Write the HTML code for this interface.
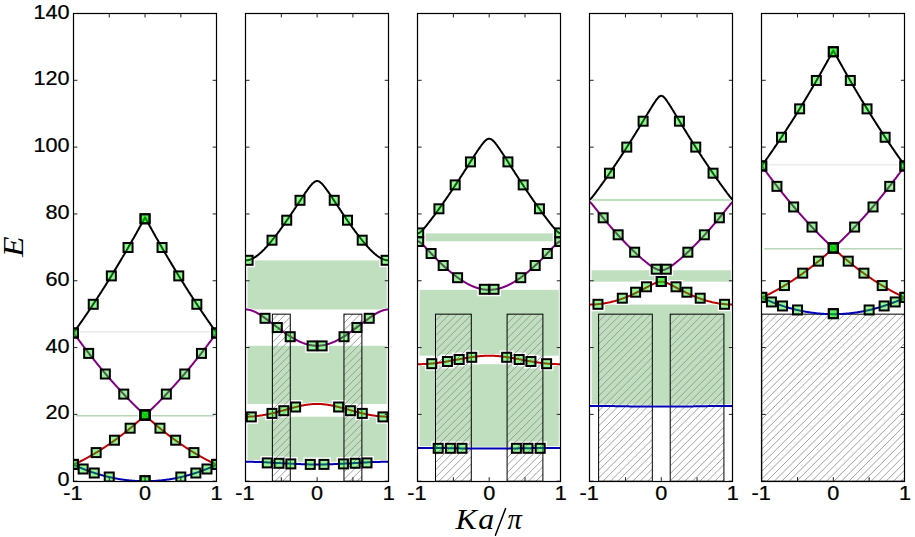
<!DOCTYPE html><html><head><meta charset="utf-8"><style>html,body{margin:0;padding:0;background:#fff;}svg{display:block;}</style></head><body>
<svg width="915" height="537" viewBox="0 0 915 537">
<rect x="0" y="0" width="915" height="537" fill="#fff"/>
<defs>
<clipPath id="c0"><rect x="73.45" y="13.50" width="143.20" height="467.70"/></clipPath>
<clipPath id="c1"><rect x="245.52" y="13.50" width="143.20" height="467.70"/></clipPath>
<clipPath id="c2"><rect x="417.59" y="13.50" width="143.20" height="467.70"/></clipPath>
<clipPath id="c3"><rect x="589.66" y="13.50" width="143.20" height="467.70"/></clipPath>
<clipPath id="c4"><rect x="761.73" y="13.50" width="143.20" height="467.70"/></clipPath>
</defs>
<g clip-path="url(#c0)">
<line x1="75.95" x2="214.15" y1="415.86" y2="415.86" stroke="rgb(186,214,186)" stroke-width="1.5"/>
<line x1="74.45" x2="215.65" y1="331.83" y2="331.83" stroke="rgb(236,236,236)" stroke-width="1.6"/>
<path d="M73.5,464.7L73.9,464.9L74.4,465.1L74.8,465.3L75.3,465.5L75.7,465.7L76.2,465.9L76.6,466.1L77.1,466.3L77.5,466.5L78.0,466.7L78.4,466.9L78.9,467.1L79.3,467.3L79.8,467.5L80.2,467.7L80.7,467.9L81.1,468.1L81.6,468.2L82.0,468.4L82.5,468.6L82.9,468.8L83.4,469.0L83.8,469.1L84.3,469.3L84.7,469.5L85.2,469.7L85.6,469.8L86.1,470.0L86.5,470.2L87.0,470.3L87.4,470.5L87.9,470.7L88.3,470.8L88.8,471.0L89.2,471.2L89.7,471.3L90.1,471.5L90.6,471.7L91.0,471.8L91.5,472.0L91.9,472.1L92.4,472.3L92.8,472.4L93.3,472.6L93.7,472.7L94.2,472.9L94.6,473.0L95.1,473.2L95.5,473.3L96.0,473.5L96.4,473.6L96.9,473.7L97.3,473.9L97.8,474.0L98.2,474.1L98.7,474.3L99.1,474.4L99.6,474.5L100.0,474.7L100.5,474.8L100.9,474.9L101.4,475.1L101.8,475.2L102.3,475.3L102.7,475.4L103.2,475.6L103.6,475.7L104.1,475.8L104.5,475.9L105.0,476.0L105.4,476.2L105.9,476.3L106.3,476.4L106.8,476.5L107.2,476.6L107.7,476.7L108.1,476.8L108.6,476.9L109.0,477.0L109.5,477.1L109.9,477.2L110.4,477.3L110.8,477.4L111.3,477.5L111.7,477.6L112.2,477.7L112.6,477.8L113.1,477.9L113.5,478.0L114.0,478.1L114.4,478.2L114.9,478.3L115.3,478.4L115.8,478.4L116.2,478.5L116.7,478.6L117.1,478.7L117.6,478.8L118.0,478.9L118.5,478.9L118.9,479.0L119.4,479.1L119.8,479.2L120.3,479.2L120.7,479.3L121.2,479.4L121.6,479.4L122.1,479.5L122.5,479.6L123.0,479.6L123.4,479.7L123.9,479.8L124.3,479.8L124.8,479.9L125.2,479.9L125.7,480.0L126.1,480.0L126.6,480.1L127.0,480.2L127.5,480.2L127.9,480.3L128.4,480.3L128.8,480.4L129.3,480.4L129.7,480.4L130.2,480.5L130.6,480.5L131.1,480.6L131.5,480.6L132.0,480.7L132.4,480.7L132.9,480.7L133.3,480.8L133.8,480.8L134.2,480.8L134.7,480.9L135.1,480.9L135.6,480.9L136.0,480.9L136.5,481.0L136.9,481.0L137.4,481.0L137.8,481.0L138.3,481.1L138.7,481.1L139.2,481.1L139.6,481.1L140.1,481.1L140.5,481.1L141.0,481.1L141.4,481.2L141.9,481.2L142.3,481.2L142.8,481.2L143.2,481.2L143.7,481.2L144.1,481.2L144.6,481.2L145.1,481.2L145.5,481.2L146.0,481.2L146.4,481.2L146.9,481.2L147.3,481.2L147.8,481.2L148.2,481.2L148.7,481.2L149.1,481.1L149.6,481.1L150.0,481.1L150.5,481.1L150.9,481.1L151.4,481.1L151.8,481.1L152.3,481.0L152.7,481.0L153.2,481.0L153.6,481.0L154.1,480.9L154.5,480.9L155.0,480.9L155.4,480.9L155.9,480.8L156.3,480.8L156.8,480.8L157.2,480.7L157.7,480.7L158.1,480.7L158.6,480.6L159.0,480.6L159.5,480.5L159.9,480.5L160.4,480.4L160.8,480.4L161.3,480.4L161.7,480.3L162.2,480.3L162.6,480.2L163.1,480.2L163.5,480.1L164.0,480.0L164.4,480.0L164.9,479.9L165.3,479.9L165.8,479.8L166.2,479.8L166.7,479.7L167.1,479.6L167.6,479.6L168.0,479.5L168.5,479.4L168.9,479.4L169.4,479.3L169.8,479.2L170.3,479.2L170.7,479.1L171.2,479.0L171.6,478.9L172.1,478.9L172.5,478.8L173.0,478.7L173.4,478.6L173.9,478.5L174.3,478.4L174.8,478.4L175.2,478.3L175.7,478.2L176.1,478.1L176.6,478.0L177.0,477.9L177.5,477.8L177.9,477.7L178.4,477.6L178.8,477.5L179.3,477.4L179.7,477.3L180.2,477.2L180.6,477.1L181.1,477.0L181.5,476.9L182.0,476.8L182.4,476.7L182.9,476.6L183.3,476.5L183.8,476.4L184.2,476.3L184.7,476.2L185.1,476.0L185.6,475.9L186.0,475.8L186.5,475.7L186.9,475.6L187.4,475.4L187.8,475.3L188.3,475.2L188.7,475.1L189.2,474.9L189.6,474.8L190.1,474.7L190.5,474.5L191.0,474.4L191.4,474.3L191.9,474.1L192.3,474.0L192.8,473.9L193.2,473.7L193.7,473.6L194.1,473.5L194.6,473.3L195.0,473.2L195.5,473.0L195.9,472.9L196.4,472.7L196.8,472.6L197.3,472.4L197.7,472.3L198.2,472.1L198.6,472.0L199.1,471.8L199.5,471.7L200.0,471.5L200.4,471.3L200.9,471.2L201.3,471.0L201.8,470.8L202.2,470.7L202.7,470.5L203.1,470.3L203.6,470.2L204.0,470.0L204.5,469.8L204.9,469.7L205.4,469.5L205.8,469.3L206.3,469.1L206.7,469.0L207.2,468.8L207.6,468.6L208.1,468.4L208.5,468.2L209.0,468.1L209.4,467.9L209.9,467.7L210.3,467.5L210.8,467.3L211.2,467.1L211.7,466.9L212.1,466.7L212.6,466.5L213.0,466.3L213.5,466.1L213.9,465.9L214.4,465.7L214.8,465.5L215.3,465.3L215.7,465.1L216.2,464.9L216.7,464.7" fill="none" stroke="#fff" stroke-width="3.60" stroke-linejoin="round"/>
<path d="M73.5,464.7L73.9,464.5L74.4,464.3L74.8,464.1L75.3,463.9L75.7,463.7L76.2,463.4L76.6,463.2L77.1,463.0L77.5,462.8L78.0,462.6L78.4,462.4L78.9,462.1L79.3,461.9L79.8,461.7L80.2,461.5L80.7,461.2L81.1,461.0L81.6,460.8L82.0,460.5L82.5,460.3L82.9,460.1L83.4,459.8L83.8,459.6L84.3,459.4L84.7,459.1L85.2,458.9L85.6,458.6L86.1,458.4L86.5,458.2L87.0,457.9L87.4,457.7L87.9,457.4L88.3,457.2L88.8,456.9L89.2,456.7L89.7,456.4L90.1,456.1L90.6,455.9L91.0,455.6L91.5,455.4L91.9,455.1L92.4,454.9L92.8,454.6L93.3,454.3L93.7,454.1L94.2,453.8L94.6,453.5L95.1,453.3L95.5,453.0L96.0,452.7L96.4,452.4L96.9,452.2L97.3,451.9L97.8,451.6L98.2,451.3L98.7,451.1L99.1,450.8L99.6,450.5L100.0,450.2L100.5,449.9L100.9,449.6L101.4,449.4L101.8,449.1L102.3,448.8L102.7,448.5L103.2,448.2L103.6,447.9L104.1,447.6L104.5,447.3L105.0,447.0L105.4,446.7L105.9,446.4L106.3,446.1L106.8,445.8L107.2,445.5L107.7,445.2L108.1,444.9L108.6,444.6L109.0,444.3L109.5,444.0L109.9,443.6L110.4,443.3L110.8,443.0L111.3,442.7L111.7,442.4L112.2,442.1L112.6,441.7L113.1,441.4L113.5,441.1L114.0,440.8L114.4,440.4L114.9,440.1L115.3,439.8L115.8,439.5L116.2,439.1L116.7,438.8L117.1,438.5L117.6,438.1L118.0,437.8L118.5,437.5L118.9,437.1L119.4,436.8L119.8,436.4L120.3,436.1L120.7,435.8L121.2,435.4L121.6,435.1L122.1,434.7L122.5,434.4L123.0,434.0L123.4,433.7L123.9,433.3L124.3,433.0L124.8,432.6L125.2,432.2L125.7,431.9L126.1,431.5L126.6,431.2L127.0,430.8L127.5,430.4L127.9,430.1L128.4,429.7L128.8,429.3L129.3,429.0L129.7,428.6L130.2,428.2L130.6,427.9L131.1,427.5L131.5,427.1L132.0,426.7L132.4,426.4L132.9,426.0L133.3,425.6L133.8,425.2L134.2,424.8L134.7,424.5L135.1,424.1L135.6,423.7L136.0,423.3L136.5,422.9L136.9,422.5L137.4,422.1L137.8,421.7L138.3,421.3L138.7,420.9L139.2,420.5L139.6,420.1L140.1,419.7L140.5,419.3L141.0,418.9L141.4,418.5L141.9,418.1L142.3,417.7L142.8,417.3L143.2,416.9L143.7,416.5L144.1,416.1L144.6,415.7L145.1,415.3L145.5,415.7L146.0,416.1L146.4,416.5L146.9,416.9L147.3,417.3L147.8,417.7L148.2,418.1L148.7,418.5L149.1,418.9L149.6,419.3L150.0,419.7L150.5,420.1L150.9,420.5L151.4,420.9L151.8,421.3L152.3,421.7L152.7,422.1L153.2,422.5L153.6,422.9L154.1,423.3L154.5,423.7L155.0,424.1L155.4,424.5L155.9,424.8L156.3,425.2L156.8,425.6L157.2,426.0L157.7,426.4L158.1,426.7L158.6,427.1L159.0,427.5L159.5,427.9L159.9,428.2L160.4,428.6L160.8,429.0L161.3,429.3L161.7,429.7L162.2,430.1L162.6,430.4L163.1,430.8L163.5,431.2L164.0,431.5L164.4,431.9L164.9,432.2L165.3,432.6L165.8,433.0L166.2,433.3L166.7,433.7L167.1,434.0L167.6,434.4L168.0,434.7L168.5,435.1L168.9,435.4L169.4,435.8L169.8,436.1L170.3,436.4L170.7,436.8L171.2,437.1L171.6,437.5L172.1,437.8L172.5,438.1L173.0,438.5L173.4,438.8L173.9,439.1L174.3,439.5L174.8,439.8L175.2,440.1L175.7,440.4L176.1,440.8L176.6,441.1L177.0,441.4L177.5,441.7L177.9,442.1L178.4,442.4L178.8,442.7L179.3,443.0L179.7,443.3L180.2,443.6L180.6,444.0L181.1,444.3L181.5,444.6L182.0,444.9L182.4,445.2L182.9,445.5L183.3,445.8L183.8,446.1L184.2,446.4L184.7,446.7L185.1,447.0L185.6,447.3L186.0,447.6L186.5,447.9L186.9,448.2L187.4,448.5L187.8,448.8L188.3,449.1L188.7,449.4L189.2,449.6L189.6,449.9L190.1,450.2L190.5,450.5L191.0,450.8L191.4,451.1L191.9,451.3L192.3,451.6L192.8,451.9L193.2,452.2L193.7,452.4L194.1,452.7L194.6,453.0L195.0,453.3L195.5,453.5L195.9,453.8L196.4,454.1L196.8,454.3L197.3,454.6L197.7,454.9L198.2,455.1L198.6,455.4L199.1,455.6L199.5,455.9L200.0,456.1L200.4,456.4L200.9,456.7L201.3,456.9L201.8,457.2L202.2,457.4L202.7,457.7L203.1,457.9L203.6,458.2L204.0,458.4L204.5,458.6L204.9,458.9L205.4,459.1L205.8,459.4L206.3,459.6L206.7,459.8L207.2,460.1L207.6,460.3L208.1,460.5L208.5,460.8L209.0,461.0L209.4,461.2L209.9,461.5L210.3,461.7L210.8,461.9L211.2,462.1L211.7,462.4L212.1,462.6L212.6,462.8L213.0,463.0L213.5,463.2L213.9,463.4L214.4,463.7L214.8,463.9L215.3,464.1L215.7,464.3L216.2,464.5L216.7,464.7" fill="none" stroke="#fff" stroke-width="3.60" stroke-linejoin="round"/>
<path d="M73.5,332.8L73.9,333.4L74.4,334.1L74.8,334.7L75.3,335.3L75.7,335.9L76.2,336.5L76.6,337.2L77.1,337.8L77.5,338.4L78.0,339.0L78.4,339.6L78.9,340.2L79.3,340.8L79.8,341.4L80.2,342.0L80.7,342.6L81.1,343.2L81.6,343.8L82.0,344.4L82.5,345.0L82.9,345.6L83.4,346.2L83.8,346.8L84.3,347.4L84.7,348.0L85.2,348.6L85.6,349.1L86.1,349.7L86.5,350.3L87.0,350.9L87.4,351.5L87.9,352.1L88.3,352.6L88.8,353.2L89.2,353.8L89.7,354.4L90.1,355.0L90.6,355.5L91.0,356.1L91.5,356.7L91.9,357.2L92.4,357.8L92.8,358.4L93.3,358.9L93.7,359.5L94.2,360.1L94.6,360.6L95.1,361.2L95.5,361.7L96.0,362.3L96.4,362.9L96.9,363.4L97.3,364.0L97.8,364.5L98.2,365.1L98.7,365.6L99.1,366.2L99.6,366.7L100.0,367.3L100.5,367.8L100.9,368.4L101.4,368.9L101.8,369.4L102.3,370.0L102.7,370.5L103.2,371.0L103.6,371.6L104.1,372.1L104.5,372.6L105.0,373.2L105.4,373.7L105.9,374.2L106.3,374.8L106.8,375.3L107.2,375.8L107.7,376.3L108.1,376.9L108.6,377.4L109.0,377.9L109.5,378.4L109.9,378.9L110.4,379.5L110.8,380.0L111.3,380.5L111.7,381.0L112.2,381.5L112.6,382.0L113.1,382.5L113.5,383.0L114.0,383.5L114.4,384.0L114.9,384.5L115.3,385.0L115.8,385.5L116.2,386.0L116.7,386.5L117.1,387.0L117.6,387.5L118.0,388.0L118.5,388.5L118.9,389.0L119.4,389.5L119.8,390.0L120.3,390.5L120.7,391.0L121.2,391.4L121.6,391.9L122.1,392.4L122.5,392.9L123.0,393.4L123.4,393.8L123.9,394.3L124.3,394.8L124.8,395.3L125.2,395.7L125.7,396.2L126.1,396.7L126.6,397.2L127.0,397.6L127.5,398.1L127.9,398.6L128.4,399.0L128.8,399.5L129.3,399.9L129.7,400.4L130.2,400.9L130.6,401.3L131.1,401.8L131.5,402.2L132.0,402.7L132.4,403.1L132.9,403.6L133.3,404.0L133.8,404.5L134.2,404.9L134.7,405.4L135.1,405.8L135.6,406.3L136.0,406.7L136.5,407.1L136.9,407.6L137.4,408.0L137.8,408.5L138.3,408.9L138.7,409.3L139.2,409.8L139.6,410.2L140.1,410.6L140.5,411.0L141.0,411.5L141.4,411.9L141.9,412.3L142.3,412.7L142.8,413.2L143.2,413.6L143.7,414.0L144.1,414.4L144.6,414.8L145.1,415.3L145.5,414.8L146.0,414.4L146.4,414.0L146.9,413.6L147.3,413.2L147.8,412.7L148.2,412.3L148.7,411.9L149.1,411.5L149.6,411.0L150.0,410.6L150.5,410.2L150.9,409.8L151.4,409.3L151.8,408.9L152.3,408.5L152.7,408.0L153.2,407.6L153.6,407.1L154.1,406.7L154.5,406.3L155.0,405.8L155.4,405.4L155.9,404.9L156.3,404.5L156.8,404.0L157.2,403.6L157.7,403.1L158.1,402.7L158.6,402.2L159.0,401.8L159.5,401.3L159.9,400.9L160.4,400.4L160.8,399.9L161.3,399.5L161.7,399.0L162.2,398.6L162.6,398.1L163.1,397.6L163.5,397.2L164.0,396.7L164.4,396.2L164.9,395.7L165.3,395.3L165.8,394.8L166.2,394.3L166.7,393.8L167.1,393.4L167.6,392.9L168.0,392.4L168.5,391.9L168.9,391.4L169.4,391.0L169.8,390.5L170.3,390.0L170.7,389.5L171.2,389.0L171.6,388.5L172.1,388.0L172.5,387.5L173.0,387.0L173.4,386.5L173.9,386.0L174.3,385.5L174.8,385.0L175.2,384.5L175.7,384.0L176.1,383.5L176.6,383.0L177.0,382.5L177.5,382.0L177.9,381.5L178.4,381.0L178.8,380.5L179.3,380.0L179.7,379.5L180.2,378.9L180.6,378.4L181.1,377.9L181.5,377.4L182.0,376.9L182.4,376.3L182.9,375.8L183.3,375.3L183.8,374.8L184.2,374.2L184.7,373.7L185.1,373.2L185.6,372.6L186.0,372.1L186.5,371.6L186.9,371.0L187.4,370.5L187.8,370.0L188.3,369.4L188.7,368.9L189.2,368.4L189.6,367.8L190.1,367.3L190.5,366.7L191.0,366.2L191.4,365.6L191.9,365.1L192.3,364.5L192.8,364.0L193.2,363.4L193.7,362.9L194.1,362.3L194.6,361.7L195.0,361.2L195.5,360.6L195.9,360.1L196.4,359.5L196.8,358.9L197.3,358.4L197.7,357.8L198.2,357.2L198.6,356.7L199.1,356.1L199.5,355.5L200.0,355.0L200.4,354.4L200.9,353.8L201.3,353.2L201.8,352.6L202.2,352.1L202.7,351.5L203.1,350.9L203.6,350.3L204.0,349.7L204.5,349.1L204.9,348.6L205.4,348.0L205.8,347.4L206.3,346.8L206.7,346.2L207.2,345.6L207.6,345.0L208.1,344.4L208.5,343.8L209.0,343.2L209.4,342.6L209.9,342.0L210.3,341.4L210.8,340.8L211.2,340.2L211.7,339.6L212.1,339.0L212.6,338.4L213.0,337.8L213.5,337.2L213.9,336.5L214.4,335.9L214.8,335.3L215.3,334.7L215.7,334.1L216.2,333.4L216.7,332.8" fill="none" stroke="#fff" stroke-width="3.60" stroke-linejoin="round"/>
<path d="M73.5,332.8L73.9,332.2L74.4,331.6L74.8,331.0L75.3,330.3L75.7,329.7L76.2,329.1L76.6,328.4L77.1,327.8L77.5,327.2L78.0,326.5L78.4,325.9L78.9,325.3L79.3,324.6L79.8,324.0L80.2,323.3L80.7,322.7L81.1,322.1L81.6,321.4L82.0,320.8L82.5,320.1L82.9,319.5L83.4,318.8L83.8,318.2L84.3,317.5L84.7,316.9L85.2,316.2L85.6,315.6L86.1,314.9L86.5,314.2L87.0,313.6L87.4,312.9L87.9,312.3L88.3,311.6L88.8,310.9L89.2,310.3L89.7,309.6L90.1,308.9L90.6,308.2L91.0,307.6L91.5,306.9L91.9,306.2L92.4,305.5L92.8,304.9L93.3,304.2L93.7,303.5L94.2,302.8L94.6,302.1L95.1,301.5L95.5,300.8L96.0,300.1L96.4,299.4L96.9,298.7L97.3,298.0L97.8,297.3L98.2,296.6L98.7,295.9L99.1,295.2L99.6,294.6L100.0,293.9L100.5,293.2L100.9,292.5L101.4,291.8L101.8,291.0L102.3,290.3L102.7,289.6L103.2,288.9L103.6,288.2L104.1,287.5L104.5,286.8L105.0,286.1L105.4,285.4L105.9,284.7L106.3,283.9L106.8,283.2L107.2,282.5L107.7,281.8L108.1,281.1L108.6,280.3L109.0,279.6L109.5,278.9L109.9,278.2L110.4,277.4L110.8,276.7L111.3,276.0L111.7,275.2L112.2,274.5L112.6,273.8L113.1,273.0L113.5,272.3L114.0,271.6L114.4,270.8L114.9,270.1L115.3,269.3L115.8,268.6L116.2,267.8L116.7,267.1L117.1,266.3L117.6,265.6L118.0,264.8L118.5,264.1L118.9,263.3L119.4,262.6L119.8,261.8L120.3,261.1L120.7,260.3L121.2,259.6L121.6,258.8L122.1,258.0L122.5,257.3L123.0,256.5L123.4,255.7L123.9,255.0L124.3,254.2L124.8,253.4L125.2,252.7L125.7,251.9L126.1,251.1L126.6,250.3L127.0,249.6L127.5,248.8L127.9,248.0L128.4,247.2L128.8,246.4L129.3,245.7L129.7,244.9L130.2,244.1L130.6,243.3L131.1,242.5L131.5,241.7L132.0,240.9L132.4,240.1L132.9,239.3L133.3,238.6L133.8,237.8L134.2,237.0L134.7,236.2L135.1,235.4L135.6,234.6L136.0,233.8L136.5,233.0L136.9,232.1L137.4,231.3L137.8,230.5L138.3,229.7L138.7,228.9L139.2,228.1L139.6,227.3L140.1,226.5L140.5,225.7L141.0,224.8L141.4,224.0L141.9,223.2L142.3,222.4L142.8,221.6L143.2,220.7L143.7,219.9L144.1,219.1L144.6,218.3L145.1,217.4L145.5,218.3L146.0,219.1L146.4,219.9L146.9,220.7L147.3,221.6L147.8,222.4L148.2,223.2L148.7,224.0L149.1,224.8L149.6,225.7L150.0,226.5L150.5,227.3L150.9,228.1L151.4,228.9L151.8,229.7L152.3,230.5L152.7,231.3L153.2,232.1L153.6,233.0L154.1,233.8L154.5,234.6L155.0,235.4L155.4,236.2L155.9,237.0L156.3,237.8L156.8,238.6L157.2,239.3L157.7,240.1L158.1,240.9L158.6,241.7L159.0,242.5L159.5,243.3L159.9,244.1L160.4,244.9L160.8,245.7L161.3,246.4L161.7,247.2L162.2,248.0L162.6,248.8L163.1,249.6L163.5,250.3L164.0,251.1L164.4,251.9L164.9,252.7L165.3,253.4L165.8,254.2L166.2,255.0L166.7,255.7L167.1,256.5L167.6,257.3L168.0,258.0L168.5,258.8L168.9,259.6L169.4,260.3L169.8,261.1L170.3,261.8L170.7,262.6L171.2,263.3L171.6,264.1L172.1,264.8L172.5,265.6L173.0,266.3L173.4,267.1L173.9,267.8L174.3,268.6L174.8,269.3L175.2,270.1L175.7,270.8L176.1,271.6L176.6,272.3L177.0,273.0L177.5,273.8L177.9,274.5L178.4,275.2L178.8,276.0L179.3,276.7L179.7,277.4L180.2,278.2L180.6,278.9L181.1,279.6L181.5,280.3L182.0,281.1L182.4,281.8L182.9,282.5L183.3,283.2L183.8,283.9L184.2,284.7L184.7,285.4L185.1,286.1L185.6,286.8L186.0,287.5L186.5,288.2L186.9,288.9L187.4,289.6L187.8,290.3L188.3,291.0L188.7,291.8L189.2,292.5L189.6,293.2L190.1,293.9L190.5,294.6L191.0,295.2L191.4,295.9L191.9,296.6L192.3,297.3L192.8,298.0L193.2,298.7L193.7,299.4L194.1,300.1L194.6,300.8L195.0,301.5L195.5,302.1L195.9,302.8L196.4,303.5L196.8,304.2L197.3,304.9L197.7,305.5L198.2,306.2L198.6,306.9L199.1,307.6L199.5,308.2L200.0,308.9L200.4,309.6L200.9,310.3L201.3,310.9L201.8,311.6L202.2,312.3L202.7,312.9L203.1,313.6L203.6,314.2L204.0,314.9L204.5,315.6L204.9,316.2L205.4,316.9L205.8,317.5L206.3,318.2L206.7,318.8L207.2,319.5L207.6,320.1L208.1,320.8L208.5,321.4L209.0,322.1L209.4,322.7L209.9,323.3L210.3,324.0L210.8,324.6L211.2,325.3L211.7,325.9L212.1,326.5L212.6,327.2L213.0,327.8L213.5,328.4L213.9,329.1L214.4,329.7L214.8,330.3L215.3,331.0L215.7,331.6L216.2,332.2L216.7,332.8" fill="none" stroke="#fff" stroke-width="3.60" stroke-linejoin="round"/>
<path d="M138.15,473.80h13.80v13.80h-13.80zM138.15,473.80h13.80v13.80h-13.80zM102.35,470.10h13.80v13.80h-13.80zM173.95,470.10h13.80v13.80h-13.80zM87.35,466.10h13.80v13.80h-13.80zM188.95,466.10h13.80v13.80h-13.80zM76.25,462.10h13.80v13.80h-13.80zM200.05,462.10h13.80v13.80h-13.80zM66.55,457.50h13.80v13.80h-13.80zM209.75,457.50h13.80v13.80h-13.80zM138.15,408.10h13.80v13.80h-13.80zM138.15,408.10h13.80v13.80h-13.80zM123.25,421.30h13.80v13.80h-13.80zM153.05,421.30h13.80v13.80h-13.80zM107.55,433.30h13.80v13.80h-13.80zM168.75,433.30h13.80v13.80h-13.80zM89.25,445.70h13.80v13.80h-13.80zM187.05,445.70h13.80v13.80h-13.80zM66.55,457.50h13.80v13.80h-13.80zM209.75,457.50h13.80v13.80h-13.80zM138.15,408.10h13.80v13.80h-13.80zM138.15,408.10h13.80v13.80h-13.80zM116.85,387.20h13.80v13.80h-13.80zM159.45,387.20h13.80v13.80h-13.80zM98.45,367.10h13.80v13.80h-13.80zM177.85,367.10h13.80v13.80h-13.80zM81.75,346.50h13.80v13.80h-13.80zM194.55,346.50h13.80v13.80h-13.80zM66.55,326.10h13.80v13.80h-13.80zM209.75,326.10h13.80v13.80h-13.80zM138.15,211.90h13.80v13.80h-13.80zM138.15,211.90h13.80v13.80h-13.80zM121.15,240.60h13.80v13.80h-13.80zM155.15,240.60h13.80v13.80h-13.80zM104.45,269.00h13.80v13.80h-13.80zM171.85,269.00h13.80v13.80h-13.80zM86.35,297.40h13.80v13.80h-13.80zM189.95,297.40h13.80v13.80h-13.80zM66.55,326.10h13.80v13.80h-13.80zM209.75,326.10h13.80v13.80h-13.80z" fill="#fff"/>
<path d="M73.5,464.7L73.9,464.9L74.4,465.1L74.8,465.3L75.3,465.5L75.7,465.7L76.2,465.9L76.6,466.1L77.1,466.3L77.5,466.5L78.0,466.7L78.4,466.9L78.9,467.1L79.3,467.3L79.8,467.5L80.2,467.7L80.7,467.9L81.1,468.1L81.6,468.2L82.0,468.4L82.5,468.6L82.9,468.8L83.4,469.0L83.8,469.1L84.3,469.3L84.7,469.5L85.2,469.7L85.6,469.8L86.1,470.0L86.5,470.2L87.0,470.3L87.4,470.5L87.9,470.7L88.3,470.8L88.8,471.0L89.2,471.2L89.7,471.3L90.1,471.5L90.6,471.7L91.0,471.8L91.5,472.0L91.9,472.1L92.4,472.3L92.8,472.4L93.3,472.6L93.7,472.7L94.2,472.9L94.6,473.0L95.1,473.2L95.5,473.3L96.0,473.5L96.4,473.6L96.9,473.7L97.3,473.9L97.8,474.0L98.2,474.1L98.7,474.3L99.1,474.4L99.6,474.5L100.0,474.7L100.5,474.8L100.9,474.9L101.4,475.1L101.8,475.2L102.3,475.3L102.7,475.4L103.2,475.6L103.6,475.7L104.1,475.8L104.5,475.9L105.0,476.0L105.4,476.2L105.9,476.3L106.3,476.4L106.8,476.5L107.2,476.6L107.7,476.7L108.1,476.8L108.6,476.9L109.0,477.0L109.5,477.1L109.9,477.2L110.4,477.3L110.8,477.4L111.3,477.5L111.7,477.6L112.2,477.7L112.6,477.8L113.1,477.9L113.5,478.0L114.0,478.1L114.4,478.2L114.9,478.3L115.3,478.4L115.8,478.4L116.2,478.5L116.7,478.6L117.1,478.7L117.6,478.8L118.0,478.9L118.5,478.9L118.9,479.0L119.4,479.1L119.8,479.2L120.3,479.2L120.7,479.3L121.2,479.4L121.6,479.4L122.1,479.5L122.5,479.6L123.0,479.6L123.4,479.7L123.9,479.8L124.3,479.8L124.8,479.9L125.2,479.9L125.7,480.0L126.1,480.0L126.6,480.1L127.0,480.2L127.5,480.2L127.9,480.3L128.4,480.3L128.8,480.4L129.3,480.4L129.7,480.4L130.2,480.5L130.6,480.5L131.1,480.6L131.5,480.6L132.0,480.7L132.4,480.7L132.9,480.7L133.3,480.8L133.8,480.8L134.2,480.8L134.7,480.9L135.1,480.9L135.6,480.9L136.0,480.9L136.5,481.0L136.9,481.0L137.4,481.0L137.8,481.0L138.3,481.1L138.7,481.1L139.2,481.1L139.6,481.1L140.1,481.1L140.5,481.1L141.0,481.1L141.4,481.2L141.9,481.2L142.3,481.2L142.8,481.2L143.2,481.2L143.7,481.2L144.1,481.2L144.6,481.2L145.1,481.2L145.5,481.2L146.0,481.2L146.4,481.2L146.9,481.2L147.3,481.2L147.8,481.2L148.2,481.2L148.7,481.2L149.1,481.1L149.6,481.1L150.0,481.1L150.5,481.1L150.9,481.1L151.4,481.1L151.8,481.1L152.3,481.0L152.7,481.0L153.2,481.0L153.6,481.0L154.1,480.9L154.5,480.9L155.0,480.9L155.4,480.9L155.9,480.8L156.3,480.8L156.8,480.8L157.2,480.7L157.7,480.7L158.1,480.7L158.6,480.6L159.0,480.6L159.5,480.5L159.9,480.5L160.4,480.4L160.8,480.4L161.3,480.4L161.7,480.3L162.2,480.3L162.6,480.2L163.1,480.2L163.5,480.1L164.0,480.0L164.4,480.0L164.9,479.9L165.3,479.9L165.8,479.8L166.2,479.8L166.7,479.7L167.1,479.6L167.6,479.6L168.0,479.5L168.5,479.4L168.9,479.4L169.4,479.3L169.8,479.2L170.3,479.2L170.7,479.1L171.2,479.0L171.6,478.9L172.1,478.9L172.5,478.8L173.0,478.7L173.4,478.6L173.9,478.5L174.3,478.4L174.8,478.4L175.2,478.3L175.7,478.2L176.1,478.1L176.6,478.0L177.0,477.9L177.5,477.8L177.9,477.7L178.4,477.6L178.8,477.5L179.3,477.4L179.7,477.3L180.2,477.2L180.6,477.1L181.1,477.0L181.5,476.9L182.0,476.8L182.4,476.7L182.9,476.6L183.3,476.5L183.8,476.4L184.2,476.3L184.7,476.2L185.1,476.0L185.6,475.9L186.0,475.8L186.5,475.7L186.9,475.6L187.4,475.4L187.8,475.3L188.3,475.2L188.7,475.1L189.2,474.9L189.6,474.8L190.1,474.7L190.5,474.5L191.0,474.4L191.4,474.3L191.9,474.1L192.3,474.0L192.8,473.9L193.2,473.7L193.7,473.6L194.1,473.5L194.6,473.3L195.0,473.2L195.5,473.0L195.9,472.9L196.4,472.7L196.8,472.6L197.3,472.4L197.7,472.3L198.2,472.1L198.6,472.0L199.1,471.8L199.5,471.7L200.0,471.5L200.4,471.3L200.9,471.2L201.3,471.0L201.8,470.8L202.2,470.7L202.7,470.5L203.1,470.3L203.6,470.2L204.0,470.0L204.5,469.8L204.9,469.7L205.4,469.5L205.8,469.3L206.3,469.1L206.7,469.0L207.2,468.8L207.6,468.6L208.1,468.4L208.5,468.2L209.0,468.1L209.4,467.9L209.9,467.7L210.3,467.5L210.8,467.3L211.2,467.1L211.7,466.9L212.1,466.7L212.6,466.5L213.0,466.3L213.5,466.1L213.9,465.9L214.4,465.7L214.8,465.5L215.3,465.3L215.7,465.1L216.2,464.9L216.7,464.7" fill="none" stroke="#0000b4" stroke-width="2" stroke-linejoin="round"/>
<path d="M73.5,464.7L73.9,464.5L74.4,464.3L74.8,464.1L75.3,463.9L75.7,463.7L76.2,463.4L76.6,463.2L77.1,463.0L77.5,462.8L78.0,462.6L78.4,462.4L78.9,462.1L79.3,461.9L79.8,461.7L80.2,461.5L80.7,461.2L81.1,461.0L81.6,460.8L82.0,460.5L82.5,460.3L82.9,460.1L83.4,459.8L83.8,459.6L84.3,459.4L84.7,459.1L85.2,458.9L85.6,458.6L86.1,458.4L86.5,458.2L87.0,457.9L87.4,457.7L87.9,457.4L88.3,457.2L88.8,456.9L89.2,456.7L89.7,456.4L90.1,456.1L90.6,455.9L91.0,455.6L91.5,455.4L91.9,455.1L92.4,454.9L92.8,454.6L93.3,454.3L93.7,454.1L94.2,453.8L94.6,453.5L95.1,453.3L95.5,453.0L96.0,452.7L96.4,452.4L96.9,452.2L97.3,451.9L97.8,451.6L98.2,451.3L98.7,451.1L99.1,450.8L99.6,450.5L100.0,450.2L100.5,449.9L100.9,449.6L101.4,449.4L101.8,449.1L102.3,448.8L102.7,448.5L103.2,448.2L103.6,447.9L104.1,447.6L104.5,447.3L105.0,447.0L105.4,446.7L105.9,446.4L106.3,446.1L106.8,445.8L107.2,445.5L107.7,445.2L108.1,444.9L108.6,444.6L109.0,444.3L109.5,444.0L109.9,443.6L110.4,443.3L110.8,443.0L111.3,442.7L111.7,442.4L112.2,442.1L112.6,441.7L113.1,441.4L113.5,441.1L114.0,440.8L114.4,440.4L114.9,440.1L115.3,439.8L115.8,439.5L116.2,439.1L116.7,438.8L117.1,438.5L117.6,438.1L118.0,437.8L118.5,437.5L118.9,437.1L119.4,436.8L119.8,436.4L120.3,436.1L120.7,435.8L121.2,435.4L121.6,435.1L122.1,434.7L122.5,434.4L123.0,434.0L123.4,433.7L123.9,433.3L124.3,433.0L124.8,432.6L125.2,432.2L125.7,431.9L126.1,431.5L126.6,431.2L127.0,430.8L127.5,430.4L127.9,430.1L128.4,429.7L128.8,429.3L129.3,429.0L129.7,428.6L130.2,428.2L130.6,427.9L131.1,427.5L131.5,427.1L132.0,426.7L132.4,426.4L132.9,426.0L133.3,425.6L133.8,425.2L134.2,424.8L134.7,424.5L135.1,424.1L135.6,423.7L136.0,423.3L136.5,422.9L136.9,422.5L137.4,422.1L137.8,421.7L138.3,421.3L138.7,420.9L139.2,420.5L139.6,420.1L140.1,419.7L140.5,419.3L141.0,418.9L141.4,418.5L141.9,418.1L142.3,417.7L142.8,417.3L143.2,416.9L143.7,416.5L144.1,416.1L144.6,415.7L145.1,415.3L145.5,415.7L146.0,416.1L146.4,416.5L146.9,416.9L147.3,417.3L147.8,417.7L148.2,418.1L148.7,418.5L149.1,418.9L149.6,419.3L150.0,419.7L150.5,420.1L150.9,420.5L151.4,420.9L151.8,421.3L152.3,421.7L152.7,422.1L153.2,422.5L153.6,422.9L154.1,423.3L154.5,423.7L155.0,424.1L155.4,424.5L155.9,424.8L156.3,425.2L156.8,425.6L157.2,426.0L157.7,426.4L158.1,426.7L158.6,427.1L159.0,427.5L159.5,427.9L159.9,428.2L160.4,428.6L160.8,429.0L161.3,429.3L161.7,429.7L162.2,430.1L162.6,430.4L163.1,430.8L163.5,431.2L164.0,431.5L164.4,431.9L164.9,432.2L165.3,432.6L165.8,433.0L166.2,433.3L166.7,433.7L167.1,434.0L167.6,434.4L168.0,434.7L168.5,435.1L168.9,435.4L169.4,435.8L169.8,436.1L170.3,436.4L170.7,436.8L171.2,437.1L171.6,437.5L172.1,437.8L172.5,438.1L173.0,438.5L173.4,438.8L173.9,439.1L174.3,439.5L174.8,439.8L175.2,440.1L175.7,440.4L176.1,440.8L176.6,441.1L177.0,441.4L177.5,441.7L177.9,442.1L178.4,442.4L178.8,442.7L179.3,443.0L179.7,443.3L180.2,443.6L180.6,444.0L181.1,444.3L181.5,444.6L182.0,444.9L182.4,445.2L182.9,445.5L183.3,445.8L183.8,446.1L184.2,446.4L184.7,446.7L185.1,447.0L185.6,447.3L186.0,447.6L186.5,447.9L186.9,448.2L187.4,448.5L187.8,448.8L188.3,449.1L188.7,449.4L189.2,449.6L189.6,449.9L190.1,450.2L190.5,450.5L191.0,450.8L191.4,451.1L191.9,451.3L192.3,451.6L192.8,451.9L193.2,452.2L193.7,452.4L194.1,452.7L194.6,453.0L195.0,453.3L195.5,453.5L195.9,453.8L196.4,454.1L196.8,454.3L197.3,454.6L197.7,454.9L198.2,455.1L198.6,455.4L199.1,455.6L199.5,455.9L200.0,456.1L200.4,456.4L200.9,456.7L201.3,456.9L201.8,457.2L202.2,457.4L202.7,457.7L203.1,457.9L203.6,458.2L204.0,458.4L204.5,458.6L204.9,458.9L205.4,459.1L205.8,459.4L206.3,459.6L206.7,459.8L207.2,460.1L207.6,460.3L208.1,460.5L208.5,460.8L209.0,461.0L209.4,461.2L209.9,461.5L210.3,461.7L210.8,461.9L211.2,462.1L211.7,462.4L212.1,462.6L212.6,462.8L213.0,463.0L213.5,463.2L213.9,463.4L214.4,463.7L214.8,463.9L215.3,464.1L215.7,464.3L216.2,464.5L216.7,464.7" fill="none" stroke="#c00000" stroke-width="2" stroke-linejoin="round"/>
<path d="M73.5,332.8L73.9,333.4L74.4,334.1L74.8,334.7L75.3,335.3L75.7,335.9L76.2,336.5L76.6,337.2L77.1,337.8L77.5,338.4L78.0,339.0L78.4,339.6L78.9,340.2L79.3,340.8L79.8,341.4L80.2,342.0L80.7,342.6L81.1,343.2L81.6,343.8L82.0,344.4L82.5,345.0L82.9,345.6L83.4,346.2L83.8,346.8L84.3,347.4L84.7,348.0L85.2,348.6L85.6,349.1L86.1,349.7L86.5,350.3L87.0,350.9L87.4,351.5L87.9,352.1L88.3,352.6L88.8,353.2L89.2,353.8L89.7,354.4L90.1,355.0L90.6,355.5L91.0,356.1L91.5,356.7L91.9,357.2L92.4,357.8L92.8,358.4L93.3,358.9L93.7,359.5L94.2,360.1L94.6,360.6L95.1,361.2L95.5,361.7L96.0,362.3L96.4,362.9L96.9,363.4L97.3,364.0L97.8,364.5L98.2,365.1L98.7,365.6L99.1,366.2L99.6,366.7L100.0,367.3L100.5,367.8L100.9,368.4L101.4,368.9L101.8,369.4L102.3,370.0L102.7,370.5L103.2,371.0L103.6,371.6L104.1,372.1L104.5,372.6L105.0,373.2L105.4,373.7L105.9,374.2L106.3,374.8L106.8,375.3L107.2,375.8L107.7,376.3L108.1,376.9L108.6,377.4L109.0,377.9L109.5,378.4L109.9,378.9L110.4,379.5L110.8,380.0L111.3,380.5L111.7,381.0L112.2,381.5L112.6,382.0L113.1,382.5L113.5,383.0L114.0,383.5L114.4,384.0L114.9,384.5L115.3,385.0L115.8,385.5L116.2,386.0L116.7,386.5L117.1,387.0L117.6,387.5L118.0,388.0L118.5,388.5L118.9,389.0L119.4,389.5L119.8,390.0L120.3,390.5L120.7,391.0L121.2,391.4L121.6,391.9L122.1,392.4L122.5,392.9L123.0,393.4L123.4,393.8L123.9,394.3L124.3,394.8L124.8,395.3L125.2,395.7L125.7,396.2L126.1,396.7L126.6,397.2L127.0,397.6L127.5,398.1L127.9,398.6L128.4,399.0L128.8,399.5L129.3,399.9L129.7,400.4L130.2,400.9L130.6,401.3L131.1,401.8L131.5,402.2L132.0,402.7L132.4,403.1L132.9,403.6L133.3,404.0L133.8,404.5L134.2,404.9L134.7,405.4L135.1,405.8L135.6,406.3L136.0,406.7L136.5,407.1L136.9,407.6L137.4,408.0L137.8,408.5L138.3,408.9L138.7,409.3L139.2,409.8L139.6,410.2L140.1,410.6L140.5,411.0L141.0,411.5L141.4,411.9L141.9,412.3L142.3,412.7L142.8,413.2L143.2,413.6L143.7,414.0L144.1,414.4L144.6,414.8L145.1,415.3L145.5,414.8L146.0,414.4L146.4,414.0L146.9,413.6L147.3,413.2L147.8,412.7L148.2,412.3L148.7,411.9L149.1,411.5L149.6,411.0L150.0,410.6L150.5,410.2L150.9,409.8L151.4,409.3L151.8,408.9L152.3,408.5L152.7,408.0L153.2,407.6L153.6,407.1L154.1,406.7L154.5,406.3L155.0,405.8L155.4,405.4L155.9,404.9L156.3,404.5L156.8,404.0L157.2,403.6L157.7,403.1L158.1,402.7L158.6,402.2L159.0,401.8L159.5,401.3L159.9,400.9L160.4,400.4L160.8,399.9L161.3,399.5L161.7,399.0L162.2,398.6L162.6,398.1L163.1,397.6L163.5,397.2L164.0,396.7L164.4,396.2L164.9,395.7L165.3,395.3L165.8,394.8L166.2,394.3L166.7,393.8L167.1,393.4L167.6,392.9L168.0,392.4L168.5,391.9L168.9,391.4L169.4,391.0L169.8,390.5L170.3,390.0L170.7,389.5L171.2,389.0L171.6,388.5L172.1,388.0L172.5,387.5L173.0,387.0L173.4,386.5L173.9,386.0L174.3,385.5L174.8,385.0L175.2,384.5L175.7,384.0L176.1,383.5L176.6,383.0L177.0,382.5L177.5,382.0L177.9,381.5L178.4,381.0L178.8,380.5L179.3,380.0L179.7,379.5L180.2,378.9L180.6,378.4L181.1,377.9L181.5,377.4L182.0,376.9L182.4,376.3L182.9,375.8L183.3,375.3L183.8,374.8L184.2,374.2L184.7,373.7L185.1,373.2L185.6,372.6L186.0,372.1L186.5,371.6L186.9,371.0L187.4,370.5L187.8,370.0L188.3,369.4L188.7,368.9L189.2,368.4L189.6,367.8L190.1,367.3L190.5,366.7L191.0,366.2L191.4,365.6L191.9,365.1L192.3,364.5L192.8,364.0L193.2,363.4L193.7,362.9L194.1,362.3L194.6,361.7L195.0,361.2L195.5,360.6L195.9,360.1L196.4,359.5L196.8,358.9L197.3,358.4L197.7,357.8L198.2,357.2L198.6,356.7L199.1,356.1L199.5,355.5L200.0,355.0L200.4,354.4L200.9,353.8L201.3,353.2L201.8,352.6L202.2,352.1L202.7,351.5L203.1,350.9L203.6,350.3L204.0,349.7L204.5,349.1L204.9,348.6L205.4,348.0L205.8,347.4L206.3,346.8L206.7,346.2L207.2,345.6L207.6,345.0L208.1,344.4L208.5,343.8L209.0,343.2L209.4,342.6L209.9,342.0L210.3,341.4L210.8,340.8L211.2,340.2L211.7,339.6L212.1,339.0L212.6,338.4L213.0,337.8L213.5,337.2L213.9,336.5L214.4,335.9L214.8,335.3L215.3,334.7L215.7,334.1L216.2,333.4L216.7,332.8" fill="none" stroke="#800080" stroke-width="2" stroke-linejoin="round"/>
<path d="M73.5,332.8L73.9,332.2L74.4,331.6L74.8,331.0L75.3,330.3L75.7,329.7L76.2,329.1L76.6,328.4L77.1,327.8L77.5,327.2L78.0,326.5L78.4,325.9L78.9,325.3L79.3,324.6L79.8,324.0L80.2,323.3L80.7,322.7L81.1,322.1L81.6,321.4L82.0,320.8L82.5,320.1L82.9,319.5L83.4,318.8L83.8,318.2L84.3,317.5L84.7,316.9L85.2,316.2L85.6,315.6L86.1,314.9L86.5,314.2L87.0,313.6L87.4,312.9L87.9,312.3L88.3,311.6L88.8,310.9L89.2,310.3L89.7,309.6L90.1,308.9L90.6,308.2L91.0,307.6L91.5,306.9L91.9,306.2L92.4,305.5L92.8,304.9L93.3,304.2L93.7,303.5L94.2,302.8L94.6,302.1L95.1,301.5L95.5,300.8L96.0,300.1L96.4,299.4L96.9,298.7L97.3,298.0L97.8,297.3L98.2,296.6L98.7,295.9L99.1,295.2L99.6,294.6L100.0,293.9L100.5,293.2L100.9,292.5L101.4,291.8L101.8,291.0L102.3,290.3L102.7,289.6L103.2,288.9L103.6,288.2L104.1,287.5L104.5,286.8L105.0,286.1L105.4,285.4L105.9,284.7L106.3,283.9L106.8,283.2L107.2,282.5L107.7,281.8L108.1,281.1L108.6,280.3L109.0,279.6L109.5,278.9L109.9,278.2L110.4,277.4L110.8,276.7L111.3,276.0L111.7,275.2L112.2,274.5L112.6,273.8L113.1,273.0L113.5,272.3L114.0,271.6L114.4,270.8L114.9,270.1L115.3,269.3L115.8,268.6L116.2,267.8L116.7,267.1L117.1,266.3L117.6,265.6L118.0,264.8L118.5,264.1L118.9,263.3L119.4,262.6L119.8,261.8L120.3,261.1L120.7,260.3L121.2,259.6L121.6,258.8L122.1,258.0L122.5,257.3L123.0,256.5L123.4,255.7L123.9,255.0L124.3,254.2L124.8,253.4L125.2,252.7L125.7,251.9L126.1,251.1L126.6,250.3L127.0,249.6L127.5,248.8L127.9,248.0L128.4,247.2L128.8,246.4L129.3,245.7L129.7,244.9L130.2,244.1L130.6,243.3L131.1,242.5L131.5,241.7L132.0,240.9L132.4,240.1L132.9,239.3L133.3,238.6L133.8,237.8L134.2,237.0L134.7,236.2L135.1,235.4L135.6,234.6L136.0,233.8L136.5,233.0L136.9,232.1L137.4,231.3L137.8,230.5L138.3,229.7L138.7,228.9L139.2,228.1L139.6,227.3L140.1,226.5L140.5,225.7L141.0,224.8L141.4,224.0L141.9,223.2L142.3,222.4L142.8,221.6L143.2,220.7L143.7,219.9L144.1,219.1L144.6,218.3L145.1,217.4L145.5,218.3L146.0,219.1L146.4,219.9L146.9,220.7L147.3,221.6L147.8,222.4L148.2,223.2L148.7,224.0L149.1,224.8L149.6,225.7L150.0,226.5L150.5,227.3L150.9,228.1L151.4,228.9L151.8,229.7L152.3,230.5L152.7,231.3L153.2,232.1L153.6,233.0L154.1,233.8L154.5,234.6L155.0,235.4L155.4,236.2L155.9,237.0L156.3,237.8L156.8,238.6L157.2,239.3L157.7,240.1L158.1,240.9L158.6,241.7L159.0,242.5L159.5,243.3L159.9,244.1L160.4,244.9L160.8,245.7L161.3,246.4L161.7,247.2L162.2,248.0L162.6,248.8L163.1,249.6L163.5,250.3L164.0,251.1L164.4,251.9L164.9,252.7L165.3,253.4L165.8,254.2L166.2,255.0L166.7,255.7L167.1,256.5L167.6,257.3L168.0,258.0L168.5,258.8L168.9,259.6L169.4,260.3L169.8,261.1L170.3,261.8L170.7,262.6L171.2,263.3L171.6,264.1L172.1,264.8L172.5,265.6L173.0,266.3L173.4,267.1L173.9,267.8L174.3,268.6L174.8,269.3L175.2,270.1L175.7,270.8L176.1,271.6L176.6,272.3L177.0,273.0L177.5,273.8L177.9,274.5L178.4,275.2L178.8,276.0L179.3,276.7L179.7,277.4L180.2,278.2L180.6,278.9L181.1,279.6L181.5,280.3L182.0,281.1L182.4,281.8L182.9,282.5L183.3,283.2L183.8,283.9L184.2,284.7L184.7,285.4L185.1,286.1L185.6,286.8L186.0,287.5L186.5,288.2L186.9,288.9L187.4,289.6L187.8,290.3L188.3,291.0L188.7,291.8L189.2,292.5L189.6,293.2L190.1,293.9L190.5,294.6L191.0,295.2L191.4,295.9L191.9,296.6L192.3,297.3L192.8,298.0L193.2,298.7L193.7,299.4L194.1,300.1L194.6,300.8L195.0,301.5L195.5,302.1L195.9,302.8L196.4,303.5L196.8,304.2L197.3,304.9L197.7,305.5L198.2,306.2L198.6,306.9L199.1,307.6L199.5,308.2L200.0,308.9L200.4,309.6L200.9,310.3L201.3,310.9L201.8,311.6L202.2,312.3L202.7,312.9L203.1,313.6L203.6,314.2L204.0,314.9L204.5,315.6L204.9,316.2L205.4,316.9L205.8,317.5L206.3,318.2L206.7,318.8L207.2,319.5L207.6,320.1L208.1,320.8L208.5,321.4L209.0,322.1L209.4,322.7L209.9,323.3L210.3,324.0L210.8,324.6L211.2,325.3L211.7,325.9L212.1,326.5L212.6,327.2L213.0,327.8L213.5,328.4L213.9,329.1L214.4,329.7L214.8,330.3L215.3,331.0L215.7,331.6L216.2,332.2L216.7,332.8" fill="none" stroke="#000000" stroke-width="2" stroke-linejoin="round"/>
<rect x="140.55" y="476.20" width="9" height="9" fill="rgb(0,230,0)" fill-opacity="0.4" stroke="#000" stroke-width="2"/>
<rect x="140.55" y="476.20" width="9" height="9" fill="rgb(0,230,0)" fill-opacity="0.4" stroke="#000" stroke-width="2"/>
<rect x="104.75" y="472.50" width="9" height="9" fill="rgb(0,230,0)" fill-opacity="0.4" stroke="#000" stroke-width="2"/>
<rect x="176.35" y="472.50" width="9" height="9" fill="rgb(0,230,0)" fill-opacity="0.4" stroke="#000" stroke-width="2"/>
<rect x="89.75" y="468.50" width="9" height="9" fill="rgb(0,230,0)" fill-opacity="0.4" stroke="#000" stroke-width="2"/>
<rect x="191.35" y="468.50" width="9" height="9" fill="rgb(0,230,0)" fill-opacity="0.4" stroke="#000" stroke-width="2"/>
<rect x="78.65" y="464.50" width="9" height="9" fill="rgb(0,230,0)" fill-opacity="0.4" stroke="#000" stroke-width="2"/>
<rect x="202.45" y="464.50" width="9" height="9" fill="rgb(0,230,0)" fill-opacity="0.4" stroke="#000" stroke-width="2"/>
<rect x="68.95" y="459.90" width="9" height="9" fill="rgb(0,230,0)" fill-opacity="0.4" stroke="#000" stroke-width="2"/>
<rect x="212.15" y="459.90" width="9" height="9" fill="rgb(0,230,0)" fill-opacity="0.4" stroke="#000" stroke-width="2"/>
<rect x="140.55" y="410.50" width="9" height="9" fill="rgb(0,230,0)" fill-opacity="0.4" stroke="#000" stroke-width="2"/>
<rect x="140.55" y="410.50" width="9" height="9" fill="rgb(0,230,0)" fill-opacity="0.4" stroke="#000" stroke-width="2"/>
<rect x="125.65" y="423.70" width="9" height="9" fill="rgb(0,230,0)" fill-opacity="0.4" stroke="#000" stroke-width="2"/>
<rect x="155.45" y="423.70" width="9" height="9" fill="rgb(0,230,0)" fill-opacity="0.4" stroke="#000" stroke-width="2"/>
<rect x="109.95" y="435.70" width="9" height="9" fill="rgb(0,230,0)" fill-opacity="0.4" stroke="#000" stroke-width="2"/>
<rect x="171.15" y="435.70" width="9" height="9" fill="rgb(0,230,0)" fill-opacity="0.4" stroke="#000" stroke-width="2"/>
<rect x="91.65" y="448.10" width="9" height="9" fill="rgb(0,230,0)" fill-opacity="0.4" stroke="#000" stroke-width="2"/>
<rect x="189.45" y="448.10" width="9" height="9" fill="rgb(0,230,0)" fill-opacity="0.4" stroke="#000" stroke-width="2"/>
<rect x="68.95" y="459.90" width="9" height="9" fill="rgb(0,230,0)" fill-opacity="0.4" stroke="#000" stroke-width="2"/>
<rect x="212.15" y="459.90" width="9" height="9" fill="rgb(0,230,0)" fill-opacity="0.4" stroke="#000" stroke-width="2"/>
<rect x="140.55" y="410.50" width="9" height="9" fill="rgb(0,230,0)" fill-opacity="0.4" stroke="#000" stroke-width="2"/>
<rect x="140.55" y="410.50" width="9" height="9" fill="rgb(0,230,0)" fill-opacity="0.4" stroke="#000" stroke-width="2"/>
<rect x="119.25" y="389.60" width="9" height="9" fill="rgb(0,230,0)" fill-opacity="0.4" stroke="#000" stroke-width="2"/>
<rect x="161.85" y="389.60" width="9" height="9" fill="rgb(0,230,0)" fill-opacity="0.4" stroke="#000" stroke-width="2"/>
<rect x="100.85" y="369.50" width="9" height="9" fill="rgb(0,230,0)" fill-opacity="0.4" stroke="#000" stroke-width="2"/>
<rect x="180.25" y="369.50" width="9" height="9" fill="rgb(0,230,0)" fill-opacity="0.4" stroke="#000" stroke-width="2"/>
<rect x="84.15" y="348.90" width="9" height="9" fill="rgb(0,230,0)" fill-opacity="0.4" stroke="#000" stroke-width="2"/>
<rect x="196.95" y="348.90" width="9" height="9" fill="rgb(0,230,0)" fill-opacity="0.4" stroke="#000" stroke-width="2"/>
<rect x="68.95" y="328.50" width="9" height="9" fill="rgb(0,230,0)" fill-opacity="0.4" stroke="#000" stroke-width="2"/>
<rect x="212.15" y="328.50" width="9" height="9" fill="rgb(0,230,0)" fill-opacity="0.4" stroke="#000" stroke-width="2"/>
<rect x="140.55" y="214.30" width="9" height="9" fill="rgb(0,230,0)" fill-opacity="0.4" stroke="#000" stroke-width="2"/>
<rect x="140.55" y="214.30" width="9" height="9" fill="rgb(0,230,0)" fill-opacity="0.4" stroke="#000" stroke-width="2"/>
<rect x="123.55" y="243.00" width="9" height="9" fill="rgb(0,230,0)" fill-opacity="0.4" stroke="#000" stroke-width="2"/>
<rect x="157.55" y="243.00" width="9" height="9" fill="rgb(0,230,0)" fill-opacity="0.4" stroke="#000" stroke-width="2"/>
<rect x="106.85" y="271.40" width="9" height="9" fill="rgb(0,230,0)" fill-opacity="0.4" stroke="#000" stroke-width="2"/>
<rect x="174.25" y="271.40" width="9" height="9" fill="rgb(0,230,0)" fill-opacity="0.4" stroke="#000" stroke-width="2"/>
<rect x="88.75" y="299.80" width="9" height="9" fill="rgb(0,230,0)" fill-opacity="0.4" stroke="#000" stroke-width="2"/>
<rect x="192.35" y="299.80" width="9" height="9" fill="rgb(0,230,0)" fill-opacity="0.4" stroke="#000" stroke-width="2"/>
<rect x="68.95" y="328.50" width="9" height="9" fill="rgb(0,230,0)" fill-opacity="0.4" stroke="#000" stroke-width="2"/>
<rect x="212.15" y="328.50" width="9" height="9" fill="rgb(0,230,0)" fill-opacity="0.4" stroke="#000" stroke-width="2"/>
</g>
<path d="M73.45,481.20h4M216.65,481.20h-4M73.45,414.39h4M216.65,414.39h-4M73.45,347.57h4M216.65,347.57h-4M73.45,280.76h4M216.65,280.76h-4M73.45,213.94h4M216.65,213.94h-4M73.45,147.13h4M216.65,147.13h-4M73.45,80.31h4M216.65,80.31h-4M73.45,13.50h4M216.65,13.50h-4M109.25,13.50v4M109.25,481.20v-4M145.05,13.50v4M145.05,481.20v-4M180.85,13.50v4M180.85,481.20v-4" stroke="#222" stroke-width="1" fill="none"/>
<rect x="73.50" y="13.50" width="143.00" height="468.00" fill="none" stroke="#000" stroke-width="1.2"/>
<g clip-path="url(#c1)">
<rect x="247.52" y="416.71" width="139.20" height="45.05" fill="rgb(191,223,191)"/>
<rect x="247.52" y="345.77" width="139.20" height="58.19" fill="rgb(191,223,191)"/>
<rect x="247.52" y="260.38" width="139.20" height="49.09" fill="rgb(191,223,191)"/>
<path d="M245.5,461.8L245.8,461.8L246.1,461.8L246.4,461.8L246.7,461.8L247.1,461.8L247.4,461.8L247.7,461.8L248.0,461.8L248.3,461.8L248.6,461.8L248.9,461.8L249.2,461.8L249.5,461.8L249.8,461.8L250.1,461.8L250.4,461.8L250.7,461.8L251.0,461.8L251.4,461.8L251.7,461.8L252.0,461.8L252.3,461.8L252.6,461.8L252.9,461.8L253.2,461.8L253.5,461.8L253.8,461.9L254.1,461.9L254.4,461.9L254.7,461.9L255.1,461.9L255.4,461.9L255.7,461.9L256.0,461.9L256.3,461.9L256.6,461.9L256.9,461.9L257.2,461.9L257.5,462.0L257.8,462.0L258.1,462.0L258.5,462.0L258.8,462.0L259.1,462.0L259.4,462.0L259.7,462.0L260.0,462.0L260.3,462.1L260.6,462.1L260.9,462.1L261.3,462.1L261.6,462.1L261.9,462.1L262.2,462.1L262.5,462.1L262.8,462.2L263.1,462.2L263.4,462.2L263.8,462.2L264.1,462.2L264.4,462.2L264.7,462.2L265.0,462.3L265.3,462.3L265.6,462.3L266.0,462.3L266.3,462.3L266.6,462.3L266.9,462.4L267.2,462.4L267.5,462.4L267.9,462.4L268.2,462.4L268.5,462.4L268.8,462.5L269.1,462.5L269.4,462.5L269.8,462.5L270.1,462.5L270.4,462.5L270.7,462.6L271.0,462.6L271.4,462.6L271.7,462.6L272.0,462.6L272.3,462.7L272.6,462.7L273.0,462.7L273.3,462.7L273.6,462.7L273.9,462.7L274.2,462.8L274.6,462.8L274.9,462.8L275.2,462.8L275.5,462.8L275.9,462.9L276.2,462.9L276.5,462.9L276.8,462.9L277.2,462.9L277.5,463.0L277.8,463.0L278.1,463.0L278.5,463.0L278.8,463.0L279.1,463.0L279.4,463.1L279.8,463.1L280.1,463.1L280.4,463.1L280.7,463.1L281.1,463.2L281.4,463.2L281.7,463.2L282.1,463.2L282.4,463.2L282.7,463.3L283.0,463.3L283.4,463.3L283.7,463.3L284.0,463.3L284.4,463.4L284.7,463.4L285.0,463.4L285.4,463.4L285.7,463.4L286.0,463.4L286.4,463.5L286.7,463.5L287.0,463.5L287.4,463.5L287.7,463.5L288.0,463.6L288.4,463.6L288.7,463.6L289.0,463.6L289.4,463.6L289.7,463.6L290.0,463.7L290.4,463.7L290.7,463.7L291.0,463.7L291.4,463.7L291.7,463.8L292.0,463.8L292.4,463.8L292.7,463.8L293.1,463.8L293.4,463.8L293.7,463.8L294.1,463.9L294.4,463.9L294.8,463.9L295.1,463.9L295.4,463.9L295.8,463.9L296.1,464.0L296.4,464.0L296.8,464.0L297.1,464.0L297.5,464.0L297.8,464.0L298.2,464.0L298.5,464.1L298.8,464.1L299.2,464.1L299.5,464.1L299.9,464.1L300.2,464.1L300.5,464.1L300.9,464.1L301.2,464.2L301.6,464.2L301.9,464.2L302.3,464.2L302.6,464.2L302.9,464.2L303.3,464.2L303.6,464.2L304.0,464.2L304.3,464.3L304.7,464.3L305.0,464.3L305.4,464.3L305.7,464.3L306.0,464.3L306.4,464.3L306.7,464.3L307.1,464.3L307.4,464.3L307.8,464.3L308.1,464.3L308.5,464.4L308.8,464.4L309.2,464.4L309.5,464.4L309.8,464.4L310.2,464.4L310.5,464.4L310.9,464.4L311.2,464.4L311.6,464.4L311.9,464.4L312.3,464.4L312.6,464.4L313.0,464.4L313.3,464.4L313.7,464.4L314.0,464.4L314.3,464.4L314.7,464.4L315.0,464.4L315.4,464.4L315.7,464.4L316.1,464.4L316.4,464.4L316.8,464.4L317.1,464.4L317.5,464.4L317.8,464.4L318.2,464.4L318.5,464.4L318.9,464.4L319.2,464.4L319.5,464.4L319.9,464.4L320.2,464.4L320.6,464.4L320.9,464.4L321.3,464.4L321.6,464.4L322.0,464.4L322.3,464.4L322.7,464.4L323.0,464.4L323.4,464.4L323.7,464.4L324.1,464.4L324.4,464.4L324.7,464.4L325.1,464.4L325.4,464.4L325.8,464.4L326.1,464.3L326.5,464.3L326.8,464.3L327.2,464.3L327.5,464.3L327.9,464.3L328.2,464.3L328.5,464.3L328.9,464.3L329.2,464.3L329.6,464.3L329.9,464.3L330.3,464.2L330.6,464.2L331.0,464.2L331.3,464.2L331.6,464.2L332.0,464.2L332.3,464.2L332.7,464.2L333.0,464.2L333.4,464.1L333.7,464.1L334.0,464.1L334.4,464.1L334.7,464.1L335.1,464.1L335.4,464.1L335.7,464.1L336.1,464.0L336.4,464.0L336.8,464.0L337.1,464.0L337.5,464.0L337.8,464.0L338.1,464.0L338.5,463.9L338.8,463.9L339.1,463.9L339.5,463.9L339.8,463.9L340.2,463.9L340.5,463.8L340.8,463.8L341.2,463.8L341.5,463.8L341.9,463.8L342.2,463.8L342.5,463.8L342.9,463.7L343.2,463.7L343.5,463.7L343.9,463.7L344.2,463.7L344.5,463.6L344.9,463.6L345.2,463.6L345.6,463.6L345.9,463.6L346.2,463.6L346.6,463.5L346.9,463.5L347.2,463.5L347.6,463.5L347.9,463.5L348.2,463.4L348.5,463.4L348.9,463.4L349.2,463.4L349.5,463.4L349.9,463.4L350.2,463.3L350.5,463.3L350.9,463.3L351.2,463.3L351.5,463.3L351.9,463.2L352.2,463.2L352.5,463.2L352.8,463.2L353.2,463.2L353.5,463.1L353.8,463.1L354.2,463.1L354.5,463.1L354.8,463.1L355.1,463.0L355.5,463.0L355.8,463.0L356.1,463.0L356.4,463.0L356.8,463.0L357.1,462.9L357.4,462.9L357.7,462.9L358.1,462.9L358.4,462.9L358.7,462.8L359.0,462.8L359.4,462.8L359.7,462.8L360.0,462.8L360.3,462.7L360.6,462.7L361.0,462.7L361.3,462.7L361.6,462.7L361.9,462.7L362.2,462.6L362.6,462.6L362.9,462.6L363.2,462.6L363.5,462.6L363.8,462.5L364.2,462.5L364.5,462.5L364.8,462.5L365.1,462.5L365.4,462.5L365.8,462.4L366.1,462.4L366.4,462.4L366.7,462.4L367.0,462.4L367.3,462.4L367.6,462.3L368.0,462.3L368.3,462.3L368.6,462.3L368.9,462.3L369.2,462.3L369.5,462.2L369.9,462.2L370.2,462.2L370.5,462.2L370.8,462.2L371.1,462.2L371.4,462.2L371.7,462.1L372.0,462.1L372.4,462.1L372.7,462.1L373.0,462.1L373.3,462.1L373.6,462.1L373.9,462.1L374.2,462.0L374.5,462.0L374.9,462.0L375.2,462.0L375.5,462.0L375.8,462.0L376.1,462.0L376.4,462.0L376.7,462.0L377.0,461.9L377.3,461.9L377.6,461.9L378.0,461.9L378.3,461.9L378.6,461.9L378.9,461.9L379.2,461.9L379.5,461.9L379.8,461.9L380.1,461.9L380.4,461.9L380.7,461.8L381.0,461.8L381.3,461.8L381.7,461.8L382.0,461.8L382.3,461.8L382.6,461.8L382.9,461.8L383.2,461.8L383.5,461.8L383.8,461.8L384.1,461.8L384.4,461.8L384.7,461.8L385.0,461.8L385.3,461.8L385.7,461.8L386.0,461.8L386.3,461.8L386.6,461.8L386.9,461.8L387.2,461.8L387.5,461.8L387.8,461.8L388.1,461.8L388.4,461.8L388.7,461.8" fill="none" stroke="#fff" stroke-width="3.60" stroke-linejoin="round"/>
<path d="M245.5,416.7L245.9,416.7L246.2,416.7L246.6,416.7L246.9,416.7L247.3,416.7L247.6,416.7L248.0,416.7L248.4,416.7L248.7,416.7L249.1,416.6L249.4,416.6L249.8,416.6L250.1,416.6L250.5,416.6L250.8,416.6L251.2,416.5L251.5,416.5L251.9,416.5L252.2,416.5L252.6,416.4L252.9,416.4L253.3,416.4L253.7,416.4L254.0,416.3L254.4,416.3L254.7,416.3L255.1,416.2L255.4,416.2L255.8,416.2L256.1,416.1L256.5,416.1L256.8,416.0L257.2,416.0L257.5,416.0L257.9,415.9L258.2,415.9L258.6,415.8L258.9,415.8L259.3,415.7L259.6,415.7L260.0,415.6L260.3,415.6L260.7,415.5L261.0,415.5L261.4,415.4L261.7,415.4L262.1,415.3L262.4,415.3L262.8,415.2L263.1,415.1L263.5,415.1L263.8,415.0L264.2,415.0L264.5,414.9L264.9,414.8L265.2,414.8L265.6,414.7L265.9,414.6L266.3,414.6L266.6,414.5L267.0,414.4L267.3,414.3L267.7,414.3L268.0,414.2L268.4,414.1L268.7,414.1L269.1,414.0L269.4,413.9L269.8,413.8L270.1,413.8L270.4,413.7L270.8,413.6L271.1,413.5L271.5,413.4L271.8,413.4L272.2,413.3L272.5,413.2L272.9,413.1L273.2,413.0L273.5,412.9L273.9,412.9L274.2,412.8L274.6,412.7L274.9,412.6L275.2,412.5L275.6,412.4L275.9,412.4L276.3,412.3L276.6,412.2L276.9,412.1L277.3,412.0L277.6,411.9L278.0,411.8L278.3,411.7L278.6,411.6L279.0,411.6L279.3,411.5L279.6,411.4L280.0,411.3L280.3,411.2L280.6,411.1L281.0,411.0L281.3,410.9L281.6,410.8L282.0,410.7L282.3,410.7L282.6,410.6L283.0,410.5L283.3,410.4L283.6,410.3L284.0,410.2L284.3,410.1L284.6,410.0L285.0,409.9L285.3,409.8L285.6,409.7L285.9,409.6L286.3,409.6L286.6,409.5L286.9,409.4L287.2,409.3L287.6,409.2L287.9,409.1L288.2,409.0L288.5,408.9L288.9,408.8L289.2,408.7L289.5,408.7L289.8,408.6L290.2,408.5L290.5,408.4L290.8,408.3L291.1,408.2L291.4,408.1L291.8,408.1L292.1,408.0L292.4,407.9L292.7,407.8L293.0,407.7L293.3,407.6L293.7,407.5L294.0,407.5L294.3,407.4L294.6,407.3L294.9,407.2L295.2,407.1L295.5,407.1L295.9,407.0L296.2,406.9L296.5,406.8L296.8,406.8L297.1,406.7L297.4,406.6L297.7,406.5L298.0,406.5L298.3,406.4L298.6,406.3L299.0,406.2L299.3,406.2L299.6,406.1L299.9,406.0L300.2,406.0L300.5,405.9L300.8,405.8L301.1,405.8L301.4,405.7L301.7,405.6L302.0,405.6L302.3,405.5L302.6,405.5L302.9,405.4L303.2,405.4L303.5,405.3L303.8,405.2L304.1,405.2L304.4,405.1L304.7,405.1L305.0,405.0L305.3,405.0L305.6,404.9L305.9,404.9L306.2,404.8L306.5,404.8L306.8,404.7L307.1,404.7L307.4,404.7L307.7,404.6L308.0,404.6L308.3,404.5L308.6,404.5L308.9,404.5L309.2,404.4L309.5,404.4L309.8,404.4L310.1,404.3L310.4,404.3L310.7,404.3L311.0,404.2L311.3,404.2L311.6,404.2L311.8,404.2L312.1,404.1L312.4,404.1L312.7,404.1L313.0,404.1L313.3,404.1L313.6,404.1L313.9,404.0L314.2,404.0L314.5,404.0L314.8,404.0L315.1,404.0L315.4,404.0L315.7,404.0L316.0,404.0L316.2,404.0L316.5,404.0L316.8,404.0L317.1,404.0L317.4,404.0L317.7,404.0L318.0,404.0L318.3,404.0L318.6,404.0L318.9,404.0L319.2,404.0L319.5,404.0L319.8,404.0L320.0,404.0L320.3,404.0L320.6,404.1L320.9,404.1L321.2,404.1L321.5,404.1L321.8,404.1L322.1,404.1L322.4,404.2L322.7,404.2L323.0,404.2L323.3,404.2L323.6,404.3L323.9,404.3L324.2,404.3L324.5,404.4L324.7,404.4L325.0,404.4L325.3,404.5L325.6,404.5L325.9,404.5L326.2,404.6L326.5,404.6L326.8,404.7L327.1,404.7L327.4,404.7L327.7,404.8L328.0,404.8L328.3,404.9L328.6,404.9L328.9,405.0L329.2,405.0L329.5,405.1L329.8,405.1L330.1,405.2L330.4,405.2L330.7,405.3L331.0,405.4L331.3,405.4L331.6,405.5L331.9,405.5L332.2,405.6L332.5,405.6L332.8,405.7L333.1,405.8L333.4,405.8L333.7,405.9L334.1,406.0L334.4,406.0L334.7,406.1L335.0,406.2L335.3,406.2L335.6,406.3L335.9,406.4L336.2,406.5L336.5,406.5L336.8,406.6L337.1,406.7L337.4,406.8L337.8,406.8L338.1,406.9L338.4,407.0L338.7,407.1L339.0,407.1L339.3,407.2L339.6,407.3L340.0,407.4L340.3,407.5L340.6,407.5L340.9,407.6L341.2,407.7L341.5,407.8L341.8,407.9L342.2,408.0L342.5,408.1L342.8,408.1L343.1,408.2L343.4,408.3L343.8,408.4L344.1,408.5L344.4,408.6L344.7,408.7L345.1,408.7L345.4,408.8L345.7,408.9L346.0,409.0L346.3,409.1L346.7,409.2L347.0,409.3L347.3,409.4L347.6,409.5L348.0,409.6L348.3,409.6L348.6,409.7L349.0,409.8L349.3,409.9L349.6,410.0L349.9,410.1L350.3,410.2L350.6,410.3L350.9,410.4L351.3,410.5L351.6,410.6L351.9,410.7L352.3,410.7L352.6,410.8L352.9,410.9L353.3,411.0L353.6,411.1L353.9,411.2L354.3,411.3L354.6,411.4L354.9,411.5L355.3,411.6L355.6,411.6L355.9,411.7L356.3,411.8L356.6,411.9L357.0,412.0L357.3,412.1L357.6,412.2L358.0,412.3L358.3,412.4L358.7,412.4L359.0,412.5L359.3,412.6L359.7,412.7L360.0,412.8L360.4,412.9L360.7,412.9L361.0,413.0L361.4,413.1L361.7,413.2L362.1,413.3L362.4,413.4L362.8,413.4L363.1,413.5L363.5,413.6L363.8,413.7L364.1,413.8L364.5,413.8L364.8,413.9L365.2,414.0L365.5,414.1L365.9,414.1L366.2,414.2L366.6,414.3L366.9,414.3L367.3,414.4L367.6,414.5L368.0,414.6L368.3,414.6L368.7,414.7L369.0,414.8L369.3,414.8L369.7,414.9L370.0,415.0L370.4,415.0L370.7,415.1L371.1,415.1L371.4,415.2L371.8,415.3L372.1,415.3L372.5,415.4L372.8,415.4L373.2,415.5L373.5,415.5L373.9,415.6L374.2,415.6L374.6,415.7L375.0,415.7L375.3,415.8L375.7,415.8L376.0,415.9L376.4,415.9L376.7,416.0L377.1,416.0L377.4,416.0L377.8,416.1L378.1,416.1L378.5,416.2L378.8,416.2L379.2,416.2L379.5,416.3L379.9,416.3L380.2,416.3L380.6,416.4L380.9,416.4L381.3,416.4L381.6,416.4L382.0,416.5L382.4,416.5L382.7,416.5L383.1,416.5L383.4,416.6L383.8,416.6L384.1,416.6L384.5,416.6L384.8,416.6L385.2,416.6L385.5,416.7L385.9,416.7L386.2,416.7L386.6,416.7L387.0,416.7L387.3,416.7L387.7,416.7L388.0,416.7L388.4,416.7L388.7,416.7" fill="none" stroke="#fff" stroke-width="3.60" stroke-linejoin="round"/>
<path d="M245.5,309.5L245.8,309.5L246.0,309.5L246.3,309.5L246.5,309.5L246.8,309.5L247.1,309.5L247.3,309.6L247.6,309.6L247.8,309.6L248.1,309.7L248.3,309.7L248.6,309.7L248.8,309.8L249.1,309.8L249.4,309.9L249.6,309.9L249.9,310.0L250.1,310.1L250.4,310.1L250.7,310.2L250.9,310.3L251.2,310.4L251.4,310.4L251.7,310.5L252.0,310.6L252.2,310.7L252.5,310.8L252.8,310.9L253.0,311.0L253.3,311.1L253.6,311.2L253.8,311.3L254.1,311.5L254.4,311.6L254.6,311.7L254.9,311.8L255.2,312.0L255.5,312.1L255.7,312.2L256.0,312.4L256.3,312.5L256.6,312.7L256.8,312.8L257.1,313.0L257.4,313.1L257.7,313.3L257.9,313.4L258.2,313.6L258.5,313.8L258.8,313.9L259.1,314.1L259.4,314.3L259.7,314.5L259.9,314.6L260.2,314.8L260.5,315.0L260.8,315.2L261.1,315.4L261.4,315.6L261.7,315.8L262.0,316.0L262.3,316.2L262.6,316.4L262.9,316.6L263.2,316.8L263.5,317.0L263.8,317.2L264.1,317.4L264.4,317.7L264.7,317.9L265.0,318.1L265.3,318.3L265.6,318.5L265.9,318.8L266.3,319.0L266.6,319.2L266.9,319.5L267.2,319.7L267.5,319.9L267.8,320.2L268.2,320.4L268.5,320.6L268.8,320.9L269.1,321.1L269.4,321.4L269.8,321.6L270.1,321.9L270.4,322.1L270.7,322.4L271.1,322.6L271.4,322.9L271.7,323.1L272.1,323.4L272.4,323.6L272.7,323.9L273.1,324.1L273.4,324.4L273.7,324.6L274.1,324.9L274.4,325.2L274.7,325.4L275.1,325.7L275.4,325.9L275.8,326.2L276.1,326.4L276.4,326.7L276.8,327.0L277.1,327.2L277.5,327.5L277.8,327.7L278.2,328.0L278.5,328.3L278.9,328.5L279.2,328.8L279.6,329.0L279.9,329.3L280.3,329.6L280.6,329.8L281.0,330.1L281.3,330.3L281.7,330.6L282.0,330.9L282.4,331.1L282.7,331.4L283.1,331.6L283.5,331.9L283.8,332.1L284.2,332.4L284.5,332.6L284.9,332.9L285.2,333.1L285.6,333.4L286.0,333.6L286.3,333.9L286.7,334.1L287.0,334.4L287.4,334.6L287.8,334.8L288.1,335.1L288.5,335.3L288.8,335.5L289.2,335.8L289.6,336.0L289.9,336.2L290.3,336.5L290.7,336.7L291.0,336.9L291.4,337.1L291.8,337.4L292.1,337.6L292.5,337.8L292.8,338.0L293.2,338.2L293.6,338.4L293.9,338.6L294.3,338.8L294.7,339.0L295.0,339.3L295.4,339.4L295.8,339.6L296.1,339.8L296.5,340.0L296.9,340.2L297.2,340.4L297.6,340.6L297.9,340.8L298.3,340.9L298.7,341.1L299.0,341.3L299.4,341.5L299.8,341.6L300.1,341.8L300.5,342.0L300.9,342.1L301.2,342.3L301.6,342.4L302.0,342.6L302.3,342.7L302.7,342.9L303.0,343.0L303.4,343.1L303.8,343.3L304.1,343.4L304.5,343.5L304.9,343.7L305.2,343.8L305.6,343.9L305.9,344.0L306.3,344.1L306.7,344.2L307.0,344.3L307.4,344.4L307.8,344.5L308.1,344.6L308.5,344.7L308.8,344.8L309.2,344.9L309.6,345.0L309.9,345.0L310.3,345.1L310.6,345.2L311.0,345.2L311.4,345.3L311.7,345.3L312.1,345.4L312.4,345.5L312.8,345.5L313.2,345.5L313.5,345.6L313.9,345.6L314.2,345.6L314.6,345.7L315.0,345.7L315.3,345.7L315.7,345.7L316.0,345.8L316.4,345.8L316.8,345.8L317.1,345.8L317.5,345.8L317.8,345.8L318.2,345.8L318.6,345.7L318.9,345.7L319.3,345.7L319.6,345.7L320.0,345.6L320.4,345.6L320.7,345.6L321.1,345.5L321.4,345.5L321.8,345.5L322.2,345.4L322.5,345.3L322.9,345.3L323.2,345.2L323.6,345.2L324.0,345.1L324.3,345.0L324.7,345.0L325.0,344.9L325.4,344.8L325.8,344.7L326.1,344.6L326.5,344.5L326.8,344.4L327.2,344.3L327.6,344.2L327.9,344.1L328.3,344.0L328.7,343.9L329.0,343.8L329.4,343.7L329.7,343.5L330.1,343.4L330.5,343.3L330.8,343.1L331.2,343.0L331.6,342.9L331.9,342.7L332.3,342.6L332.6,342.4L333.0,342.3L333.4,342.1L333.7,342.0L334.1,341.8L334.5,341.6L334.8,341.5L335.2,341.3L335.6,341.1L335.9,340.9L336.3,340.8L336.7,340.6L337.0,340.4L337.4,340.2L337.7,340.0L338.1,339.8L338.5,339.6L338.8,339.4L339.2,339.3L339.6,339.0L339.9,338.8L340.3,338.6L340.7,338.4L341.0,338.2L341.4,338.0L341.8,337.8L342.1,337.6L342.5,337.4L342.8,337.1L343.2,336.9L343.6,336.7L343.9,336.5L344.3,336.2L344.7,336.0L345.0,335.8L345.4,335.5L345.8,335.3L346.1,335.1L346.5,334.8L346.8,334.6L347.2,334.4L347.6,334.1L347.9,333.9L348.3,333.6L348.6,333.4L349.0,333.1L349.4,332.9L349.7,332.6L350.1,332.4L350.4,332.1L350.8,331.9L351.1,331.6L351.5,331.4L351.9,331.1L352.2,330.9L352.6,330.6L352.9,330.3L353.3,330.1L353.6,329.8L354.0,329.6L354.3,329.3L354.7,329.0L355.0,328.8L355.4,328.5L355.7,328.3L356.1,328.0L356.4,327.7L356.8,327.5L357.1,327.2L357.5,327.0L357.8,326.7L358.1,326.4L358.5,326.2L358.8,325.9L359.2,325.7L359.5,325.4L359.8,325.2L360.2,324.9L360.5,324.6L360.9,324.4L361.2,324.1L361.5,323.9L361.9,323.6L362.2,323.4L362.5,323.1L362.8,322.9L363.2,322.6L363.5,322.4L363.8,322.1L364.2,321.9L364.5,321.6L364.8,321.4L365.1,321.1L365.4,320.9L365.8,320.6L366.1,320.4L366.4,320.2L366.7,319.9L367.0,319.7L367.4,319.5L367.7,319.2L368.0,319.0L368.3,318.8L368.6,318.5L368.9,318.3L369.2,318.1L369.5,317.9L369.8,317.7L370.1,317.4L370.4,317.2L370.7,317.0L371.0,316.8L371.4,316.6L371.6,316.4L371.9,316.2L372.2,316.0L372.5,315.8L372.8,315.6L373.1,315.4L373.4,315.2L373.7,315.0L374.0,314.8L374.3,314.6L374.6,314.5L374.9,314.3L375.2,314.1L375.4,313.9L375.7,313.8L376.0,313.6L376.3,313.4L376.6,313.3L376.9,313.1L377.1,313.0L377.4,312.8L377.7,312.7L378.0,312.5L378.2,312.4L378.5,312.2L378.8,312.1L379.1,312.0L379.3,311.8L379.6,311.7L379.9,311.6L380.1,311.5L380.4,311.3L380.7,311.2L380.9,311.1L381.2,311.0L381.5,310.9L381.7,310.8L382.0,310.7L382.3,310.6L382.5,310.5L382.8,310.4L383.1,310.4L383.3,310.3L383.6,310.2L383.8,310.1L384.1,310.1L384.4,310.0L384.6,309.9L384.9,309.9L385.1,309.8L385.4,309.8L385.6,309.7L385.9,309.7L386.2,309.7L386.4,309.6L386.7,309.6L386.9,309.6L387.2,309.5L387.4,309.5L387.7,309.5L388.0,309.5L388.2,309.5L388.5,309.5L388.7,309.5" fill="none" stroke="#fff" stroke-width="3.60" stroke-linejoin="round"/>
<path d="M245.5,260.4L245.9,260.4L246.2,260.4L246.5,260.3L246.8,260.3L247.2,260.3L247.5,260.2L247.8,260.2L248.2,260.1L248.5,260.0L248.8,260.0L249.2,259.9L249.5,259.8L249.8,259.7L250.2,259.6L250.5,259.5L250.9,259.3L251.2,259.2L251.5,259.1L251.9,258.9L252.2,258.8L252.6,258.6L252.9,258.4L253.2,258.2L253.6,258.0L253.9,257.9L254.3,257.6L254.6,257.4L255.0,257.2L255.3,257.0L255.7,256.8L256.0,256.5L256.4,256.3L256.7,256.0L257.1,255.8L257.4,255.5L257.8,255.2L258.2,254.9L258.5,254.6L258.9,254.3L259.2,254.0L259.6,253.7L260.0,253.4L260.3,253.1L260.7,252.7L261.1,252.4L261.5,252.0L261.8,251.7L262.2,251.3L262.6,251.0L262.9,250.6L263.3,250.2L263.7,249.8L264.1,249.5L264.5,249.1L264.8,248.7L265.2,248.2L265.6,247.8L266.0,247.4L266.4,247.0L266.8,246.6L267.2,246.1L267.6,245.7L268.0,245.2L268.3,244.8L268.7,244.3L269.1,243.9L269.5,243.4L269.9,242.9L270.3,242.5L270.7,242.0L271.1,241.5L271.5,241.0L271.9,240.5L272.3,240.0L272.7,239.5L273.1,239.0L273.5,238.5L273.9,238.0L274.3,237.5L274.7,237.0L275.1,236.5L275.5,235.9L276.0,235.4L276.4,234.9L276.8,234.4L277.2,233.8L277.6,233.3L278.0,232.7L278.4,232.2L278.8,231.7L279.2,231.1L279.6,230.6L280.0,230.0L280.4,229.4L280.8,228.9L281.2,228.3L281.6,227.8L282.0,227.2L282.4,226.6L282.8,226.1L283.2,225.5L283.6,225.0L284.0,224.4L284.4,223.8L284.8,223.3L285.2,222.7L285.6,222.1L286.0,221.5L286.4,221.0L286.8,220.4L287.2,219.8L287.6,219.3L288.0,218.7L288.4,218.1L288.8,217.6L289.2,217.0L289.6,216.4L289.9,215.9L290.3,215.3L290.7,214.7L291.1,214.2L291.5,213.6L291.8,213.1L292.2,212.5L292.6,211.9L293.0,211.4L293.3,210.8L293.7,210.3L294.1,209.7L294.4,209.2L294.8,208.6L295.2,208.1L295.5,207.6L295.9,207.0L296.2,206.5L296.6,206.0L296.9,205.4L297.3,204.9L297.6,204.4L298.0,203.9L298.3,203.4L298.6,202.9L299.0,202.3L299.3,201.8L299.6,201.3L300.0,200.9L300.3,200.4L300.6,199.9L300.9,199.4L301.2,198.9L301.6,198.4L301.9,198.0L302.2,197.5L302.5,197.0L302.8,196.6L303.1,196.1L303.4,195.7L303.7,195.3L304.0,194.8L304.3,194.4L304.6,194.0L304.8,193.6L305.1,193.1L305.4,192.7L305.7,192.3L306.0,191.9L306.2,191.5L306.5,191.2L306.8,190.8L307.0,190.4L307.3,190.1L307.5,189.7L307.8,189.3L308.0,189.0L308.3,188.7L308.5,188.3L308.8,188.0L309.0,187.7L309.3,187.4L309.5,187.1L309.7,186.8L310.0,186.5L310.2,186.2L310.4,185.9L310.6,185.6L310.9,185.4L311.1,185.1L311.3,184.9L311.5,184.6L311.7,184.4L311.9,184.2L312.1,183.9L312.3,183.7L312.5,183.5L312.7,183.3L312.9,183.1L313.1,183.0L313.3,182.8L313.5,182.6L313.7,182.5L313.9,182.3L314.1,182.2L314.3,182.1L314.5,181.9L314.6,181.8L314.8,181.7L315.0,181.6L315.2,181.5L315.4,181.4L315.5,181.3L315.7,181.3L315.9,181.2L316.1,181.2L316.2,181.1L316.4,181.1L316.6,181.0L316.8,181.0L316.9,181.0L317.1,181.0L317.3,181.0L317.5,181.0L317.6,181.0L317.8,181.1L318.0,181.1L318.2,181.2L318.3,181.2L318.5,181.3L318.7,181.3L318.9,181.4L319.1,181.5L319.2,181.6L319.4,181.7L319.6,181.8L319.8,181.9L320.0,182.1L320.2,182.2L320.3,182.3L320.5,182.5L320.7,182.6L320.9,182.8L321.1,183.0L321.3,183.1L321.5,183.3L321.7,183.5L321.9,183.7L322.1,183.9L322.3,184.2L322.5,184.4L322.7,184.6L323.0,184.9L323.2,185.1L323.4,185.4L323.6,185.6L323.8,185.9L324.1,186.2L324.3,186.5L324.5,186.8L324.7,187.1L325.0,187.4L325.2,187.7L325.5,188.0L325.7,188.3L325.9,188.7L326.2,189.0L326.4,189.3L326.7,189.7L327.0,190.1L327.2,190.4L327.5,190.8L327.7,191.2L328.0,191.5L328.3,191.9L328.6,192.3L328.8,192.7L329.1,193.1L329.4,193.6L329.7,194.0L330.0,194.4L330.3,194.8L330.6,195.3L330.8,195.7L331.1,196.1L331.4,196.6L331.8,197.0L332.1,197.5L332.4,198.0L332.7,198.4L333.0,198.9L333.3,199.4L333.6,199.9L334.0,200.4L334.3,200.9L334.6,201.3L334.9,201.8L335.3,202.3L335.6,202.9L335.9,203.4L336.3,203.9L336.6,204.4L337.0,204.9L337.3,205.4L337.7,206.0L338.0,206.5L338.4,207.0L338.7,207.6L339.1,208.1L339.4,208.6L339.8,209.2L340.2,209.7L340.5,210.3L340.9,210.8L341.3,211.4L341.6,211.9L342.0,212.5L342.4,213.1L342.8,213.6L343.2,214.2L343.5,214.7L343.9,215.3L344.3,215.9L344.7,216.4L345.1,217.0L345.5,217.6L345.8,218.1L346.2,218.7L346.6,219.3L347.0,219.8L347.4,220.4L347.8,221.0L348.2,221.5L348.6,222.1L349.0,222.7L349.4,223.3L349.8,223.8L350.2,224.4L350.6,225.0L351.0,225.5L351.4,226.1L351.8,226.6L352.2,227.2L352.6,227.8L353.0,228.3L353.4,228.9L353.8,229.4L354.2,230.0L354.6,230.6L355.0,231.1L355.4,231.7L355.9,232.2L356.3,232.7L356.7,233.3L357.1,233.8L357.5,234.4L357.9,234.9L358.3,235.4L358.7,235.9L359.1,236.5L359.5,237.0L359.9,237.5L360.3,238.0L360.7,238.5L361.1,239.0L361.5,239.5L361.9,240.0L362.3,240.5L362.7,241.0L363.1,241.5L363.5,242.0L363.9,242.5L364.3,242.9L364.7,243.4L365.1,243.9L365.5,244.3L365.9,244.8L366.3,245.2L366.7,245.7L367.1,246.1L367.5,246.6L367.8,247.0L368.2,247.4L368.6,247.8L369.0,248.2L369.4,248.7L369.8,249.1L370.2,249.5L370.5,249.8L370.9,250.2L371.3,250.6L371.7,251.0L372.0,251.3L372.4,251.7L372.8,252.0L373.2,252.4L373.5,252.7L373.9,253.1L374.3,253.4L374.6,253.7L375.0,254.0L375.4,254.3L375.7,254.6L376.1,254.9L376.4,255.2L376.8,255.5L377.2,255.8L377.5,256.0L377.9,256.3L378.2,256.5L378.6,256.8L378.9,257.0L379.3,257.2L379.6,257.4L380.0,257.6L380.3,257.9L380.7,258.0L381.0,258.2L381.3,258.4L381.7,258.6L382.0,258.8L382.4,258.9L382.7,259.1L383.0,259.2L383.4,259.3L383.7,259.5L384.1,259.6L384.4,259.7L384.7,259.8L385.1,259.9L385.4,260.0L385.7,260.0L386.1,260.1L386.4,260.2L386.7,260.2L387.1,260.3L387.4,260.3L387.7,260.3L388.1,260.4L388.4,260.4L388.7,260.4" fill="none" stroke="#fff" stroke-width="3.60" stroke-linejoin="round"/>
<path d="M303.37,457.50h13.80v13.80h-13.80zM317.07,457.50h13.80v13.80h-13.80zM283.92,457.00h13.80v13.80h-13.80zM336.52,457.00h13.80v13.80h-13.80zM272.12,456.40h13.80v13.80h-13.80zM348.32,456.40h13.80v13.80h-13.80zM260.37,456.00h13.80v13.80h-13.80zM360.07,456.00h13.80v13.80h-13.80zM288.72,400.10h13.80v13.80h-13.80zM331.72,400.10h13.80v13.80h-13.80zM276.92,403.80h13.80v13.80h-13.80zM343.52,403.80h13.80v13.80h-13.80zM265.07,406.50h13.80v13.80h-13.80zM355.37,406.50h13.80v13.80h-13.80zM244.42,410.00h13.80v13.80h-13.80zM376.02,410.00h13.80v13.80h-13.80zM305.22,339.00h13.80v13.80h-13.80zM315.22,339.00h13.80v13.80h-13.80zM283.32,329.80h13.80v13.80h-13.80zM337.12,329.80h13.80v13.80h-13.80zM270.42,320.60h13.80v13.80h-13.80zM350.02,320.60h13.80v13.80h-13.80zM258.12,311.40h13.80v13.80h-13.80zM362.32,311.40h13.80v13.80h-13.80zM293.12,193.40h13.80v13.80h-13.80zM327.32,193.40h13.80v13.80h-13.80zM279.82,213.30h13.80v13.80h-13.80zM340.62,213.30h13.80v13.80h-13.80zM265.12,233.30h13.80v13.80h-13.80zM355.32,233.30h13.80v13.80h-13.80zM241.22,253.40h13.80v13.80h-13.80zM379.22,253.40h13.80v13.80h-13.80z" fill="#fff"/>
<g>
<path d="M272.37,320.08L278.29,314.16M272.37,327.53L285.74,314.16M272.37,334.98L290.27,317.08M272.37,342.43L290.27,324.53M272.37,349.88L290.27,331.98M272.37,357.33L290.27,339.43M272.37,364.78L290.27,346.88M272.37,372.23L290.27,354.33M272.37,379.68L290.27,361.78M272.37,387.13L290.27,369.23M272.37,394.58L290.27,376.68M272.37,402.03L290.27,384.13M272.37,409.48L290.27,391.58M272.37,416.93L290.27,399.03M272.37,424.38L290.27,406.48M272.37,431.83L290.27,413.93M272.37,439.28L290.27,421.38M272.37,446.73L290.27,428.83M272.37,454.18L290.27,436.28M272.37,461.63L290.27,443.73M272.37,469.08L290.27,451.18M272.37,476.53L290.27,458.63M275.15,481.20L290.27,466.08M282.60,481.20L290.27,473.53M290.05,481.20L290.27,480.98" stroke="#959595" stroke-width="0.9" fill="none"/>
</g>
<rect x="272.37" y="314.16" width="17.90" height="167.04" fill="none" stroke="#000" stroke-width="1"/>
<g>
<path d="M343.97,315.53L345.34,314.16M343.97,322.98L352.79,314.16M343.97,330.43L360.24,314.16M343.97,337.88L361.87,319.98M343.97,345.33L361.87,327.43M343.97,352.78L361.87,334.88M343.97,360.23L361.87,342.33M343.97,367.68L361.87,349.78M343.97,375.13L361.87,357.23M343.97,382.58L361.87,364.68M343.97,390.03L361.87,372.13M343.97,397.48L361.87,379.58M343.97,404.93L361.87,387.03M343.97,412.38L361.87,394.48M343.97,419.83L361.87,401.93M343.97,427.28L361.87,409.38M343.97,434.73L361.87,416.83M343.97,442.18L361.87,424.28M343.97,449.63L361.87,431.73M343.97,457.08L361.87,439.18M343.97,464.53L361.87,446.63M343.97,471.98L361.87,454.08M343.97,479.43L361.87,461.53M349.65,481.20L361.87,468.98M357.10,481.20L361.87,476.43" stroke="#959595" stroke-width="0.9" fill="none"/>
</g>
<rect x="343.97" y="314.16" width="17.90" height="167.04" fill="none" stroke="#000" stroke-width="1"/>
<path d="M245.5,461.8L245.8,461.8L246.1,461.8L246.4,461.8L246.7,461.8L247.1,461.8L247.4,461.8L247.7,461.8L248.0,461.8L248.3,461.8L248.6,461.8L248.9,461.8L249.2,461.8L249.5,461.8L249.8,461.8L250.1,461.8L250.4,461.8L250.7,461.8L251.0,461.8L251.4,461.8L251.7,461.8L252.0,461.8L252.3,461.8L252.6,461.8L252.9,461.8L253.2,461.8L253.5,461.8L253.8,461.9L254.1,461.9L254.4,461.9L254.7,461.9L255.1,461.9L255.4,461.9L255.7,461.9L256.0,461.9L256.3,461.9L256.6,461.9L256.9,461.9L257.2,461.9L257.5,462.0L257.8,462.0L258.1,462.0L258.5,462.0L258.8,462.0L259.1,462.0L259.4,462.0L259.7,462.0L260.0,462.0L260.3,462.1L260.6,462.1L260.9,462.1L261.3,462.1L261.6,462.1L261.9,462.1L262.2,462.1L262.5,462.1L262.8,462.2L263.1,462.2L263.4,462.2L263.8,462.2L264.1,462.2L264.4,462.2L264.7,462.2L265.0,462.3L265.3,462.3L265.6,462.3L266.0,462.3L266.3,462.3L266.6,462.3L266.9,462.4L267.2,462.4L267.5,462.4L267.9,462.4L268.2,462.4L268.5,462.4L268.8,462.5L269.1,462.5L269.4,462.5L269.8,462.5L270.1,462.5L270.4,462.5L270.7,462.6L271.0,462.6L271.4,462.6L271.7,462.6L272.0,462.6L272.3,462.7L272.6,462.7L273.0,462.7L273.3,462.7L273.6,462.7L273.9,462.7L274.2,462.8L274.6,462.8L274.9,462.8L275.2,462.8L275.5,462.8L275.9,462.9L276.2,462.9L276.5,462.9L276.8,462.9L277.2,462.9L277.5,463.0L277.8,463.0L278.1,463.0L278.5,463.0L278.8,463.0L279.1,463.0L279.4,463.1L279.8,463.1L280.1,463.1L280.4,463.1L280.7,463.1L281.1,463.2L281.4,463.2L281.7,463.2L282.1,463.2L282.4,463.2L282.7,463.3L283.0,463.3L283.4,463.3L283.7,463.3L284.0,463.3L284.4,463.4L284.7,463.4L285.0,463.4L285.4,463.4L285.7,463.4L286.0,463.4L286.4,463.5L286.7,463.5L287.0,463.5L287.4,463.5L287.7,463.5L288.0,463.6L288.4,463.6L288.7,463.6L289.0,463.6L289.4,463.6L289.7,463.6L290.0,463.7L290.4,463.7L290.7,463.7L291.0,463.7L291.4,463.7L291.7,463.8L292.0,463.8L292.4,463.8L292.7,463.8L293.1,463.8L293.4,463.8L293.7,463.8L294.1,463.9L294.4,463.9L294.8,463.9L295.1,463.9L295.4,463.9L295.8,463.9L296.1,464.0L296.4,464.0L296.8,464.0L297.1,464.0L297.5,464.0L297.8,464.0L298.2,464.0L298.5,464.1L298.8,464.1L299.2,464.1L299.5,464.1L299.9,464.1L300.2,464.1L300.5,464.1L300.9,464.1L301.2,464.2L301.6,464.2L301.9,464.2L302.3,464.2L302.6,464.2L302.9,464.2L303.3,464.2L303.6,464.2L304.0,464.2L304.3,464.3L304.7,464.3L305.0,464.3L305.4,464.3L305.7,464.3L306.0,464.3L306.4,464.3L306.7,464.3L307.1,464.3L307.4,464.3L307.8,464.3L308.1,464.3L308.5,464.4L308.8,464.4L309.2,464.4L309.5,464.4L309.8,464.4L310.2,464.4L310.5,464.4L310.9,464.4L311.2,464.4L311.6,464.4L311.9,464.4L312.3,464.4L312.6,464.4L313.0,464.4L313.3,464.4L313.7,464.4L314.0,464.4L314.3,464.4L314.7,464.4L315.0,464.4L315.4,464.4L315.7,464.4L316.1,464.4L316.4,464.4L316.8,464.4L317.1,464.4L317.5,464.4L317.8,464.4L318.2,464.4L318.5,464.4L318.9,464.4L319.2,464.4L319.5,464.4L319.9,464.4L320.2,464.4L320.6,464.4L320.9,464.4L321.3,464.4L321.6,464.4L322.0,464.4L322.3,464.4L322.7,464.4L323.0,464.4L323.4,464.4L323.7,464.4L324.1,464.4L324.4,464.4L324.7,464.4L325.1,464.4L325.4,464.4L325.8,464.4L326.1,464.3L326.5,464.3L326.8,464.3L327.2,464.3L327.5,464.3L327.9,464.3L328.2,464.3L328.5,464.3L328.9,464.3L329.2,464.3L329.6,464.3L329.9,464.3L330.3,464.2L330.6,464.2L331.0,464.2L331.3,464.2L331.6,464.2L332.0,464.2L332.3,464.2L332.7,464.2L333.0,464.2L333.4,464.1L333.7,464.1L334.0,464.1L334.4,464.1L334.7,464.1L335.1,464.1L335.4,464.1L335.7,464.1L336.1,464.0L336.4,464.0L336.8,464.0L337.1,464.0L337.5,464.0L337.8,464.0L338.1,464.0L338.5,463.9L338.8,463.9L339.1,463.9L339.5,463.9L339.8,463.9L340.2,463.9L340.5,463.8L340.8,463.8L341.2,463.8L341.5,463.8L341.9,463.8L342.2,463.8L342.5,463.8L342.9,463.7L343.2,463.7L343.5,463.7L343.9,463.7L344.2,463.7L344.5,463.6L344.9,463.6L345.2,463.6L345.6,463.6L345.9,463.6L346.2,463.6L346.6,463.5L346.9,463.5L347.2,463.5L347.6,463.5L347.9,463.5L348.2,463.4L348.5,463.4L348.9,463.4L349.2,463.4L349.5,463.4L349.9,463.4L350.2,463.3L350.5,463.3L350.9,463.3L351.2,463.3L351.5,463.3L351.9,463.2L352.2,463.2L352.5,463.2L352.8,463.2L353.2,463.2L353.5,463.1L353.8,463.1L354.2,463.1L354.5,463.1L354.8,463.1L355.1,463.0L355.5,463.0L355.8,463.0L356.1,463.0L356.4,463.0L356.8,463.0L357.1,462.9L357.4,462.9L357.7,462.9L358.1,462.9L358.4,462.9L358.7,462.8L359.0,462.8L359.4,462.8L359.7,462.8L360.0,462.8L360.3,462.7L360.6,462.7L361.0,462.7L361.3,462.7L361.6,462.7L361.9,462.7L362.2,462.6L362.6,462.6L362.9,462.6L363.2,462.6L363.5,462.6L363.8,462.5L364.2,462.5L364.5,462.5L364.8,462.5L365.1,462.5L365.4,462.5L365.8,462.4L366.1,462.4L366.4,462.4L366.7,462.4L367.0,462.4L367.3,462.4L367.6,462.3L368.0,462.3L368.3,462.3L368.6,462.3L368.9,462.3L369.2,462.3L369.5,462.2L369.9,462.2L370.2,462.2L370.5,462.2L370.8,462.2L371.1,462.2L371.4,462.2L371.7,462.1L372.0,462.1L372.4,462.1L372.7,462.1L373.0,462.1L373.3,462.1L373.6,462.1L373.9,462.1L374.2,462.0L374.5,462.0L374.9,462.0L375.2,462.0L375.5,462.0L375.8,462.0L376.1,462.0L376.4,462.0L376.7,462.0L377.0,461.9L377.3,461.9L377.6,461.9L378.0,461.9L378.3,461.9L378.6,461.9L378.9,461.9L379.2,461.9L379.5,461.9L379.8,461.9L380.1,461.9L380.4,461.9L380.7,461.8L381.0,461.8L381.3,461.8L381.7,461.8L382.0,461.8L382.3,461.8L382.6,461.8L382.9,461.8L383.2,461.8L383.5,461.8L383.8,461.8L384.1,461.8L384.4,461.8L384.7,461.8L385.0,461.8L385.3,461.8L385.7,461.8L386.0,461.8L386.3,461.8L386.6,461.8L386.9,461.8L387.2,461.8L387.5,461.8L387.8,461.8L388.1,461.8L388.4,461.8L388.7,461.8" fill="none" stroke="#0000b4" stroke-width="2" stroke-linejoin="round"/>
<path d="M245.5,416.7L245.9,416.7L246.2,416.7L246.6,416.7L246.9,416.7L247.3,416.7L247.6,416.7L248.0,416.7L248.4,416.7L248.7,416.7L249.1,416.6L249.4,416.6L249.8,416.6L250.1,416.6L250.5,416.6L250.8,416.6L251.2,416.5L251.5,416.5L251.9,416.5L252.2,416.5L252.6,416.4L252.9,416.4L253.3,416.4L253.7,416.4L254.0,416.3L254.4,416.3L254.7,416.3L255.1,416.2L255.4,416.2L255.8,416.2L256.1,416.1L256.5,416.1L256.8,416.0L257.2,416.0L257.5,416.0L257.9,415.9L258.2,415.9L258.6,415.8L258.9,415.8L259.3,415.7L259.6,415.7L260.0,415.6L260.3,415.6L260.7,415.5L261.0,415.5L261.4,415.4L261.7,415.4L262.1,415.3L262.4,415.3L262.8,415.2L263.1,415.1L263.5,415.1L263.8,415.0L264.2,415.0L264.5,414.9L264.9,414.8L265.2,414.8L265.6,414.7L265.9,414.6L266.3,414.6L266.6,414.5L267.0,414.4L267.3,414.3L267.7,414.3L268.0,414.2L268.4,414.1L268.7,414.1L269.1,414.0L269.4,413.9L269.8,413.8L270.1,413.8L270.4,413.7L270.8,413.6L271.1,413.5L271.5,413.4L271.8,413.4L272.2,413.3L272.5,413.2L272.9,413.1L273.2,413.0L273.5,412.9L273.9,412.9L274.2,412.8L274.6,412.7L274.9,412.6L275.2,412.5L275.6,412.4L275.9,412.4L276.3,412.3L276.6,412.2L276.9,412.1L277.3,412.0L277.6,411.9L278.0,411.8L278.3,411.7L278.6,411.6L279.0,411.6L279.3,411.5L279.6,411.4L280.0,411.3L280.3,411.2L280.6,411.1L281.0,411.0L281.3,410.9L281.6,410.8L282.0,410.7L282.3,410.7L282.6,410.6L283.0,410.5L283.3,410.4L283.6,410.3L284.0,410.2L284.3,410.1L284.6,410.0L285.0,409.9L285.3,409.8L285.6,409.7L285.9,409.6L286.3,409.6L286.6,409.5L286.9,409.4L287.2,409.3L287.6,409.2L287.9,409.1L288.2,409.0L288.5,408.9L288.9,408.8L289.2,408.7L289.5,408.7L289.8,408.6L290.2,408.5L290.5,408.4L290.8,408.3L291.1,408.2L291.4,408.1L291.8,408.1L292.1,408.0L292.4,407.9L292.7,407.8L293.0,407.7L293.3,407.6L293.7,407.5L294.0,407.5L294.3,407.4L294.6,407.3L294.9,407.2L295.2,407.1L295.5,407.1L295.9,407.0L296.2,406.9L296.5,406.8L296.8,406.8L297.1,406.7L297.4,406.6L297.7,406.5L298.0,406.5L298.3,406.4L298.6,406.3L299.0,406.2L299.3,406.2L299.6,406.1L299.9,406.0L300.2,406.0L300.5,405.9L300.8,405.8L301.1,405.8L301.4,405.7L301.7,405.6L302.0,405.6L302.3,405.5L302.6,405.5L302.9,405.4L303.2,405.4L303.5,405.3L303.8,405.2L304.1,405.2L304.4,405.1L304.7,405.1L305.0,405.0L305.3,405.0L305.6,404.9L305.9,404.9L306.2,404.8L306.5,404.8L306.8,404.7L307.1,404.7L307.4,404.7L307.7,404.6L308.0,404.6L308.3,404.5L308.6,404.5L308.9,404.5L309.2,404.4L309.5,404.4L309.8,404.4L310.1,404.3L310.4,404.3L310.7,404.3L311.0,404.2L311.3,404.2L311.6,404.2L311.8,404.2L312.1,404.1L312.4,404.1L312.7,404.1L313.0,404.1L313.3,404.1L313.6,404.1L313.9,404.0L314.2,404.0L314.5,404.0L314.8,404.0L315.1,404.0L315.4,404.0L315.7,404.0L316.0,404.0L316.2,404.0L316.5,404.0L316.8,404.0L317.1,404.0L317.4,404.0L317.7,404.0L318.0,404.0L318.3,404.0L318.6,404.0L318.9,404.0L319.2,404.0L319.5,404.0L319.8,404.0L320.0,404.0L320.3,404.0L320.6,404.1L320.9,404.1L321.2,404.1L321.5,404.1L321.8,404.1L322.1,404.1L322.4,404.2L322.7,404.2L323.0,404.2L323.3,404.2L323.6,404.3L323.9,404.3L324.2,404.3L324.5,404.4L324.7,404.4L325.0,404.4L325.3,404.5L325.6,404.5L325.9,404.5L326.2,404.6L326.5,404.6L326.8,404.7L327.1,404.7L327.4,404.7L327.7,404.8L328.0,404.8L328.3,404.9L328.6,404.9L328.9,405.0L329.2,405.0L329.5,405.1L329.8,405.1L330.1,405.2L330.4,405.2L330.7,405.3L331.0,405.4L331.3,405.4L331.6,405.5L331.9,405.5L332.2,405.6L332.5,405.6L332.8,405.7L333.1,405.8L333.4,405.8L333.7,405.9L334.1,406.0L334.4,406.0L334.7,406.1L335.0,406.2L335.3,406.2L335.6,406.3L335.9,406.4L336.2,406.5L336.5,406.5L336.8,406.6L337.1,406.7L337.4,406.8L337.8,406.8L338.1,406.9L338.4,407.0L338.7,407.1L339.0,407.1L339.3,407.2L339.6,407.3L340.0,407.4L340.3,407.5L340.6,407.5L340.9,407.6L341.2,407.7L341.5,407.8L341.8,407.9L342.2,408.0L342.5,408.1L342.8,408.1L343.1,408.2L343.4,408.3L343.8,408.4L344.1,408.5L344.4,408.6L344.7,408.7L345.1,408.7L345.4,408.8L345.7,408.9L346.0,409.0L346.3,409.1L346.7,409.2L347.0,409.3L347.3,409.4L347.6,409.5L348.0,409.6L348.3,409.6L348.6,409.7L349.0,409.8L349.3,409.9L349.6,410.0L349.9,410.1L350.3,410.2L350.6,410.3L350.9,410.4L351.3,410.5L351.6,410.6L351.9,410.7L352.3,410.7L352.6,410.8L352.9,410.9L353.3,411.0L353.6,411.1L353.9,411.2L354.3,411.3L354.6,411.4L354.9,411.5L355.3,411.6L355.6,411.6L355.9,411.7L356.3,411.8L356.6,411.9L357.0,412.0L357.3,412.1L357.6,412.2L358.0,412.3L358.3,412.4L358.7,412.4L359.0,412.5L359.3,412.6L359.7,412.7L360.0,412.8L360.4,412.9L360.7,412.9L361.0,413.0L361.4,413.1L361.7,413.2L362.1,413.3L362.4,413.4L362.8,413.4L363.1,413.5L363.5,413.6L363.8,413.7L364.1,413.8L364.5,413.8L364.8,413.9L365.2,414.0L365.5,414.1L365.9,414.1L366.2,414.2L366.6,414.3L366.9,414.3L367.3,414.4L367.6,414.5L368.0,414.6L368.3,414.6L368.7,414.7L369.0,414.8L369.3,414.8L369.7,414.9L370.0,415.0L370.4,415.0L370.7,415.1L371.1,415.1L371.4,415.2L371.8,415.3L372.1,415.3L372.5,415.4L372.8,415.4L373.2,415.5L373.5,415.5L373.9,415.6L374.2,415.6L374.6,415.7L375.0,415.7L375.3,415.8L375.7,415.8L376.0,415.9L376.4,415.9L376.7,416.0L377.1,416.0L377.4,416.0L377.8,416.1L378.1,416.1L378.5,416.2L378.8,416.2L379.2,416.2L379.5,416.3L379.9,416.3L380.2,416.3L380.6,416.4L380.9,416.4L381.3,416.4L381.6,416.4L382.0,416.5L382.4,416.5L382.7,416.5L383.1,416.5L383.4,416.6L383.8,416.6L384.1,416.6L384.5,416.6L384.8,416.6L385.2,416.6L385.5,416.7L385.9,416.7L386.2,416.7L386.6,416.7L387.0,416.7L387.3,416.7L387.7,416.7L388.0,416.7L388.4,416.7L388.7,416.7" fill="none" stroke="#c00000" stroke-width="2" stroke-linejoin="round"/>
<path d="M245.5,309.5L245.8,309.5L246.0,309.5L246.3,309.5L246.5,309.5L246.8,309.5L247.1,309.5L247.3,309.6L247.6,309.6L247.8,309.6L248.1,309.7L248.3,309.7L248.6,309.7L248.8,309.8L249.1,309.8L249.4,309.9L249.6,309.9L249.9,310.0L250.1,310.1L250.4,310.1L250.7,310.2L250.9,310.3L251.2,310.4L251.4,310.4L251.7,310.5L252.0,310.6L252.2,310.7L252.5,310.8L252.8,310.9L253.0,311.0L253.3,311.1L253.6,311.2L253.8,311.3L254.1,311.5L254.4,311.6L254.6,311.7L254.9,311.8L255.2,312.0L255.5,312.1L255.7,312.2L256.0,312.4L256.3,312.5L256.6,312.7L256.8,312.8L257.1,313.0L257.4,313.1L257.7,313.3L257.9,313.4L258.2,313.6L258.5,313.8L258.8,313.9L259.1,314.1L259.4,314.3L259.7,314.5L259.9,314.6L260.2,314.8L260.5,315.0L260.8,315.2L261.1,315.4L261.4,315.6L261.7,315.8L262.0,316.0L262.3,316.2L262.6,316.4L262.9,316.6L263.2,316.8L263.5,317.0L263.8,317.2L264.1,317.4L264.4,317.7L264.7,317.9L265.0,318.1L265.3,318.3L265.6,318.5L265.9,318.8L266.3,319.0L266.6,319.2L266.9,319.5L267.2,319.7L267.5,319.9L267.8,320.2L268.2,320.4L268.5,320.6L268.8,320.9L269.1,321.1L269.4,321.4L269.8,321.6L270.1,321.9L270.4,322.1L270.7,322.4L271.1,322.6L271.4,322.9L271.7,323.1L272.1,323.4L272.4,323.6L272.7,323.9L273.1,324.1L273.4,324.4L273.7,324.6L274.1,324.9L274.4,325.2L274.7,325.4L275.1,325.7L275.4,325.9L275.8,326.2L276.1,326.4L276.4,326.7L276.8,327.0L277.1,327.2L277.5,327.5L277.8,327.7L278.2,328.0L278.5,328.3L278.9,328.5L279.2,328.8L279.6,329.0L279.9,329.3L280.3,329.6L280.6,329.8L281.0,330.1L281.3,330.3L281.7,330.6L282.0,330.9L282.4,331.1L282.7,331.4L283.1,331.6L283.5,331.9L283.8,332.1L284.2,332.4L284.5,332.6L284.9,332.9L285.2,333.1L285.6,333.4L286.0,333.6L286.3,333.9L286.7,334.1L287.0,334.4L287.4,334.6L287.8,334.8L288.1,335.1L288.5,335.3L288.8,335.5L289.2,335.8L289.6,336.0L289.9,336.2L290.3,336.5L290.7,336.7L291.0,336.9L291.4,337.1L291.8,337.4L292.1,337.6L292.5,337.8L292.8,338.0L293.2,338.2L293.6,338.4L293.9,338.6L294.3,338.8L294.7,339.0L295.0,339.3L295.4,339.4L295.8,339.6L296.1,339.8L296.5,340.0L296.9,340.2L297.2,340.4L297.6,340.6L297.9,340.8L298.3,340.9L298.7,341.1L299.0,341.3L299.4,341.5L299.8,341.6L300.1,341.8L300.5,342.0L300.9,342.1L301.2,342.3L301.6,342.4L302.0,342.6L302.3,342.7L302.7,342.9L303.0,343.0L303.4,343.1L303.8,343.3L304.1,343.4L304.5,343.5L304.9,343.7L305.2,343.8L305.6,343.9L305.9,344.0L306.3,344.1L306.7,344.2L307.0,344.3L307.4,344.4L307.8,344.5L308.1,344.6L308.5,344.7L308.8,344.8L309.2,344.9L309.6,345.0L309.9,345.0L310.3,345.1L310.6,345.2L311.0,345.2L311.4,345.3L311.7,345.3L312.1,345.4L312.4,345.5L312.8,345.5L313.2,345.5L313.5,345.6L313.9,345.6L314.2,345.6L314.6,345.7L315.0,345.7L315.3,345.7L315.7,345.7L316.0,345.8L316.4,345.8L316.8,345.8L317.1,345.8L317.5,345.8L317.8,345.8L318.2,345.8L318.6,345.7L318.9,345.7L319.3,345.7L319.6,345.7L320.0,345.6L320.4,345.6L320.7,345.6L321.1,345.5L321.4,345.5L321.8,345.5L322.2,345.4L322.5,345.3L322.9,345.3L323.2,345.2L323.6,345.2L324.0,345.1L324.3,345.0L324.7,345.0L325.0,344.9L325.4,344.8L325.8,344.7L326.1,344.6L326.5,344.5L326.8,344.4L327.2,344.3L327.6,344.2L327.9,344.1L328.3,344.0L328.7,343.9L329.0,343.8L329.4,343.7L329.7,343.5L330.1,343.4L330.5,343.3L330.8,343.1L331.2,343.0L331.6,342.9L331.9,342.7L332.3,342.6L332.6,342.4L333.0,342.3L333.4,342.1L333.7,342.0L334.1,341.8L334.5,341.6L334.8,341.5L335.2,341.3L335.6,341.1L335.9,340.9L336.3,340.8L336.7,340.6L337.0,340.4L337.4,340.2L337.7,340.0L338.1,339.8L338.5,339.6L338.8,339.4L339.2,339.3L339.6,339.0L339.9,338.8L340.3,338.6L340.7,338.4L341.0,338.2L341.4,338.0L341.8,337.8L342.1,337.6L342.5,337.4L342.8,337.1L343.2,336.9L343.6,336.7L343.9,336.5L344.3,336.2L344.7,336.0L345.0,335.8L345.4,335.5L345.8,335.3L346.1,335.1L346.5,334.8L346.8,334.6L347.2,334.4L347.6,334.1L347.9,333.9L348.3,333.6L348.6,333.4L349.0,333.1L349.4,332.9L349.7,332.6L350.1,332.4L350.4,332.1L350.8,331.9L351.1,331.6L351.5,331.4L351.9,331.1L352.2,330.9L352.6,330.6L352.9,330.3L353.3,330.1L353.6,329.8L354.0,329.6L354.3,329.3L354.7,329.0L355.0,328.8L355.4,328.5L355.7,328.3L356.1,328.0L356.4,327.7L356.8,327.5L357.1,327.2L357.5,327.0L357.8,326.7L358.1,326.4L358.5,326.2L358.8,325.9L359.2,325.7L359.5,325.4L359.8,325.2L360.2,324.9L360.5,324.6L360.9,324.4L361.2,324.1L361.5,323.9L361.9,323.6L362.2,323.4L362.5,323.1L362.8,322.9L363.2,322.6L363.5,322.4L363.8,322.1L364.2,321.9L364.5,321.6L364.8,321.4L365.1,321.1L365.4,320.9L365.8,320.6L366.1,320.4L366.4,320.2L366.7,319.9L367.0,319.7L367.4,319.5L367.7,319.2L368.0,319.0L368.3,318.8L368.6,318.5L368.9,318.3L369.2,318.1L369.5,317.9L369.8,317.7L370.1,317.4L370.4,317.2L370.7,317.0L371.0,316.8L371.4,316.6L371.6,316.4L371.9,316.2L372.2,316.0L372.5,315.8L372.8,315.6L373.1,315.4L373.4,315.2L373.7,315.0L374.0,314.8L374.3,314.6L374.6,314.5L374.9,314.3L375.2,314.1L375.4,313.9L375.7,313.8L376.0,313.6L376.3,313.4L376.6,313.3L376.9,313.1L377.1,313.0L377.4,312.8L377.7,312.7L378.0,312.5L378.2,312.4L378.5,312.2L378.8,312.1L379.1,312.0L379.3,311.8L379.6,311.7L379.9,311.6L380.1,311.5L380.4,311.3L380.7,311.2L380.9,311.1L381.2,311.0L381.5,310.9L381.7,310.8L382.0,310.7L382.3,310.6L382.5,310.5L382.8,310.4L383.1,310.4L383.3,310.3L383.6,310.2L383.8,310.1L384.1,310.1L384.4,310.0L384.6,309.9L384.9,309.9L385.1,309.8L385.4,309.8L385.6,309.7L385.9,309.7L386.2,309.7L386.4,309.6L386.7,309.6L386.9,309.6L387.2,309.5L387.4,309.5L387.7,309.5L388.0,309.5L388.2,309.5L388.5,309.5L388.7,309.5" fill="none" stroke="#800080" stroke-width="2" stroke-linejoin="round"/>
<path d="M245.5,260.4L245.9,260.4L246.2,260.4L246.5,260.3L246.8,260.3L247.2,260.3L247.5,260.2L247.8,260.2L248.2,260.1L248.5,260.0L248.8,260.0L249.2,259.9L249.5,259.8L249.8,259.7L250.2,259.6L250.5,259.5L250.9,259.3L251.2,259.2L251.5,259.1L251.9,258.9L252.2,258.8L252.6,258.6L252.9,258.4L253.2,258.2L253.6,258.0L253.9,257.9L254.3,257.6L254.6,257.4L255.0,257.2L255.3,257.0L255.7,256.8L256.0,256.5L256.4,256.3L256.7,256.0L257.1,255.8L257.4,255.5L257.8,255.2L258.2,254.9L258.5,254.6L258.9,254.3L259.2,254.0L259.6,253.7L260.0,253.4L260.3,253.1L260.7,252.7L261.1,252.4L261.5,252.0L261.8,251.7L262.2,251.3L262.6,251.0L262.9,250.6L263.3,250.2L263.7,249.8L264.1,249.5L264.5,249.1L264.8,248.7L265.2,248.2L265.6,247.8L266.0,247.4L266.4,247.0L266.8,246.6L267.2,246.1L267.6,245.7L268.0,245.2L268.3,244.8L268.7,244.3L269.1,243.9L269.5,243.4L269.9,242.9L270.3,242.5L270.7,242.0L271.1,241.5L271.5,241.0L271.9,240.5L272.3,240.0L272.7,239.5L273.1,239.0L273.5,238.5L273.9,238.0L274.3,237.5L274.7,237.0L275.1,236.5L275.5,235.9L276.0,235.4L276.4,234.9L276.8,234.4L277.2,233.8L277.6,233.3L278.0,232.7L278.4,232.2L278.8,231.7L279.2,231.1L279.6,230.6L280.0,230.0L280.4,229.4L280.8,228.9L281.2,228.3L281.6,227.8L282.0,227.2L282.4,226.6L282.8,226.1L283.2,225.5L283.6,225.0L284.0,224.4L284.4,223.8L284.8,223.3L285.2,222.7L285.6,222.1L286.0,221.5L286.4,221.0L286.8,220.4L287.2,219.8L287.6,219.3L288.0,218.7L288.4,218.1L288.8,217.6L289.2,217.0L289.6,216.4L289.9,215.9L290.3,215.3L290.7,214.7L291.1,214.2L291.5,213.6L291.8,213.1L292.2,212.5L292.6,211.9L293.0,211.4L293.3,210.8L293.7,210.3L294.1,209.7L294.4,209.2L294.8,208.6L295.2,208.1L295.5,207.6L295.9,207.0L296.2,206.5L296.6,206.0L296.9,205.4L297.3,204.9L297.6,204.4L298.0,203.9L298.3,203.4L298.6,202.9L299.0,202.3L299.3,201.8L299.6,201.3L300.0,200.9L300.3,200.4L300.6,199.9L300.9,199.4L301.2,198.9L301.6,198.4L301.9,198.0L302.2,197.5L302.5,197.0L302.8,196.6L303.1,196.1L303.4,195.7L303.7,195.3L304.0,194.8L304.3,194.4L304.6,194.0L304.8,193.6L305.1,193.1L305.4,192.7L305.7,192.3L306.0,191.9L306.2,191.5L306.5,191.2L306.8,190.8L307.0,190.4L307.3,190.1L307.5,189.7L307.8,189.3L308.0,189.0L308.3,188.7L308.5,188.3L308.8,188.0L309.0,187.7L309.3,187.4L309.5,187.1L309.7,186.8L310.0,186.5L310.2,186.2L310.4,185.9L310.6,185.6L310.9,185.4L311.1,185.1L311.3,184.9L311.5,184.6L311.7,184.4L311.9,184.2L312.1,183.9L312.3,183.7L312.5,183.5L312.7,183.3L312.9,183.1L313.1,183.0L313.3,182.8L313.5,182.6L313.7,182.5L313.9,182.3L314.1,182.2L314.3,182.1L314.5,181.9L314.6,181.8L314.8,181.7L315.0,181.6L315.2,181.5L315.4,181.4L315.5,181.3L315.7,181.3L315.9,181.2L316.1,181.2L316.2,181.1L316.4,181.1L316.6,181.0L316.8,181.0L316.9,181.0L317.1,181.0L317.3,181.0L317.5,181.0L317.6,181.0L317.8,181.1L318.0,181.1L318.2,181.2L318.3,181.2L318.5,181.3L318.7,181.3L318.9,181.4L319.1,181.5L319.2,181.6L319.4,181.7L319.6,181.8L319.8,181.9L320.0,182.1L320.2,182.2L320.3,182.3L320.5,182.5L320.7,182.6L320.9,182.8L321.1,183.0L321.3,183.1L321.5,183.3L321.7,183.5L321.9,183.7L322.1,183.9L322.3,184.2L322.5,184.4L322.7,184.6L323.0,184.9L323.2,185.1L323.4,185.4L323.6,185.6L323.8,185.9L324.1,186.2L324.3,186.5L324.5,186.8L324.7,187.1L325.0,187.4L325.2,187.7L325.5,188.0L325.7,188.3L325.9,188.7L326.2,189.0L326.4,189.3L326.7,189.7L327.0,190.1L327.2,190.4L327.5,190.8L327.7,191.2L328.0,191.5L328.3,191.9L328.6,192.3L328.8,192.7L329.1,193.1L329.4,193.6L329.7,194.0L330.0,194.4L330.3,194.8L330.6,195.3L330.8,195.7L331.1,196.1L331.4,196.6L331.8,197.0L332.1,197.5L332.4,198.0L332.7,198.4L333.0,198.9L333.3,199.4L333.6,199.9L334.0,200.4L334.3,200.9L334.6,201.3L334.9,201.8L335.3,202.3L335.6,202.9L335.9,203.4L336.3,203.9L336.6,204.4L337.0,204.9L337.3,205.4L337.7,206.0L338.0,206.5L338.4,207.0L338.7,207.6L339.1,208.1L339.4,208.6L339.8,209.2L340.2,209.7L340.5,210.3L340.9,210.8L341.3,211.4L341.6,211.9L342.0,212.5L342.4,213.1L342.8,213.6L343.2,214.2L343.5,214.7L343.9,215.3L344.3,215.9L344.7,216.4L345.1,217.0L345.5,217.6L345.8,218.1L346.2,218.7L346.6,219.3L347.0,219.8L347.4,220.4L347.8,221.0L348.2,221.5L348.6,222.1L349.0,222.7L349.4,223.3L349.8,223.8L350.2,224.4L350.6,225.0L351.0,225.5L351.4,226.1L351.8,226.6L352.2,227.2L352.6,227.8L353.0,228.3L353.4,228.9L353.8,229.4L354.2,230.0L354.6,230.6L355.0,231.1L355.4,231.7L355.9,232.2L356.3,232.7L356.7,233.3L357.1,233.8L357.5,234.4L357.9,234.9L358.3,235.4L358.7,235.9L359.1,236.5L359.5,237.0L359.9,237.5L360.3,238.0L360.7,238.5L361.1,239.0L361.5,239.5L361.9,240.0L362.3,240.5L362.7,241.0L363.1,241.5L363.5,242.0L363.9,242.5L364.3,242.9L364.7,243.4L365.1,243.9L365.5,244.3L365.9,244.8L366.3,245.2L366.7,245.7L367.1,246.1L367.5,246.6L367.8,247.0L368.2,247.4L368.6,247.8L369.0,248.2L369.4,248.7L369.8,249.1L370.2,249.5L370.5,249.8L370.9,250.2L371.3,250.6L371.7,251.0L372.0,251.3L372.4,251.7L372.8,252.0L373.2,252.4L373.5,252.7L373.9,253.1L374.3,253.4L374.6,253.7L375.0,254.0L375.4,254.3L375.7,254.6L376.1,254.9L376.4,255.2L376.8,255.5L377.2,255.8L377.5,256.0L377.9,256.3L378.2,256.5L378.6,256.8L378.9,257.0L379.3,257.2L379.6,257.4L380.0,257.6L380.3,257.9L380.7,258.0L381.0,258.2L381.3,258.4L381.7,258.6L382.0,258.8L382.4,258.9L382.7,259.1L383.0,259.2L383.4,259.3L383.7,259.5L384.1,259.6L384.4,259.7L384.7,259.8L385.1,259.9L385.4,260.0L385.7,260.0L386.1,260.1L386.4,260.2L386.7,260.2L387.1,260.3L387.4,260.3L387.7,260.3L388.1,260.4L388.4,260.4L388.7,260.4" fill="none" stroke="#000000" stroke-width="2" stroke-linejoin="round"/>
<rect x="305.77" y="459.90" width="9" height="9" fill="rgb(0,230,0)" fill-opacity="0.4" stroke="#000" stroke-width="2"/>
<rect x="319.47" y="459.90" width="9" height="9" fill="rgb(0,230,0)" fill-opacity="0.4" stroke="#000" stroke-width="2"/>
<rect x="286.32" y="459.40" width="9" height="9" fill="rgb(0,230,0)" fill-opacity="0.4" stroke="#000" stroke-width="2"/>
<rect x="338.92" y="459.40" width="9" height="9" fill="rgb(0,230,0)" fill-opacity="0.4" stroke="#000" stroke-width="2"/>
<rect x="274.52" y="458.80" width="9" height="9" fill="rgb(0,230,0)" fill-opacity="0.4" stroke="#000" stroke-width="2"/>
<rect x="350.72" y="458.80" width="9" height="9" fill="rgb(0,230,0)" fill-opacity="0.4" stroke="#000" stroke-width="2"/>
<rect x="262.77" y="458.40" width="9" height="9" fill="rgb(0,230,0)" fill-opacity="0.4" stroke="#000" stroke-width="2"/>
<rect x="362.47" y="458.40" width="9" height="9" fill="rgb(0,230,0)" fill-opacity="0.4" stroke="#000" stroke-width="2"/>
<rect x="291.12" y="402.50" width="9" height="9" fill="rgb(0,230,0)" fill-opacity="0.4" stroke="#000" stroke-width="2"/>
<rect x="334.12" y="402.50" width="9" height="9" fill="rgb(0,230,0)" fill-opacity="0.4" stroke="#000" stroke-width="2"/>
<rect x="279.32" y="406.20" width="9" height="9" fill="rgb(0,230,0)" fill-opacity="0.4" stroke="#000" stroke-width="2"/>
<rect x="345.92" y="406.20" width="9" height="9" fill="rgb(0,230,0)" fill-opacity="0.4" stroke="#000" stroke-width="2"/>
<rect x="267.47" y="408.90" width="9" height="9" fill="rgb(0,230,0)" fill-opacity="0.4" stroke="#000" stroke-width="2"/>
<rect x="357.77" y="408.90" width="9" height="9" fill="rgb(0,230,0)" fill-opacity="0.4" stroke="#000" stroke-width="2"/>
<rect x="246.82" y="412.40" width="9" height="9" fill="rgb(0,230,0)" fill-opacity="0.4" stroke="#000" stroke-width="2"/>
<rect x="378.42" y="412.40" width="9" height="9" fill="rgb(0,230,0)" fill-opacity="0.4" stroke="#000" stroke-width="2"/>
<rect x="307.62" y="341.40" width="9" height="9" fill="rgb(0,230,0)" fill-opacity="0.4" stroke="#000" stroke-width="2"/>
<rect x="317.62" y="341.40" width="9" height="9" fill="rgb(0,230,0)" fill-opacity="0.4" stroke="#000" stroke-width="2"/>
<rect x="285.72" y="332.20" width="9" height="9" fill="rgb(0,230,0)" fill-opacity="0.4" stroke="#000" stroke-width="2"/>
<rect x="339.52" y="332.20" width="9" height="9" fill="rgb(0,230,0)" fill-opacity="0.4" stroke="#000" stroke-width="2"/>
<rect x="272.82" y="323.00" width="9" height="9" fill="rgb(0,230,0)" fill-opacity="0.4" stroke="#000" stroke-width="2"/>
<rect x="352.42" y="323.00" width="9" height="9" fill="rgb(0,230,0)" fill-opacity="0.4" stroke="#000" stroke-width="2"/>
<rect x="260.52" y="313.80" width="9" height="9" fill="rgb(0,230,0)" fill-opacity="0.4" stroke="#000" stroke-width="2"/>
<rect x="364.72" y="313.80" width="9" height="9" fill="rgb(0,230,0)" fill-opacity="0.4" stroke="#000" stroke-width="2"/>
<rect x="295.52" y="195.80" width="9" height="9" fill="rgb(0,230,0)" fill-opacity="0.4" stroke="#000" stroke-width="2"/>
<rect x="329.72" y="195.80" width="9" height="9" fill="rgb(0,230,0)" fill-opacity="0.4" stroke="#000" stroke-width="2"/>
<rect x="282.22" y="215.70" width="9" height="9" fill="rgb(0,230,0)" fill-opacity="0.4" stroke="#000" stroke-width="2"/>
<rect x="343.02" y="215.70" width="9" height="9" fill="rgb(0,230,0)" fill-opacity="0.4" stroke="#000" stroke-width="2"/>
<rect x="267.52" y="235.70" width="9" height="9" fill="rgb(0,230,0)" fill-opacity="0.4" stroke="#000" stroke-width="2"/>
<rect x="357.72" y="235.70" width="9" height="9" fill="rgb(0,230,0)" fill-opacity="0.4" stroke="#000" stroke-width="2"/>
<rect x="243.62" y="255.80" width="9" height="9" fill="rgb(0,230,0)" fill-opacity="0.4" stroke="#000" stroke-width="2"/>
<rect x="381.62" y="255.80" width="9" height="9" fill="rgb(0,230,0)" fill-opacity="0.4" stroke="#000" stroke-width="2"/>
</g>
<path d="M245.52,481.20h4M388.72,481.20h-4M245.52,414.39h4M388.72,414.39h-4M245.52,347.57h4M388.72,347.57h-4M245.52,280.76h4M388.72,280.76h-4M245.52,213.94h4M388.72,213.94h-4M245.52,147.13h4M388.72,147.13h-4M245.52,80.31h4M388.72,80.31h-4M245.52,13.50h4M388.72,13.50h-4M281.32,13.50v4M281.32,481.20v-4M317.12,13.50v4M317.12,481.20v-4M352.92,13.50v4M352.92,481.20v-4" stroke="#222" stroke-width="1" fill="none"/>
<rect x="245.50" y="13.50" width="143.00" height="468.00" fill="none" stroke="#000" stroke-width="1.2"/>
<g clip-path="url(#c2)">
<rect x="419.59" y="364.21" width="139.20" height="83.66" fill="rgb(191,223,191)"/>
<rect x="419.59" y="289.84" width="139.20" height="65.84" fill="rgb(191,223,191)"/>
<rect x="419.59" y="233.37" width="139.20" height="7.91" fill="rgb(191,223,191)"/>
<path d="M417.6,447.9L417.9,447.9L418.2,447.9L418.6,447.9L418.9,447.9L419.2,447.9L419.5,447.9L419.8,447.9L420.2,447.9L420.5,447.9L420.8,447.9L421.1,447.9L421.5,447.9L421.8,447.9L422.1,447.9L422.4,447.9L422.8,447.9L423.1,447.9L423.4,447.9L423.7,447.9L424.0,447.9L424.4,447.9L424.7,447.9L425.0,447.9L425.3,447.9L425.7,447.9L426.0,447.9L426.3,447.9L426.6,447.9L427.0,447.9L427.3,447.9L427.6,447.9L427.9,447.9L428.2,447.9L428.6,447.9L428.9,447.9L429.2,447.9L429.5,447.9L429.9,447.9L430.2,447.9L430.5,447.9L430.8,447.9L431.2,447.9L431.5,447.9L431.8,447.9L432.1,447.9L432.4,447.9L432.8,447.9L433.1,448.0L433.4,448.0L433.7,448.0L434.1,448.0L434.4,448.0L434.7,448.0L435.0,448.0L435.4,448.0L435.7,448.0L436.0,448.0L436.3,448.0L436.7,448.0L437.0,448.0L437.3,448.0L437.6,448.0L438.0,448.0L438.3,448.0L438.6,448.0L438.9,448.0L439.3,448.0L439.6,448.0L439.9,448.0L440.2,448.0L440.6,448.0L440.9,448.0L441.2,448.1L441.5,448.1L441.8,448.1L442.2,448.1L442.5,448.1L442.8,448.1L443.1,448.1L443.5,448.1L443.8,448.1L444.1,448.1L444.5,448.1L444.8,448.1L445.1,448.1L445.4,448.1L445.8,448.1L446.1,448.1L446.4,448.1L446.7,448.1L447.1,448.1L447.4,448.1L447.7,448.2L448.0,448.2L448.4,448.2L448.7,448.2L449.0,448.2L449.3,448.2L449.7,448.2L450.0,448.2L450.3,448.2L450.6,448.2L451.0,448.2L451.3,448.2L451.6,448.2L451.9,448.2L452.3,448.2L452.6,448.2L452.9,448.2L453.3,448.2L453.6,448.2L453.9,448.3L454.2,448.3L454.6,448.3L454.9,448.3L455.2,448.3L455.5,448.3L455.9,448.3L456.2,448.3L456.5,448.3L456.9,448.3L457.2,448.3L457.5,448.3L457.8,448.3L458.2,448.3L458.5,448.3L458.8,448.3L459.2,448.3L459.5,448.3L459.8,448.3L460.1,448.4L460.5,448.4L460.8,448.4L461.1,448.4L461.4,448.4L461.8,448.4L462.1,448.4L462.4,448.4L462.8,448.4L463.1,448.4L463.4,448.4L463.8,448.4L464.1,448.4L464.4,448.4L464.7,448.4L465.1,448.4L465.4,448.4L465.7,448.4L466.1,448.4L466.4,448.4L466.7,448.4L467.0,448.5L467.4,448.5L467.7,448.5L468.0,448.5L468.4,448.5L468.7,448.5L469.0,448.5L469.3,448.5L469.7,448.5L470.0,448.5L470.3,448.5L470.7,448.5L471.0,448.5L471.3,448.5L471.7,448.5L472.0,448.5L472.3,448.5L472.6,448.5L473.0,448.5L473.3,448.5L473.6,448.5L474.0,448.5L474.3,448.5L474.6,448.5L475.0,448.5L475.3,448.5L475.6,448.5L476.0,448.5L476.3,448.6L476.6,448.6L476.9,448.6L477.3,448.6L477.6,448.6L477.9,448.6L478.3,448.6L478.6,448.6L478.9,448.6L479.3,448.6L479.6,448.6L479.9,448.6L480.3,448.6L480.6,448.6L480.9,448.6L481.2,448.6L481.6,448.6L481.9,448.6L482.2,448.6L482.6,448.6L482.9,448.6L483.2,448.6L483.6,448.6L483.9,448.6L484.2,448.6L484.6,448.6L484.9,448.6L485.2,448.6L485.5,448.6L485.9,448.6L486.2,448.6L486.5,448.6L486.9,448.6L487.2,448.6L487.5,448.6L487.9,448.6L488.2,448.6L488.5,448.6L488.9,448.6L489.2,448.6L489.5,448.6L489.9,448.6L490.2,448.6L490.5,448.6L490.8,448.6L491.2,448.6L491.5,448.6L491.8,448.6L492.2,448.6L492.5,448.6L492.8,448.6L493.2,448.6L493.5,448.6L493.8,448.6L494.2,448.6L494.5,448.6L494.8,448.6L495.2,448.6L495.5,448.6L495.8,448.6L496.1,448.6L496.5,448.6L496.8,448.6L497.1,448.6L497.5,448.6L497.8,448.6L498.1,448.6L498.5,448.6L498.8,448.6L499.1,448.6L499.5,448.6L499.8,448.6L500.1,448.6L500.4,448.6L500.8,448.6L501.1,448.6L501.4,448.6L501.8,448.6L502.1,448.6L502.4,448.5L502.8,448.5L503.1,448.5L503.4,448.5L503.8,448.5L504.1,448.5L504.4,448.5L504.7,448.5L505.1,448.5L505.4,448.5L505.7,448.5L506.1,448.5L506.4,448.5L506.7,448.5L507.1,448.5L507.4,448.5L507.7,448.5L508.0,448.5L508.4,448.5L508.7,448.5L509.0,448.5L509.4,448.5L509.7,448.5L510.0,448.5L510.3,448.5L510.7,448.5L511.0,448.5L511.3,448.5L511.7,448.4L512.0,448.4L512.3,448.4L512.7,448.4L513.0,448.4L513.3,448.4L513.6,448.4L514.0,448.4L514.3,448.4L514.6,448.4L515.0,448.4L515.3,448.4L515.6,448.4L515.9,448.4L516.3,448.4L516.6,448.4L516.9,448.4L517.3,448.4L517.6,448.4L517.9,448.4L518.2,448.4L518.6,448.3L518.9,448.3L519.2,448.3L519.6,448.3L519.9,448.3L520.2,448.3L520.5,448.3L520.9,448.3L521.2,448.3L521.5,448.3L521.9,448.3L522.2,448.3L522.5,448.3L522.8,448.3L523.2,448.3L523.5,448.3L523.8,448.3L524.1,448.3L524.5,448.3L524.8,448.2L525.1,448.2L525.5,448.2L525.8,448.2L526.1,448.2L526.4,448.2L526.8,448.2L527.1,448.2L527.4,448.2L527.7,448.2L528.1,448.2L528.4,448.2L528.7,448.2L529.0,448.2L529.4,448.2L529.7,448.2L530.0,448.2L530.3,448.2L530.7,448.2L531.0,448.1L531.3,448.1L531.7,448.1L532.0,448.1L532.3,448.1L532.6,448.1L533.0,448.1L533.3,448.1L533.6,448.1L533.9,448.1L534.3,448.1L534.6,448.1L534.9,448.1L535.2,448.1L535.6,448.1L535.9,448.1L536.2,448.1L536.5,448.1L536.9,448.1L537.2,448.1L537.5,448.0L537.8,448.0L538.2,448.0L538.5,448.0L538.8,448.0L539.1,448.0L539.5,448.0L539.8,448.0L540.1,448.0L540.4,448.0L540.8,448.0L541.1,448.0L541.4,448.0L541.7,448.0L542.0,448.0L542.4,448.0L542.7,448.0L543.0,448.0L543.3,448.0L543.7,448.0L544.0,448.0L544.3,448.0L544.6,448.0L545.0,448.0L545.3,448.0L545.6,447.9L545.9,447.9L546.3,447.9L546.6,447.9L546.9,447.9L547.2,447.9L547.6,447.9L547.9,447.9L548.2,447.9L548.5,447.9L548.8,447.9L549.2,447.9L549.5,447.9L549.8,447.9L550.1,447.9L550.5,447.9L550.8,447.9L551.1,447.9L551.4,447.9L551.8,447.9L552.1,447.9L552.4,447.9L552.7,447.9L553.0,447.9L553.4,447.9L553.7,447.9L554.0,447.9L554.3,447.9L554.7,447.9L555.0,447.9L555.3,447.9L555.6,447.9L555.9,447.9L556.3,447.9L556.6,447.9L556.9,447.9L557.2,447.9L557.6,447.9L557.9,447.9L558.2,447.9L558.5,447.9L558.9,447.9L559.2,447.9L559.5,447.9L559.8,447.9L560.1,447.9L560.5,447.9L560.8,447.9" fill="none" stroke="#fff" stroke-width="3.60" stroke-linejoin="round"/>
<path d="M417.6,364.2L417.9,364.2L418.3,364.2L418.7,364.2L419.0,364.2L419.4,364.2L419.7,364.2L420.1,364.2L420.4,364.2L420.8,364.2L421.2,364.2L421.5,364.2L421.9,364.1L422.2,364.1L422.6,364.1L422.9,364.1L423.3,364.1L423.7,364.1L424.0,364.1L424.4,364.1L424.7,364.0L425.1,364.0L425.4,364.0L425.8,364.0L426.1,364.0L426.5,363.9L426.8,363.9L427.2,363.9L427.6,363.9L427.9,363.8L428.3,363.8L428.6,363.8L429.0,363.8L429.3,363.7L429.7,363.7L430.0,363.7L430.4,363.7L430.7,363.6L431.1,363.6L431.4,363.6L431.8,363.5L432.2,363.5L432.5,363.5L432.9,363.4L433.2,363.4L433.6,363.4L433.9,363.3L434.3,363.3L434.6,363.2L435.0,363.2L435.3,363.2L435.7,363.1L436.0,363.1L436.4,363.0L436.7,363.0L437.1,363.0L437.4,362.9L437.8,362.9L438.1,362.8L438.5,362.8L438.8,362.7L439.1,362.7L439.5,362.6L439.8,362.6L440.2,362.5L440.5,362.5L440.9,362.4L441.2,362.4L441.6,362.3L441.9,362.3L442.3,362.2L442.6,362.2L442.9,362.1L443.3,362.1L443.6,362.0L444.0,362.0L444.3,361.9L444.7,361.9L445.0,361.8L445.3,361.8L445.7,361.7L446.0,361.6L446.4,361.6L446.7,361.5L447.0,361.5L447.4,361.4L447.7,361.4L448.0,361.3L448.4,361.2L448.7,361.2L449.1,361.1L449.4,361.1L449.7,361.0L450.1,360.9L450.4,360.9L450.7,360.8L451.1,360.8L451.4,360.7L451.7,360.6L452.1,360.6L452.4,360.5L452.7,360.5L453.1,360.4L453.4,360.3L453.7,360.3L454.1,360.2L454.4,360.2L454.7,360.1L455.0,360.0L455.4,360.0L455.7,359.9L456.0,359.9L456.4,359.8L456.7,359.7L457.0,359.7L457.3,359.6L457.7,359.5L458.0,359.5L458.3,359.4L458.6,359.4L459.0,359.3L459.3,359.2L459.6,359.2L459.9,359.1L460.2,359.1L460.6,359.0L460.9,358.9L461.2,358.9L461.5,358.8L461.8,358.8L462.2,358.7L462.5,358.7L462.8,358.6L463.1,358.5L463.4,358.5L463.8,358.4L464.1,358.4L464.4,358.3L464.7,358.3L465.0,358.2L465.3,358.1L465.6,358.1L466.0,358.0L466.3,358.0L466.6,357.9L466.9,357.9L467.2,357.8L467.5,357.8L467.8,357.7L468.1,357.7L468.5,357.6L468.8,357.6L469.1,357.5L469.4,357.5L469.7,357.4L470.0,357.4L470.3,357.3L470.6,357.3L470.9,357.2L471.2,357.2L471.5,357.1L471.8,357.1L472.2,357.0L472.5,357.0L472.8,356.9L473.1,356.9L473.4,356.9L473.7,356.8L474.0,356.8L474.3,356.7L474.6,356.7L474.9,356.7L475.2,356.6L475.5,356.6L475.8,356.5L476.1,356.5L476.4,356.5L476.7,356.4L477.0,356.4L477.3,356.4L477.6,356.3L477.9,356.3L478.2,356.3L478.5,356.2L478.8,356.2L479.1,356.2L479.4,356.2L479.7,356.1L480.0,356.1L480.3,356.1L480.6,356.0L480.9,356.0L481.2,356.0L481.5,356.0L481.8,356.0L482.1,355.9L482.4,355.9L482.7,355.9L483.0,355.9L483.3,355.9L483.6,355.8L483.9,355.8L484.2,355.8L484.5,355.8L484.8,355.8L485.1,355.8L485.3,355.8L485.6,355.7L485.9,355.7L486.2,355.7L486.5,355.7L486.8,355.7L487.1,355.7L487.4,355.7L487.7,355.7L488.0,355.7L488.3,355.7L488.6,355.7L488.9,355.7L489.2,355.7L489.5,355.7L489.8,355.7L490.1,355.7L490.4,355.7L490.7,355.7L491.0,355.7L491.3,355.7L491.6,355.7L491.8,355.7L492.1,355.7L492.4,355.7L492.7,355.7L493.0,355.8L493.3,355.8L493.6,355.8L493.9,355.8L494.2,355.8L494.5,355.8L494.8,355.8L495.1,355.9L495.4,355.9L495.7,355.9L496.0,355.9L496.3,355.9L496.6,356.0L496.9,356.0L497.2,356.0L497.5,356.0L497.8,356.0L498.1,356.1L498.4,356.1L498.7,356.1L499.0,356.2L499.3,356.2L499.6,356.2L499.9,356.2L500.2,356.3L500.5,356.3L500.8,356.3L501.1,356.4L501.4,356.4L501.7,356.4L502.0,356.5L502.3,356.5L502.6,356.5L502.9,356.6L503.2,356.6L503.5,356.7L503.8,356.7L504.1,356.7L504.4,356.8L504.7,356.8L505.0,356.9L505.3,356.9L505.6,356.9L505.9,357.0L506.2,357.0L506.5,357.1L506.8,357.1L507.1,357.2L507.5,357.2L507.8,357.3L508.1,357.3L508.4,357.4L508.7,357.4L509.0,357.5L509.3,357.5L509.6,357.6L509.9,357.6L510.2,357.7L510.5,357.7L510.9,357.8L511.2,357.8L511.5,357.9L511.8,357.9L512.1,358.0L512.4,358.0L512.7,358.1L513.0,358.1L513.4,358.2L513.7,358.3L514.0,358.3L514.3,358.4L514.6,358.4L514.9,358.5L515.3,358.5L515.6,358.6L515.9,358.7L516.2,358.7L516.5,358.8L516.9,358.8L517.2,358.9L517.5,358.9L517.8,359.0L518.1,359.1L518.5,359.1L518.8,359.2L519.1,359.2L519.4,359.3L519.8,359.4L520.1,359.4L520.4,359.5L520.7,359.5L521.0,359.6L521.4,359.7L521.7,359.7L522.0,359.8L522.4,359.9L522.7,359.9L523.0,360.0L523.3,360.0L523.7,360.1L524.0,360.2L524.3,360.2L524.7,360.3L525.0,360.3L525.3,360.4L525.6,360.5L526.0,360.5L526.3,360.6L526.6,360.6L527.0,360.7L527.3,360.8L527.6,360.8L528.0,360.9L528.3,360.9L528.7,361.0L529.0,361.1L529.3,361.1L529.7,361.2L530.0,361.2L530.3,361.3L530.7,361.4L531.0,361.4L531.3,361.5L531.7,361.5L532.0,361.6L532.4,361.6L532.7,361.7L533.0,361.8L533.4,361.8L533.7,361.9L534.1,361.9L534.4,362.0L534.8,362.0L535.1,362.1L535.4,362.1L535.8,362.2L536.1,362.2L536.5,362.3L536.8,362.3L537.2,362.4L537.5,362.4L537.8,362.5L538.2,362.5L538.5,362.6L538.9,362.6L539.2,362.7L539.6,362.7L539.9,362.8L540.3,362.8L540.6,362.9L541.0,362.9L541.3,363.0L541.7,363.0L542.0,363.0L542.4,363.1L542.7,363.1L543.1,363.2L543.4,363.2L543.8,363.2L544.1,363.3L544.5,363.3L544.8,363.4L545.2,363.4L545.5,363.4L545.9,363.5L546.2,363.5L546.6,363.5L546.9,363.6L547.3,363.6L547.6,363.6L548.0,363.7L548.3,363.7L548.7,363.7L549.1,363.7L549.4,363.8L549.8,363.8L550.1,363.8L550.5,363.8L550.8,363.9L551.2,363.9L551.5,363.9L551.9,363.9L552.2,364.0L552.6,364.0L553.0,364.0L553.3,364.0L553.7,364.0L554.0,364.1L554.4,364.1L554.7,364.1L555.1,364.1L555.4,364.1L555.8,364.1L556.2,364.1L556.5,364.1L556.9,364.2L557.2,364.2L557.6,364.2L557.9,364.2L558.3,364.2L558.6,364.2L559.0,364.2L559.4,364.2L559.7,364.2L560.1,364.2L560.4,364.2L560.8,364.2" fill="none" stroke="#fff" stroke-width="3.60" stroke-linejoin="round"/>
<path d="M417.6,241.3L417.7,241.3L417.8,241.3L417.9,241.3L418.1,241.3L418.2,241.3L418.3,241.4L418.4,241.4L418.5,241.4L418.7,241.5L418.8,241.5L418.9,241.6L419.0,241.6L419.1,241.7L419.3,241.8L419.4,241.8L419.5,241.9L419.7,242.0L419.8,242.1L419.9,242.2L420.1,242.3L420.2,242.4L420.3,242.5L420.5,242.6L420.6,242.7L420.8,242.8L420.9,243.0L421.1,243.1L421.2,243.2L421.4,243.4L421.5,243.5L421.7,243.6L421.9,243.8L422.0,244.0L422.2,244.1L422.4,244.3L422.6,244.5L422.7,244.6L422.9,244.8L423.1,245.0L423.3,245.2L423.5,245.4L423.7,245.6L423.9,245.8L424.1,246.0L424.3,246.2L424.5,246.4L424.7,246.6L424.9,246.8L425.1,247.0L425.3,247.3L425.5,247.5L425.7,247.7L426.0,248.0L426.2,248.2L426.4,248.5L426.7,248.7L426.9,249.0L427.1,249.2L427.4,249.5L427.6,249.7L427.9,250.0L428.1,250.3L428.4,250.5L428.7,250.8L428.9,251.1L429.2,251.4L429.4,251.7L429.7,251.9L430.0,252.2L430.3,252.5L430.5,252.8L430.8,253.1L431.1,253.4L431.4,253.7L431.7,254.0L432.0,254.3L432.3,254.7L432.6,255.0L432.9,255.3L433.2,255.6L433.5,255.9L433.8,256.2L434.1,256.6L434.4,256.9L434.7,257.2L435.1,257.5L435.4,257.9L435.7,258.2L436.0,258.5L436.4,258.9L436.7,259.2L437.0,259.5L437.4,259.9L437.7,260.2L438.1,260.6L438.4,260.9L438.8,261.2L439.1,261.6L439.5,261.9L439.8,262.3L440.2,262.6L440.5,263.0L440.9,263.3L441.2,263.7L441.6,264.0L442.0,264.3L442.3,264.7L442.7,265.0L443.1,265.4L443.5,265.7L443.8,266.1L444.2,266.4L444.6,266.8L445.0,267.1L445.4,267.5L445.7,267.8L446.1,268.2L446.5,268.5L446.9,268.9L447.3,269.2L447.7,269.6L448.1,269.9L448.5,270.2L448.9,270.6L449.3,270.9L449.7,271.3L450.1,271.6L450.5,271.9L450.9,272.3L451.3,272.6L451.7,272.9L452.1,273.3L452.5,273.6L452.9,273.9L453.3,274.2L453.7,274.6L454.1,274.9L454.5,275.2L455.0,275.5L455.4,275.9L455.8,276.2L456.2,276.5L456.6,276.8L457.0,277.1L457.5,277.4L457.9,277.7L458.3,278.0L458.7,278.3L459.1,278.6L459.6,278.9L460.0,279.2L460.4,279.5L460.8,279.8L461.2,280.0L461.7,280.3L462.1,280.6L462.5,280.9L462.9,281.1L463.4,281.4L463.8,281.7L464.2,281.9L464.7,282.2L465.1,282.4L465.5,282.7L465.9,282.9L466.4,283.2L466.8,283.4L467.2,283.6L467.7,283.9L468.1,284.1L468.5,284.3L468.9,284.5L469.4,284.7L469.8,285.0L470.2,285.2L470.7,285.4L471.1,285.6L471.5,285.8L472.0,286.0L472.4,286.1L472.8,286.3L473.3,286.5L473.7,286.7L474.1,286.8L474.5,287.0L475.0,287.2L475.4,287.3L475.8,287.5L476.3,287.6L476.7,287.8L477.1,287.9L477.6,288.0L478.0,288.2L478.4,288.3L478.9,288.4L479.3,288.5L479.7,288.6L480.1,288.8L480.6,288.9L481.0,288.9L481.4,289.0L481.9,289.1L482.3,289.2L482.7,289.3L483.2,289.4L483.6,289.4L484.0,289.5L484.5,289.5L484.9,289.6L485.3,289.6L485.7,289.7L486.2,289.7L486.6,289.8L487.0,289.8L487.5,289.8L487.9,289.8L488.3,289.8L488.8,289.8L489.2,289.8L489.6,289.8L490.1,289.8L490.5,289.8L490.9,289.8L491.3,289.8L491.8,289.8L492.2,289.7L492.6,289.7L493.1,289.6L493.5,289.6L493.9,289.5L494.4,289.5L494.8,289.4L495.2,289.4L495.6,289.3L496.1,289.2L496.5,289.1L496.9,289.0L497.4,288.9L497.8,288.9L498.2,288.8L498.7,288.6L499.1,288.5L499.5,288.4L500.0,288.3L500.4,288.2L500.8,288.0L501.2,287.9L501.7,287.8L502.1,287.6L502.5,287.5L503.0,287.3L503.4,287.2L503.8,287.0L504.3,286.8L504.7,286.7L505.1,286.5L505.6,286.3L506.0,286.1L506.4,286.0L506.9,285.8L507.3,285.6L507.7,285.4L508.1,285.2L508.6,285.0L509.0,284.7L509.4,284.5L509.9,284.3L510.3,284.1L510.7,283.9L511.2,283.6L511.6,283.4L512.0,283.2L512.4,282.9L512.9,282.7L513.3,282.4L513.7,282.2L514.2,281.9L514.6,281.7L515.0,281.4L515.4,281.1L515.9,280.9L516.3,280.6L516.7,280.3L517.1,280.0L517.6,279.8L518.0,279.5L518.4,279.2L518.8,278.9L519.2,278.6L519.7,278.3L520.1,278.0L520.5,277.7L520.9,277.4L521.3,277.1L521.8,276.8L522.2,276.5L522.6,276.2L523.0,275.9L523.4,275.5L523.8,275.2L524.3,274.9L524.7,274.6L525.1,274.2L525.5,273.9L525.9,273.6L526.3,273.3L526.7,272.9L527.1,272.6L527.5,272.3L527.9,271.9L528.3,271.6L528.7,271.3L529.1,270.9L529.5,270.6L529.9,270.2L530.3,269.9L530.7,269.6L531.1,269.2L531.5,268.9L531.9,268.5L532.3,268.2L532.6,267.8L533.0,267.5L533.4,267.1L533.8,266.8L534.2,266.4L534.5,266.1L534.9,265.7L535.3,265.4L535.7,265.0L536.0,264.7L536.4,264.3L536.8,264.0L537.1,263.7L537.5,263.3L537.9,263.0L538.2,262.6L538.6,262.3L538.9,261.9L539.3,261.6L539.6,261.2L540.0,260.9L540.3,260.6L540.7,260.2L541.0,259.9L541.3,259.5L541.7,259.2L542.0,258.9L542.3,258.5L542.7,258.2L543.0,257.9L543.3,257.5L543.6,257.2L543.9,256.9L544.3,256.6L544.6,256.2L544.9,255.9L545.2,255.6L545.5,255.3L545.8,255.0L546.1,254.7L546.4,254.3L546.7,254.0L547.0,253.7L547.3,253.4L547.6,253.1L547.8,252.8L548.1,252.5L548.4,252.2L548.7,251.9L548.9,251.7L549.2,251.4L549.5,251.1L549.7,250.8L550.0,250.5L550.2,250.3L550.5,250.0L550.7,249.7L551.0,249.5L551.2,249.2L551.5,249.0L551.7,248.7L551.9,248.5L552.2,248.2L552.4,248.0L552.6,247.7L552.9,247.5L553.1,247.3L553.3,247.0L553.5,246.8L553.7,246.6L553.9,246.4L554.1,246.2L554.3,246.0L554.5,245.8L554.7,245.6L554.9,245.4L555.1,245.2L555.3,245.0L555.5,244.8L555.7,244.6L555.8,244.5L556.0,244.3L556.2,244.1L556.3,244.0L556.5,243.8L556.7,243.6L556.8,243.5L557.0,243.4L557.2,243.2L557.3,243.1L557.5,243.0L557.6,242.8L557.8,242.7L557.9,242.6L558.0,242.5L558.2,242.4L558.3,242.3L558.5,242.2L558.6,242.1L558.7,242.0L558.9,241.9L559.0,241.8L559.1,241.8L559.2,241.7L559.4,241.6L559.5,241.6L559.6,241.5L559.7,241.5L559.8,241.4L560.0,241.4L560.1,241.4L560.2,241.3L560.3,241.3L560.4,241.3L560.6,241.3L560.7,241.3L560.8,241.3" fill="none" stroke="#fff" stroke-width="3.60" stroke-linejoin="round"/>
<path d="M417.6,233.4L417.7,233.4L417.9,233.4L418.1,233.3L418.2,233.3L418.4,233.3L418.6,233.2L418.7,233.1L418.9,233.1L419.1,233.0L419.2,232.9L419.4,232.8L419.6,232.7L419.7,232.6L419.9,232.4L420.1,232.3L420.3,232.1L420.5,232.0L420.7,231.8L420.9,231.6L421.1,231.4L421.3,231.2L421.5,231.0L421.7,230.8L422.0,230.6L422.2,230.4L422.4,230.1L422.7,229.9L422.9,229.6L423.1,229.3L423.4,229.1L423.6,228.8L423.9,228.5L424.2,228.2L424.4,227.9L424.7,227.5L425.0,227.2L425.3,226.9L425.6,226.5L425.9,226.2L426.2,225.8L426.5,225.4L426.8,225.0L427.1,224.7L427.4,224.3L427.7,223.9L428.1,223.4L428.4,223.0L428.7,222.6L429.1,222.2L429.4,221.7L429.8,221.3L430.1,220.8L430.5,220.3L430.9,219.9L431.2,219.4L431.6,218.9L432.0,218.4L432.3,217.9L432.7,217.4L433.1,216.9L433.5,216.4L433.9,215.9L434.3,215.3L434.7,214.8L435.1,214.3L435.5,213.7L435.9,213.1L436.3,212.6L436.7,212.0L437.1,211.5L437.6,210.9L438.0,210.3L438.4,209.7L438.8,209.1L439.3,208.5L439.7,207.9L440.1,207.3L440.6,206.7L441.0,206.1L441.4,205.5L441.9,204.9L442.3,204.2L442.8,203.6L443.2,203.0L443.6,202.3L444.1,201.7L444.5,201.1L445.0,200.4L445.4,199.8L445.9,199.1L446.3,198.5L446.8,197.8L447.3,197.2L447.7,196.5L448.2,195.8L448.6,195.2L449.1,194.5L449.5,193.8L450.0,193.2L450.4,192.5L450.9,191.8L451.3,191.1L451.8,190.5L452.3,189.8L452.7,189.1L453.2,188.4L453.6,187.8L454.1,187.1L454.5,186.4L455.0,185.7L455.4,185.0L455.9,184.4L456.3,183.7L456.8,183.0L457.2,182.3L457.6,181.6L458.1,181.0L458.5,180.3L459.0,179.6L459.4,179.0L459.8,178.3L460.3,177.6L460.7,176.9L461.1,176.3L461.6,175.6L462.0,175.0L462.4,174.3L462.9,173.6L463.3,173.0L463.7,172.3L464.1,171.7L464.5,171.0L464.9,170.4L465.3,169.8L465.8,169.1L466.2,168.5L466.6,167.9L467.0,167.2L467.4,166.6L467.8,166.0L468.1,165.4L468.5,164.8L468.9,164.2L469.3,163.6L469.7,163.0L470.1,162.4L470.4,161.8L470.8,161.2L471.2,160.7L471.5,160.1L471.9,159.5L472.3,159.0L472.6,158.4L473.0,157.9L473.3,157.3L473.7,156.8L474.0,156.2L474.3,155.7L474.7,155.2L475.0,154.7L475.3,154.2L475.7,153.7L476.0,153.2L476.3,152.7L476.6,152.2L476.9,151.8L477.2,151.3L477.5,150.8L477.8,150.4L478.1,150.0L478.4,149.5L478.7,149.1L479.0,148.7L479.3,148.3L479.6,147.9L479.8,147.5L480.1,147.1L480.4,146.7L480.7,146.3L480.9,145.9L481.2,145.6L481.4,145.2L481.7,144.9L481.9,144.6L482.2,144.3L482.4,143.9L482.7,143.6L482.9,143.3L483.1,143.0L483.4,142.8L483.6,142.5L483.8,142.2L484.1,142.0L484.3,141.7L484.5,141.5L484.7,141.3L484.9,141.1L485.1,140.9L485.3,140.7L485.5,140.5L485.7,140.3L486.0,140.1L486.2,140.0L486.4,139.8L486.5,139.7L486.7,139.6L486.9,139.4L487.1,139.3L487.3,139.2L487.5,139.1L487.7,139.0L487.9,139.0L488.1,138.9L488.3,138.9L488.4,138.8L488.6,138.8L488.8,138.8L489.0,138.7L489.2,138.7L489.4,138.7L489.6,138.8L489.7,138.8L489.9,138.8L490.1,138.9L490.3,138.9L490.5,139.0L490.7,139.0L490.9,139.1L491.1,139.2L491.2,139.3L491.4,139.4L491.6,139.6L491.8,139.7L492.0,139.8L492.2,140.0L492.4,140.1L492.6,140.3L492.8,140.5L493.0,140.7L493.3,140.9L493.5,141.1L493.7,141.3L493.9,141.5L494.1,141.7L494.3,142.0L494.6,142.2L494.8,142.5L495.0,142.8L495.2,143.0L495.5,143.3L495.7,143.6L496.0,143.9L496.2,144.3L496.4,144.6L496.7,144.9L496.9,145.2L497.2,145.6L497.5,145.9L497.7,146.3L498.0,146.7L498.3,147.1L498.5,147.5L498.8,147.9L499.1,148.3L499.4,148.7L499.7,149.1L500.0,149.5L500.2,150.0L500.5,150.4L500.8,150.8L501.1,151.3L501.5,151.8L501.8,152.2L502.1,152.7L502.4,153.2L502.7,153.7L503.0,154.2L503.4,154.7L503.7,155.2L504.0,155.7L504.4,156.2L504.7,156.8L505.1,157.3L505.4,157.9L505.8,158.4L506.1,159.0L506.5,159.5L506.8,160.1L507.2,160.7L507.6,161.2L507.9,161.8L508.3,162.4L508.7,163.0L509.1,163.6L509.5,164.2L509.8,164.8L510.2,165.4L510.6,166.0L511.0,166.6L511.4,167.2L511.8,167.9L512.2,168.5L512.6,169.1L513.0,169.8L513.4,170.4L513.9,171.0L514.3,171.7L514.7,172.3L515.1,173.0L515.5,173.6L515.9,174.3L516.4,175.0L516.8,175.6L517.2,176.3L517.7,176.9L518.1,177.6L518.5,178.3L519.0,179.0L519.4,179.6L519.8,180.3L520.3,181.0L520.7,181.6L521.2,182.3L521.6,183.0L522.1,183.7L522.5,184.4L523.0,185.0L523.4,185.7L523.9,186.4L524.3,187.1L524.8,187.8L525.2,188.4L525.7,189.1L526.1,189.8L526.6,190.5L527.0,191.1L527.5,191.8L527.9,192.5L528.4,193.2L528.9,193.8L529.3,194.5L529.8,195.2L530.2,195.8L530.7,196.5L531.1,197.2L531.6,197.8L532.0,198.5L532.5,199.1L532.9,199.8L533.4,200.4L533.8,201.1L534.3,201.7L534.7,202.3L535.2,203.0L535.6,203.6L536.1,204.2L536.5,204.9L536.9,205.5L537.4,206.1L537.8,206.7L538.3,207.3L538.7,207.9L539.1,208.5L539.6,209.1L540.0,209.7L540.4,210.3L540.8,210.9L541.2,211.5L541.7,212.0L542.1,212.6L542.5,213.1L542.9,213.7L543.3,214.3L543.7,214.8L544.1,215.3L544.5,215.9L544.9,216.4L545.3,216.9L545.7,217.4L546.0,217.9L546.4,218.4L546.8,218.9L547.2,219.4L547.5,219.9L547.9,220.3L548.3,220.8L548.6,221.3L549.0,221.7L549.3,222.2L549.6,222.6L550.0,223.0L550.3,223.4L550.6,223.9L551.0,224.3L551.3,224.7L551.6,225.0L551.9,225.4L552.2,225.8L552.5,226.2L552.8,226.5L553.1,226.9L553.4,227.2L553.7,227.5L553.9,227.9L554.2,228.2L554.5,228.5L554.7,228.8L555.0,229.1L555.2,229.3L555.5,229.6L555.7,229.9L556.0,230.1L556.2,230.4L556.4,230.6L556.6,230.8L556.9,231.0L557.1,231.2L557.3,231.4L557.5,231.6L557.7,231.8L557.9,232.0L558.1,232.1L558.3,232.3L558.4,232.4L558.6,232.6L558.8,232.7L559.0,232.8L559.2,232.9L559.3,233.0L559.5,233.1L559.7,233.1L559.8,233.2L560.0,233.3L560.2,233.3L560.3,233.3L560.5,233.4L560.6,233.4L560.8,233.4" fill="none" stroke="#fff" stroke-width="3.60" stroke-linejoin="round"/>
<path d="M455.09,441.40h13.80v13.80h-13.80zM509.49,441.40h13.80v13.80h-13.80zM443.49,441.40h13.80v13.80h-13.80zM521.09,441.40h13.80v13.80h-13.80zM431.29,441.40h13.80v13.80h-13.80zM533.29,441.40h13.80v13.80h-13.80zM464.84,350.40h13.80v13.80h-13.80zM499.74,350.40h13.80v13.80h-13.80zM452.29,352.60h13.80v13.80h-13.80zM512.29,352.60h13.80v13.80h-13.80zM440.54,354.60h13.80v13.80h-13.80zM524.04,354.60h13.80v13.80h-13.80zM424.89,356.80h13.80v13.80h-13.80zM539.69,356.80h13.80v13.80h-13.80zM477.44,282.40h13.80v13.80h-13.80zM487.14,282.40h13.80v13.80h-13.80zM450.69,270.80h13.80v13.80h-13.80zM513.89,270.80h13.80v13.80h-13.80zM436.29,258.60h13.80v13.80h-13.80zM528.29,258.60h13.80v13.80h-13.80zM424.19,246.60h13.80v13.80h-13.80zM540.39,246.60h13.80v13.80h-13.80zM411.79,234.60h13.80v13.80h-13.80zM552.79,234.60h13.80v13.80h-13.80zM463.54,155.00h13.80v13.80h-13.80zM501.04,155.00h13.80v13.80h-13.80zM448.29,178.00h13.80v13.80h-13.80zM516.29,178.00h13.80v13.80h-13.80zM432.04,201.90h13.80v13.80h-13.80zM532.54,201.90h13.80v13.80h-13.80zM411.79,226.00h13.80v13.80h-13.80zM552.79,226.00h13.80v13.80h-13.80z" fill="#fff"/>
<g>
<path d="M435.49,320.86L442.19,314.16M435.49,328.31L449.64,314.16M435.49,335.76L457.09,314.16M435.49,343.21L464.54,314.16M435.49,350.66L471.29,314.86M435.49,358.11L471.29,322.31M435.49,365.56L471.29,329.76M435.49,373.01L471.29,337.21M435.49,380.46L471.29,344.66M435.49,387.91L471.29,352.11M435.49,395.36L471.29,359.56M435.49,402.81L471.29,367.01M435.49,410.26L471.29,374.46M435.49,417.71L471.29,381.91M435.49,425.16L471.29,389.36M435.49,432.61L471.29,396.81M435.49,440.06L471.29,404.26M435.49,447.51L471.29,411.71M435.49,454.96L471.29,419.16M435.49,462.41L471.29,426.61M435.49,469.86L471.29,434.06M435.49,477.31L471.29,441.51M439.05,481.20L471.29,448.96M446.50,481.20L471.29,456.41M453.95,481.20L471.29,463.86M461.40,481.20L471.29,471.31M468.85,481.20L471.29,478.76" stroke="#959595" stroke-width="0.9" fill="none"/>
</g>
<rect x="435.49" y="314.16" width="35.80" height="167.04" fill="none" stroke="#000" stroke-width="1"/>
<g>
<path d="M507.09,316.31L509.24,314.16M507.09,323.76L516.69,314.16M507.09,331.21L524.14,314.16M507.09,338.66L531.59,314.16M507.09,346.11L539.04,314.16M507.09,353.56L542.89,317.76M507.09,361.01L542.89,325.21M507.09,368.46L542.89,332.66M507.09,375.91L542.89,340.11M507.09,383.36L542.89,347.56M507.09,390.81L542.89,355.01M507.09,398.26L542.89,362.46M507.09,405.71L542.89,369.91M507.09,413.16L542.89,377.36M507.09,420.61L542.89,384.81M507.09,428.06L542.89,392.26M507.09,435.51L542.89,399.71M507.09,442.96L542.89,407.16M507.09,450.41L542.89,414.61M507.09,457.86L542.89,422.06M507.09,465.31L542.89,429.51M507.09,472.76L542.89,436.96M507.09,480.21L542.89,444.41M513.55,481.20L542.89,451.86M521.00,481.20L542.89,459.31M528.45,481.20L542.89,466.76M535.90,481.20L542.89,474.21" stroke="#959595" stroke-width="0.9" fill="none"/>
</g>
<rect x="507.09" y="314.16" width="35.80" height="167.04" fill="none" stroke="#000" stroke-width="1"/>
<path d="M417.6,447.9L417.9,447.9L418.2,447.9L418.6,447.9L418.9,447.9L419.2,447.9L419.5,447.9L419.8,447.9L420.2,447.9L420.5,447.9L420.8,447.9L421.1,447.9L421.5,447.9L421.8,447.9L422.1,447.9L422.4,447.9L422.8,447.9L423.1,447.9L423.4,447.9L423.7,447.9L424.0,447.9L424.4,447.9L424.7,447.9L425.0,447.9L425.3,447.9L425.7,447.9L426.0,447.9L426.3,447.9L426.6,447.9L427.0,447.9L427.3,447.9L427.6,447.9L427.9,447.9L428.2,447.9L428.6,447.9L428.9,447.9L429.2,447.9L429.5,447.9L429.9,447.9L430.2,447.9L430.5,447.9L430.8,447.9L431.2,447.9L431.5,447.9L431.8,447.9L432.1,447.9L432.4,447.9L432.8,447.9L433.1,448.0L433.4,448.0L433.7,448.0L434.1,448.0L434.4,448.0L434.7,448.0L435.0,448.0L435.4,448.0L435.7,448.0L436.0,448.0L436.3,448.0L436.7,448.0L437.0,448.0L437.3,448.0L437.6,448.0L438.0,448.0L438.3,448.0L438.6,448.0L438.9,448.0L439.3,448.0L439.6,448.0L439.9,448.0L440.2,448.0L440.6,448.0L440.9,448.0L441.2,448.1L441.5,448.1L441.8,448.1L442.2,448.1L442.5,448.1L442.8,448.1L443.1,448.1L443.5,448.1L443.8,448.1L444.1,448.1L444.5,448.1L444.8,448.1L445.1,448.1L445.4,448.1L445.8,448.1L446.1,448.1L446.4,448.1L446.7,448.1L447.1,448.1L447.4,448.1L447.7,448.2L448.0,448.2L448.4,448.2L448.7,448.2L449.0,448.2L449.3,448.2L449.7,448.2L450.0,448.2L450.3,448.2L450.6,448.2L451.0,448.2L451.3,448.2L451.6,448.2L451.9,448.2L452.3,448.2L452.6,448.2L452.9,448.2L453.3,448.2L453.6,448.2L453.9,448.3L454.2,448.3L454.6,448.3L454.9,448.3L455.2,448.3L455.5,448.3L455.9,448.3L456.2,448.3L456.5,448.3L456.9,448.3L457.2,448.3L457.5,448.3L457.8,448.3L458.2,448.3L458.5,448.3L458.8,448.3L459.2,448.3L459.5,448.3L459.8,448.3L460.1,448.4L460.5,448.4L460.8,448.4L461.1,448.4L461.4,448.4L461.8,448.4L462.1,448.4L462.4,448.4L462.8,448.4L463.1,448.4L463.4,448.4L463.8,448.4L464.1,448.4L464.4,448.4L464.7,448.4L465.1,448.4L465.4,448.4L465.7,448.4L466.1,448.4L466.4,448.4L466.7,448.4L467.0,448.5L467.4,448.5L467.7,448.5L468.0,448.5L468.4,448.5L468.7,448.5L469.0,448.5L469.3,448.5L469.7,448.5L470.0,448.5L470.3,448.5L470.7,448.5L471.0,448.5L471.3,448.5L471.7,448.5L472.0,448.5L472.3,448.5L472.6,448.5L473.0,448.5L473.3,448.5L473.6,448.5L474.0,448.5L474.3,448.5L474.6,448.5L475.0,448.5L475.3,448.5L475.6,448.5L476.0,448.5L476.3,448.6L476.6,448.6L476.9,448.6L477.3,448.6L477.6,448.6L477.9,448.6L478.3,448.6L478.6,448.6L478.9,448.6L479.3,448.6L479.6,448.6L479.9,448.6L480.3,448.6L480.6,448.6L480.9,448.6L481.2,448.6L481.6,448.6L481.9,448.6L482.2,448.6L482.6,448.6L482.9,448.6L483.2,448.6L483.6,448.6L483.9,448.6L484.2,448.6L484.6,448.6L484.9,448.6L485.2,448.6L485.5,448.6L485.9,448.6L486.2,448.6L486.5,448.6L486.9,448.6L487.2,448.6L487.5,448.6L487.9,448.6L488.2,448.6L488.5,448.6L488.9,448.6L489.2,448.6L489.5,448.6L489.9,448.6L490.2,448.6L490.5,448.6L490.8,448.6L491.2,448.6L491.5,448.6L491.8,448.6L492.2,448.6L492.5,448.6L492.8,448.6L493.2,448.6L493.5,448.6L493.8,448.6L494.2,448.6L494.5,448.6L494.8,448.6L495.2,448.6L495.5,448.6L495.8,448.6L496.1,448.6L496.5,448.6L496.8,448.6L497.1,448.6L497.5,448.6L497.8,448.6L498.1,448.6L498.5,448.6L498.8,448.6L499.1,448.6L499.5,448.6L499.8,448.6L500.1,448.6L500.4,448.6L500.8,448.6L501.1,448.6L501.4,448.6L501.8,448.6L502.1,448.6L502.4,448.5L502.8,448.5L503.1,448.5L503.4,448.5L503.8,448.5L504.1,448.5L504.4,448.5L504.7,448.5L505.1,448.5L505.4,448.5L505.7,448.5L506.1,448.5L506.4,448.5L506.7,448.5L507.1,448.5L507.4,448.5L507.7,448.5L508.0,448.5L508.4,448.5L508.7,448.5L509.0,448.5L509.4,448.5L509.7,448.5L510.0,448.5L510.3,448.5L510.7,448.5L511.0,448.5L511.3,448.5L511.7,448.4L512.0,448.4L512.3,448.4L512.7,448.4L513.0,448.4L513.3,448.4L513.6,448.4L514.0,448.4L514.3,448.4L514.6,448.4L515.0,448.4L515.3,448.4L515.6,448.4L515.9,448.4L516.3,448.4L516.6,448.4L516.9,448.4L517.3,448.4L517.6,448.4L517.9,448.4L518.2,448.4L518.6,448.3L518.9,448.3L519.2,448.3L519.6,448.3L519.9,448.3L520.2,448.3L520.5,448.3L520.9,448.3L521.2,448.3L521.5,448.3L521.9,448.3L522.2,448.3L522.5,448.3L522.8,448.3L523.2,448.3L523.5,448.3L523.8,448.3L524.1,448.3L524.5,448.3L524.8,448.2L525.1,448.2L525.5,448.2L525.8,448.2L526.1,448.2L526.4,448.2L526.8,448.2L527.1,448.2L527.4,448.2L527.7,448.2L528.1,448.2L528.4,448.2L528.7,448.2L529.0,448.2L529.4,448.2L529.7,448.2L530.0,448.2L530.3,448.2L530.7,448.2L531.0,448.1L531.3,448.1L531.7,448.1L532.0,448.1L532.3,448.1L532.6,448.1L533.0,448.1L533.3,448.1L533.6,448.1L533.9,448.1L534.3,448.1L534.6,448.1L534.9,448.1L535.2,448.1L535.6,448.1L535.9,448.1L536.2,448.1L536.5,448.1L536.9,448.1L537.2,448.1L537.5,448.0L537.8,448.0L538.2,448.0L538.5,448.0L538.8,448.0L539.1,448.0L539.5,448.0L539.8,448.0L540.1,448.0L540.4,448.0L540.8,448.0L541.1,448.0L541.4,448.0L541.7,448.0L542.0,448.0L542.4,448.0L542.7,448.0L543.0,448.0L543.3,448.0L543.7,448.0L544.0,448.0L544.3,448.0L544.6,448.0L545.0,448.0L545.3,448.0L545.6,447.9L545.9,447.9L546.3,447.9L546.6,447.9L546.9,447.9L547.2,447.9L547.6,447.9L547.9,447.9L548.2,447.9L548.5,447.9L548.8,447.9L549.2,447.9L549.5,447.9L549.8,447.9L550.1,447.9L550.5,447.9L550.8,447.9L551.1,447.9L551.4,447.9L551.8,447.9L552.1,447.9L552.4,447.9L552.7,447.9L553.0,447.9L553.4,447.9L553.7,447.9L554.0,447.9L554.3,447.9L554.7,447.9L555.0,447.9L555.3,447.9L555.6,447.9L555.9,447.9L556.3,447.9L556.6,447.9L556.9,447.9L557.2,447.9L557.6,447.9L557.9,447.9L558.2,447.9L558.5,447.9L558.9,447.9L559.2,447.9L559.5,447.9L559.8,447.9L560.1,447.9L560.5,447.9L560.8,447.9" fill="none" stroke="#0000b4" stroke-width="2" stroke-linejoin="round"/>
<path d="M417.6,364.2L417.9,364.2L418.3,364.2L418.7,364.2L419.0,364.2L419.4,364.2L419.7,364.2L420.1,364.2L420.4,364.2L420.8,364.2L421.2,364.2L421.5,364.2L421.9,364.1L422.2,364.1L422.6,364.1L422.9,364.1L423.3,364.1L423.7,364.1L424.0,364.1L424.4,364.1L424.7,364.0L425.1,364.0L425.4,364.0L425.8,364.0L426.1,364.0L426.5,363.9L426.8,363.9L427.2,363.9L427.6,363.9L427.9,363.8L428.3,363.8L428.6,363.8L429.0,363.8L429.3,363.7L429.7,363.7L430.0,363.7L430.4,363.7L430.7,363.6L431.1,363.6L431.4,363.6L431.8,363.5L432.2,363.5L432.5,363.5L432.9,363.4L433.2,363.4L433.6,363.4L433.9,363.3L434.3,363.3L434.6,363.2L435.0,363.2L435.3,363.2L435.7,363.1L436.0,363.1L436.4,363.0L436.7,363.0L437.1,363.0L437.4,362.9L437.8,362.9L438.1,362.8L438.5,362.8L438.8,362.7L439.1,362.7L439.5,362.6L439.8,362.6L440.2,362.5L440.5,362.5L440.9,362.4L441.2,362.4L441.6,362.3L441.9,362.3L442.3,362.2L442.6,362.2L442.9,362.1L443.3,362.1L443.6,362.0L444.0,362.0L444.3,361.9L444.7,361.9L445.0,361.8L445.3,361.8L445.7,361.7L446.0,361.6L446.4,361.6L446.7,361.5L447.0,361.5L447.4,361.4L447.7,361.4L448.0,361.3L448.4,361.2L448.7,361.2L449.1,361.1L449.4,361.1L449.7,361.0L450.1,360.9L450.4,360.9L450.7,360.8L451.1,360.8L451.4,360.7L451.7,360.6L452.1,360.6L452.4,360.5L452.7,360.5L453.1,360.4L453.4,360.3L453.7,360.3L454.1,360.2L454.4,360.2L454.7,360.1L455.0,360.0L455.4,360.0L455.7,359.9L456.0,359.9L456.4,359.8L456.7,359.7L457.0,359.7L457.3,359.6L457.7,359.5L458.0,359.5L458.3,359.4L458.6,359.4L459.0,359.3L459.3,359.2L459.6,359.2L459.9,359.1L460.2,359.1L460.6,359.0L460.9,358.9L461.2,358.9L461.5,358.8L461.8,358.8L462.2,358.7L462.5,358.7L462.8,358.6L463.1,358.5L463.4,358.5L463.8,358.4L464.1,358.4L464.4,358.3L464.7,358.3L465.0,358.2L465.3,358.1L465.6,358.1L466.0,358.0L466.3,358.0L466.6,357.9L466.9,357.9L467.2,357.8L467.5,357.8L467.8,357.7L468.1,357.7L468.5,357.6L468.8,357.6L469.1,357.5L469.4,357.5L469.7,357.4L470.0,357.4L470.3,357.3L470.6,357.3L470.9,357.2L471.2,357.2L471.5,357.1L471.8,357.1L472.2,357.0L472.5,357.0L472.8,356.9L473.1,356.9L473.4,356.9L473.7,356.8L474.0,356.8L474.3,356.7L474.6,356.7L474.9,356.7L475.2,356.6L475.5,356.6L475.8,356.5L476.1,356.5L476.4,356.5L476.7,356.4L477.0,356.4L477.3,356.4L477.6,356.3L477.9,356.3L478.2,356.3L478.5,356.2L478.8,356.2L479.1,356.2L479.4,356.2L479.7,356.1L480.0,356.1L480.3,356.1L480.6,356.0L480.9,356.0L481.2,356.0L481.5,356.0L481.8,356.0L482.1,355.9L482.4,355.9L482.7,355.9L483.0,355.9L483.3,355.9L483.6,355.8L483.9,355.8L484.2,355.8L484.5,355.8L484.8,355.8L485.1,355.8L485.3,355.8L485.6,355.7L485.9,355.7L486.2,355.7L486.5,355.7L486.8,355.7L487.1,355.7L487.4,355.7L487.7,355.7L488.0,355.7L488.3,355.7L488.6,355.7L488.9,355.7L489.2,355.7L489.5,355.7L489.8,355.7L490.1,355.7L490.4,355.7L490.7,355.7L491.0,355.7L491.3,355.7L491.6,355.7L491.8,355.7L492.1,355.7L492.4,355.7L492.7,355.7L493.0,355.8L493.3,355.8L493.6,355.8L493.9,355.8L494.2,355.8L494.5,355.8L494.8,355.8L495.1,355.9L495.4,355.9L495.7,355.9L496.0,355.9L496.3,355.9L496.6,356.0L496.9,356.0L497.2,356.0L497.5,356.0L497.8,356.0L498.1,356.1L498.4,356.1L498.7,356.1L499.0,356.2L499.3,356.2L499.6,356.2L499.9,356.2L500.2,356.3L500.5,356.3L500.8,356.3L501.1,356.4L501.4,356.4L501.7,356.4L502.0,356.5L502.3,356.5L502.6,356.5L502.9,356.6L503.2,356.6L503.5,356.7L503.8,356.7L504.1,356.7L504.4,356.8L504.7,356.8L505.0,356.9L505.3,356.9L505.6,356.9L505.9,357.0L506.2,357.0L506.5,357.1L506.8,357.1L507.1,357.2L507.5,357.2L507.8,357.3L508.1,357.3L508.4,357.4L508.7,357.4L509.0,357.5L509.3,357.5L509.6,357.6L509.9,357.6L510.2,357.7L510.5,357.7L510.9,357.8L511.2,357.8L511.5,357.9L511.8,357.9L512.1,358.0L512.4,358.0L512.7,358.1L513.0,358.1L513.4,358.2L513.7,358.3L514.0,358.3L514.3,358.4L514.6,358.4L514.9,358.5L515.3,358.5L515.6,358.6L515.9,358.7L516.2,358.7L516.5,358.8L516.9,358.8L517.2,358.9L517.5,358.9L517.8,359.0L518.1,359.1L518.5,359.1L518.8,359.2L519.1,359.2L519.4,359.3L519.8,359.4L520.1,359.4L520.4,359.5L520.7,359.5L521.0,359.6L521.4,359.7L521.7,359.7L522.0,359.8L522.4,359.9L522.7,359.9L523.0,360.0L523.3,360.0L523.7,360.1L524.0,360.2L524.3,360.2L524.7,360.3L525.0,360.3L525.3,360.4L525.6,360.5L526.0,360.5L526.3,360.6L526.6,360.6L527.0,360.7L527.3,360.8L527.6,360.8L528.0,360.9L528.3,360.9L528.7,361.0L529.0,361.1L529.3,361.1L529.7,361.2L530.0,361.2L530.3,361.3L530.7,361.4L531.0,361.4L531.3,361.5L531.7,361.5L532.0,361.6L532.4,361.6L532.7,361.7L533.0,361.8L533.4,361.8L533.7,361.9L534.1,361.9L534.4,362.0L534.8,362.0L535.1,362.1L535.4,362.1L535.8,362.2L536.1,362.2L536.5,362.3L536.8,362.3L537.2,362.4L537.5,362.4L537.8,362.5L538.2,362.5L538.5,362.6L538.9,362.6L539.2,362.7L539.6,362.7L539.9,362.8L540.3,362.8L540.6,362.9L541.0,362.9L541.3,363.0L541.7,363.0L542.0,363.0L542.4,363.1L542.7,363.1L543.1,363.2L543.4,363.2L543.8,363.2L544.1,363.3L544.5,363.3L544.8,363.4L545.2,363.4L545.5,363.4L545.9,363.5L546.2,363.5L546.6,363.5L546.9,363.6L547.3,363.6L547.6,363.6L548.0,363.7L548.3,363.7L548.7,363.7L549.1,363.7L549.4,363.8L549.8,363.8L550.1,363.8L550.5,363.8L550.8,363.9L551.2,363.9L551.5,363.9L551.9,363.9L552.2,364.0L552.6,364.0L553.0,364.0L553.3,364.0L553.7,364.0L554.0,364.1L554.4,364.1L554.7,364.1L555.1,364.1L555.4,364.1L555.8,364.1L556.2,364.1L556.5,364.1L556.9,364.2L557.2,364.2L557.6,364.2L557.9,364.2L558.3,364.2L558.6,364.2L559.0,364.2L559.4,364.2L559.7,364.2L560.1,364.2L560.4,364.2L560.8,364.2" fill="none" stroke="#c00000" stroke-width="2" stroke-linejoin="round"/>
<path d="M417.6,241.3L417.7,241.3L417.8,241.3L417.9,241.3L418.1,241.3L418.2,241.3L418.3,241.4L418.4,241.4L418.5,241.4L418.7,241.5L418.8,241.5L418.9,241.6L419.0,241.6L419.1,241.7L419.3,241.8L419.4,241.8L419.5,241.9L419.7,242.0L419.8,242.1L419.9,242.2L420.1,242.3L420.2,242.4L420.3,242.5L420.5,242.6L420.6,242.7L420.8,242.8L420.9,243.0L421.1,243.1L421.2,243.2L421.4,243.4L421.5,243.5L421.7,243.6L421.9,243.8L422.0,244.0L422.2,244.1L422.4,244.3L422.6,244.5L422.7,244.6L422.9,244.8L423.1,245.0L423.3,245.2L423.5,245.4L423.7,245.6L423.9,245.8L424.1,246.0L424.3,246.2L424.5,246.4L424.7,246.6L424.9,246.8L425.1,247.0L425.3,247.3L425.5,247.5L425.7,247.7L426.0,248.0L426.2,248.2L426.4,248.5L426.7,248.7L426.9,249.0L427.1,249.2L427.4,249.5L427.6,249.7L427.9,250.0L428.1,250.3L428.4,250.5L428.7,250.8L428.9,251.1L429.2,251.4L429.4,251.7L429.7,251.9L430.0,252.2L430.3,252.5L430.5,252.8L430.8,253.1L431.1,253.4L431.4,253.7L431.7,254.0L432.0,254.3L432.3,254.7L432.6,255.0L432.9,255.3L433.2,255.6L433.5,255.9L433.8,256.2L434.1,256.6L434.4,256.9L434.7,257.2L435.1,257.5L435.4,257.9L435.7,258.2L436.0,258.5L436.4,258.9L436.7,259.2L437.0,259.5L437.4,259.9L437.7,260.2L438.1,260.6L438.4,260.9L438.8,261.2L439.1,261.6L439.5,261.9L439.8,262.3L440.2,262.6L440.5,263.0L440.9,263.3L441.2,263.7L441.6,264.0L442.0,264.3L442.3,264.7L442.7,265.0L443.1,265.4L443.5,265.7L443.8,266.1L444.2,266.4L444.6,266.8L445.0,267.1L445.4,267.5L445.7,267.8L446.1,268.2L446.5,268.5L446.9,268.9L447.3,269.2L447.7,269.6L448.1,269.9L448.5,270.2L448.9,270.6L449.3,270.9L449.7,271.3L450.1,271.6L450.5,271.9L450.9,272.3L451.3,272.6L451.7,272.9L452.1,273.3L452.5,273.6L452.9,273.9L453.3,274.2L453.7,274.6L454.1,274.9L454.5,275.2L455.0,275.5L455.4,275.9L455.8,276.2L456.2,276.5L456.6,276.8L457.0,277.1L457.5,277.4L457.9,277.7L458.3,278.0L458.7,278.3L459.1,278.6L459.6,278.9L460.0,279.2L460.4,279.5L460.8,279.8L461.2,280.0L461.7,280.3L462.1,280.6L462.5,280.9L462.9,281.1L463.4,281.4L463.8,281.7L464.2,281.9L464.7,282.2L465.1,282.4L465.5,282.7L465.9,282.9L466.4,283.2L466.8,283.4L467.2,283.6L467.7,283.9L468.1,284.1L468.5,284.3L468.9,284.5L469.4,284.7L469.8,285.0L470.2,285.2L470.7,285.4L471.1,285.6L471.5,285.8L472.0,286.0L472.4,286.1L472.8,286.3L473.3,286.5L473.7,286.7L474.1,286.8L474.5,287.0L475.0,287.2L475.4,287.3L475.8,287.5L476.3,287.6L476.7,287.8L477.1,287.9L477.6,288.0L478.0,288.2L478.4,288.3L478.9,288.4L479.3,288.5L479.7,288.6L480.1,288.8L480.6,288.9L481.0,288.9L481.4,289.0L481.9,289.1L482.3,289.2L482.7,289.3L483.2,289.4L483.6,289.4L484.0,289.5L484.5,289.5L484.9,289.6L485.3,289.6L485.7,289.7L486.2,289.7L486.6,289.8L487.0,289.8L487.5,289.8L487.9,289.8L488.3,289.8L488.8,289.8L489.2,289.8L489.6,289.8L490.1,289.8L490.5,289.8L490.9,289.8L491.3,289.8L491.8,289.8L492.2,289.7L492.6,289.7L493.1,289.6L493.5,289.6L493.9,289.5L494.4,289.5L494.8,289.4L495.2,289.4L495.6,289.3L496.1,289.2L496.5,289.1L496.9,289.0L497.4,288.9L497.8,288.9L498.2,288.8L498.7,288.6L499.1,288.5L499.5,288.4L500.0,288.3L500.4,288.2L500.8,288.0L501.2,287.9L501.7,287.8L502.1,287.6L502.5,287.5L503.0,287.3L503.4,287.2L503.8,287.0L504.3,286.8L504.7,286.7L505.1,286.5L505.6,286.3L506.0,286.1L506.4,286.0L506.9,285.8L507.3,285.6L507.7,285.4L508.1,285.2L508.6,285.0L509.0,284.7L509.4,284.5L509.9,284.3L510.3,284.1L510.7,283.9L511.2,283.6L511.6,283.4L512.0,283.2L512.4,282.9L512.9,282.7L513.3,282.4L513.7,282.2L514.2,281.9L514.6,281.7L515.0,281.4L515.4,281.1L515.9,280.9L516.3,280.6L516.7,280.3L517.1,280.0L517.6,279.8L518.0,279.5L518.4,279.2L518.8,278.9L519.2,278.6L519.7,278.3L520.1,278.0L520.5,277.7L520.9,277.4L521.3,277.1L521.8,276.8L522.2,276.5L522.6,276.2L523.0,275.9L523.4,275.5L523.8,275.2L524.3,274.9L524.7,274.6L525.1,274.2L525.5,273.9L525.9,273.6L526.3,273.3L526.7,272.9L527.1,272.6L527.5,272.3L527.9,271.9L528.3,271.6L528.7,271.3L529.1,270.9L529.5,270.6L529.9,270.2L530.3,269.9L530.7,269.6L531.1,269.2L531.5,268.9L531.9,268.5L532.3,268.2L532.6,267.8L533.0,267.5L533.4,267.1L533.8,266.8L534.2,266.4L534.5,266.1L534.9,265.7L535.3,265.4L535.7,265.0L536.0,264.7L536.4,264.3L536.8,264.0L537.1,263.7L537.5,263.3L537.9,263.0L538.2,262.6L538.6,262.3L538.9,261.9L539.3,261.6L539.6,261.2L540.0,260.9L540.3,260.6L540.7,260.2L541.0,259.9L541.3,259.5L541.7,259.2L542.0,258.9L542.3,258.5L542.7,258.2L543.0,257.9L543.3,257.5L543.6,257.2L543.9,256.9L544.3,256.6L544.6,256.2L544.9,255.9L545.2,255.6L545.5,255.3L545.8,255.0L546.1,254.7L546.4,254.3L546.7,254.0L547.0,253.7L547.3,253.4L547.6,253.1L547.8,252.8L548.1,252.5L548.4,252.2L548.7,251.9L548.9,251.7L549.2,251.4L549.5,251.1L549.7,250.8L550.0,250.5L550.2,250.3L550.5,250.0L550.7,249.7L551.0,249.5L551.2,249.2L551.5,249.0L551.7,248.7L551.9,248.5L552.2,248.2L552.4,248.0L552.6,247.7L552.9,247.5L553.1,247.3L553.3,247.0L553.5,246.8L553.7,246.6L553.9,246.4L554.1,246.2L554.3,246.0L554.5,245.8L554.7,245.6L554.9,245.4L555.1,245.2L555.3,245.0L555.5,244.8L555.7,244.6L555.8,244.5L556.0,244.3L556.2,244.1L556.3,244.0L556.5,243.8L556.7,243.6L556.8,243.5L557.0,243.4L557.2,243.2L557.3,243.1L557.5,243.0L557.6,242.8L557.8,242.7L557.9,242.6L558.0,242.5L558.2,242.4L558.3,242.3L558.5,242.2L558.6,242.1L558.7,242.0L558.9,241.9L559.0,241.8L559.1,241.8L559.2,241.7L559.4,241.6L559.5,241.6L559.6,241.5L559.7,241.5L559.8,241.4L560.0,241.4L560.1,241.4L560.2,241.3L560.3,241.3L560.4,241.3L560.6,241.3L560.7,241.3L560.8,241.3" fill="none" stroke="#800080" stroke-width="2" stroke-linejoin="round"/>
<path d="M417.6,233.4L417.7,233.4L417.9,233.4L418.1,233.3L418.2,233.3L418.4,233.3L418.6,233.2L418.7,233.1L418.9,233.1L419.1,233.0L419.2,232.9L419.4,232.8L419.6,232.7L419.7,232.6L419.9,232.4L420.1,232.3L420.3,232.1L420.5,232.0L420.7,231.8L420.9,231.6L421.1,231.4L421.3,231.2L421.5,231.0L421.7,230.8L422.0,230.6L422.2,230.4L422.4,230.1L422.7,229.9L422.9,229.6L423.1,229.3L423.4,229.1L423.6,228.8L423.9,228.5L424.2,228.2L424.4,227.9L424.7,227.5L425.0,227.2L425.3,226.9L425.6,226.5L425.9,226.2L426.2,225.8L426.5,225.4L426.8,225.0L427.1,224.7L427.4,224.3L427.7,223.9L428.1,223.4L428.4,223.0L428.7,222.6L429.1,222.2L429.4,221.7L429.8,221.3L430.1,220.8L430.5,220.3L430.9,219.9L431.2,219.4L431.6,218.9L432.0,218.4L432.3,217.9L432.7,217.4L433.1,216.9L433.5,216.4L433.9,215.9L434.3,215.3L434.7,214.8L435.1,214.3L435.5,213.7L435.9,213.1L436.3,212.6L436.7,212.0L437.1,211.5L437.6,210.9L438.0,210.3L438.4,209.7L438.8,209.1L439.3,208.5L439.7,207.9L440.1,207.3L440.6,206.7L441.0,206.1L441.4,205.5L441.9,204.9L442.3,204.2L442.8,203.6L443.2,203.0L443.6,202.3L444.1,201.7L444.5,201.1L445.0,200.4L445.4,199.8L445.9,199.1L446.3,198.5L446.8,197.8L447.3,197.2L447.7,196.5L448.2,195.8L448.6,195.2L449.1,194.5L449.5,193.8L450.0,193.2L450.4,192.5L450.9,191.8L451.3,191.1L451.8,190.5L452.3,189.8L452.7,189.1L453.2,188.4L453.6,187.8L454.1,187.1L454.5,186.4L455.0,185.7L455.4,185.0L455.9,184.4L456.3,183.7L456.8,183.0L457.2,182.3L457.6,181.6L458.1,181.0L458.5,180.3L459.0,179.6L459.4,179.0L459.8,178.3L460.3,177.6L460.7,176.9L461.1,176.3L461.6,175.6L462.0,175.0L462.4,174.3L462.9,173.6L463.3,173.0L463.7,172.3L464.1,171.7L464.5,171.0L464.9,170.4L465.3,169.8L465.8,169.1L466.2,168.5L466.6,167.9L467.0,167.2L467.4,166.6L467.8,166.0L468.1,165.4L468.5,164.8L468.9,164.2L469.3,163.6L469.7,163.0L470.1,162.4L470.4,161.8L470.8,161.2L471.2,160.7L471.5,160.1L471.9,159.5L472.3,159.0L472.6,158.4L473.0,157.9L473.3,157.3L473.7,156.8L474.0,156.2L474.3,155.7L474.7,155.2L475.0,154.7L475.3,154.2L475.7,153.7L476.0,153.2L476.3,152.7L476.6,152.2L476.9,151.8L477.2,151.3L477.5,150.8L477.8,150.4L478.1,150.0L478.4,149.5L478.7,149.1L479.0,148.7L479.3,148.3L479.6,147.9L479.8,147.5L480.1,147.1L480.4,146.7L480.7,146.3L480.9,145.9L481.2,145.6L481.4,145.2L481.7,144.9L481.9,144.6L482.2,144.3L482.4,143.9L482.7,143.6L482.9,143.3L483.1,143.0L483.4,142.8L483.6,142.5L483.8,142.2L484.1,142.0L484.3,141.7L484.5,141.5L484.7,141.3L484.9,141.1L485.1,140.9L485.3,140.7L485.5,140.5L485.7,140.3L486.0,140.1L486.2,140.0L486.4,139.8L486.5,139.7L486.7,139.6L486.9,139.4L487.1,139.3L487.3,139.2L487.5,139.1L487.7,139.0L487.9,139.0L488.1,138.9L488.3,138.9L488.4,138.8L488.6,138.8L488.8,138.8L489.0,138.7L489.2,138.7L489.4,138.7L489.6,138.8L489.7,138.8L489.9,138.8L490.1,138.9L490.3,138.9L490.5,139.0L490.7,139.0L490.9,139.1L491.1,139.2L491.2,139.3L491.4,139.4L491.6,139.6L491.8,139.7L492.0,139.8L492.2,140.0L492.4,140.1L492.6,140.3L492.8,140.5L493.0,140.7L493.3,140.9L493.5,141.1L493.7,141.3L493.9,141.5L494.1,141.7L494.3,142.0L494.6,142.2L494.8,142.5L495.0,142.8L495.2,143.0L495.5,143.3L495.7,143.6L496.0,143.9L496.2,144.3L496.4,144.6L496.7,144.9L496.9,145.2L497.2,145.6L497.5,145.9L497.7,146.3L498.0,146.7L498.3,147.1L498.5,147.5L498.8,147.9L499.1,148.3L499.4,148.7L499.7,149.1L500.0,149.5L500.2,150.0L500.5,150.4L500.8,150.8L501.1,151.3L501.5,151.8L501.8,152.2L502.1,152.7L502.4,153.2L502.7,153.7L503.0,154.2L503.4,154.7L503.7,155.2L504.0,155.7L504.4,156.2L504.7,156.8L505.1,157.3L505.4,157.9L505.8,158.4L506.1,159.0L506.5,159.5L506.8,160.1L507.2,160.7L507.6,161.2L507.9,161.8L508.3,162.4L508.7,163.0L509.1,163.6L509.5,164.2L509.8,164.8L510.2,165.4L510.6,166.0L511.0,166.6L511.4,167.2L511.8,167.9L512.2,168.5L512.6,169.1L513.0,169.8L513.4,170.4L513.9,171.0L514.3,171.7L514.7,172.3L515.1,173.0L515.5,173.6L515.9,174.3L516.4,175.0L516.8,175.6L517.2,176.3L517.7,176.9L518.1,177.6L518.5,178.3L519.0,179.0L519.4,179.6L519.8,180.3L520.3,181.0L520.7,181.6L521.2,182.3L521.6,183.0L522.1,183.7L522.5,184.4L523.0,185.0L523.4,185.7L523.9,186.4L524.3,187.1L524.8,187.8L525.2,188.4L525.7,189.1L526.1,189.8L526.6,190.5L527.0,191.1L527.5,191.8L527.9,192.5L528.4,193.2L528.9,193.8L529.3,194.5L529.8,195.2L530.2,195.8L530.7,196.5L531.1,197.2L531.6,197.8L532.0,198.5L532.5,199.1L532.9,199.8L533.4,200.4L533.8,201.1L534.3,201.7L534.7,202.3L535.2,203.0L535.6,203.6L536.1,204.2L536.5,204.9L536.9,205.5L537.4,206.1L537.8,206.7L538.3,207.3L538.7,207.9L539.1,208.5L539.6,209.1L540.0,209.7L540.4,210.3L540.8,210.9L541.2,211.5L541.7,212.0L542.1,212.6L542.5,213.1L542.9,213.7L543.3,214.3L543.7,214.8L544.1,215.3L544.5,215.9L544.9,216.4L545.3,216.9L545.7,217.4L546.0,217.9L546.4,218.4L546.8,218.9L547.2,219.4L547.5,219.9L547.9,220.3L548.3,220.8L548.6,221.3L549.0,221.7L549.3,222.2L549.6,222.6L550.0,223.0L550.3,223.4L550.6,223.9L551.0,224.3L551.3,224.7L551.6,225.0L551.9,225.4L552.2,225.8L552.5,226.2L552.8,226.5L553.1,226.9L553.4,227.2L553.7,227.5L553.9,227.9L554.2,228.2L554.5,228.5L554.7,228.8L555.0,229.1L555.2,229.3L555.5,229.6L555.7,229.9L556.0,230.1L556.2,230.4L556.4,230.6L556.6,230.8L556.9,231.0L557.1,231.2L557.3,231.4L557.5,231.6L557.7,231.8L557.9,232.0L558.1,232.1L558.3,232.3L558.4,232.4L558.6,232.6L558.8,232.7L559.0,232.8L559.2,232.9L559.3,233.0L559.5,233.1L559.7,233.1L559.8,233.2L560.0,233.3L560.2,233.3L560.3,233.3L560.5,233.4L560.6,233.4L560.8,233.4" fill="none" stroke="#000000" stroke-width="2" stroke-linejoin="round"/>
<rect x="457.49" y="443.80" width="9" height="9" fill="rgb(0,230,0)" fill-opacity="0.4" stroke="#000" stroke-width="2"/>
<rect x="511.89" y="443.80" width="9" height="9" fill="rgb(0,230,0)" fill-opacity="0.4" stroke="#000" stroke-width="2"/>
<rect x="445.89" y="443.80" width="9" height="9" fill="rgb(0,230,0)" fill-opacity="0.4" stroke="#000" stroke-width="2"/>
<rect x="523.49" y="443.80" width="9" height="9" fill="rgb(0,230,0)" fill-opacity="0.4" stroke="#000" stroke-width="2"/>
<rect x="433.69" y="443.80" width="9" height="9" fill="rgb(0,230,0)" fill-opacity="0.4" stroke="#000" stroke-width="2"/>
<rect x="535.69" y="443.80" width="9" height="9" fill="rgb(0,230,0)" fill-opacity="0.4" stroke="#000" stroke-width="2"/>
<rect x="467.24" y="352.80" width="9" height="9" fill="rgb(0,230,0)" fill-opacity="0.4" stroke="#000" stroke-width="2"/>
<rect x="502.14" y="352.80" width="9" height="9" fill="rgb(0,230,0)" fill-opacity="0.4" stroke="#000" stroke-width="2"/>
<rect x="454.69" y="355.00" width="9" height="9" fill="rgb(0,230,0)" fill-opacity="0.4" stroke="#000" stroke-width="2"/>
<rect x="514.69" y="355.00" width="9" height="9" fill="rgb(0,230,0)" fill-opacity="0.4" stroke="#000" stroke-width="2"/>
<rect x="442.94" y="357.00" width="9" height="9" fill="rgb(0,230,0)" fill-opacity="0.4" stroke="#000" stroke-width="2"/>
<rect x="526.44" y="357.00" width="9" height="9" fill="rgb(0,230,0)" fill-opacity="0.4" stroke="#000" stroke-width="2"/>
<rect x="427.29" y="359.20" width="9" height="9" fill="rgb(0,230,0)" fill-opacity="0.4" stroke="#000" stroke-width="2"/>
<rect x="542.09" y="359.20" width="9" height="9" fill="rgb(0,230,0)" fill-opacity="0.4" stroke="#000" stroke-width="2"/>
<rect x="479.84" y="284.80" width="9" height="9" fill="rgb(0,230,0)" fill-opacity="0.4" stroke="#000" stroke-width="2"/>
<rect x="489.54" y="284.80" width="9" height="9" fill="rgb(0,230,0)" fill-opacity="0.4" stroke="#000" stroke-width="2"/>
<rect x="453.09" y="273.20" width="9" height="9" fill="rgb(0,230,0)" fill-opacity="0.4" stroke="#000" stroke-width="2"/>
<rect x="516.29" y="273.20" width="9" height="9" fill="rgb(0,230,0)" fill-opacity="0.4" stroke="#000" stroke-width="2"/>
<rect x="438.69" y="261.00" width="9" height="9" fill="rgb(0,230,0)" fill-opacity="0.4" stroke="#000" stroke-width="2"/>
<rect x="530.69" y="261.00" width="9" height="9" fill="rgb(0,230,0)" fill-opacity="0.4" stroke="#000" stroke-width="2"/>
<rect x="426.59" y="249.00" width="9" height="9" fill="rgb(0,230,0)" fill-opacity="0.4" stroke="#000" stroke-width="2"/>
<rect x="542.79" y="249.00" width="9" height="9" fill="rgb(0,230,0)" fill-opacity="0.4" stroke="#000" stroke-width="2"/>
<rect x="414.19" y="237.00" width="9" height="9" fill="rgb(0,230,0)" fill-opacity="0.4" stroke="#000" stroke-width="2"/>
<rect x="555.19" y="237.00" width="9" height="9" fill="rgb(0,230,0)" fill-opacity="0.4" stroke="#000" stroke-width="2"/>
<rect x="465.94" y="157.40" width="9" height="9" fill="rgb(0,230,0)" fill-opacity="0.4" stroke="#000" stroke-width="2"/>
<rect x="503.44" y="157.40" width="9" height="9" fill="rgb(0,230,0)" fill-opacity="0.4" stroke="#000" stroke-width="2"/>
<rect x="450.69" y="180.40" width="9" height="9" fill="rgb(0,230,0)" fill-opacity="0.4" stroke="#000" stroke-width="2"/>
<rect x="518.69" y="180.40" width="9" height="9" fill="rgb(0,230,0)" fill-opacity="0.4" stroke="#000" stroke-width="2"/>
<rect x="434.44" y="204.30" width="9" height="9" fill="rgb(0,230,0)" fill-opacity="0.4" stroke="#000" stroke-width="2"/>
<rect x="534.94" y="204.30" width="9" height="9" fill="rgb(0,230,0)" fill-opacity="0.4" stroke="#000" stroke-width="2"/>
<rect x="414.19" y="228.40" width="9" height="9" fill="rgb(0,230,0)" fill-opacity="0.4" stroke="#000" stroke-width="2"/>
<rect x="555.19" y="228.40" width="9" height="9" fill="rgb(0,230,0)" fill-opacity="0.4" stroke="#000" stroke-width="2"/>
</g>
<path d="M417.59,481.20h4M560.79,481.20h-4M417.59,414.39h4M560.79,414.39h-4M417.59,347.57h4M560.79,347.57h-4M417.59,280.76h4M560.79,280.76h-4M417.59,213.94h4M560.79,213.94h-4M417.59,147.13h4M560.79,147.13h-4M417.59,80.31h4M560.79,80.31h-4M417.59,13.50h4M560.79,13.50h-4M453.39,13.50v4M453.39,481.20v-4M489.19,13.50v4M489.19,481.20v-4M524.99,13.50v4M524.99,481.20v-4" stroke="#222" stroke-width="1" fill="none"/>
<rect x="417.50" y="13.50" width="143.00" height="468.00" fill="none" stroke="#000" stroke-width="1.2"/>
<g clip-path="url(#c3)">
<rect x="591.66" y="304.56" width="139.20" height="101.41" fill="rgb(191,223,191)"/>
<rect x="591.66" y="270.25" width="139.20" height="11.41" fill="rgb(191,223,191)"/>
<rect x="591.16" y="198.89" width="140.20" height="2.20" fill="rgb(191,223,191)"/>
<path d="M589.7,406.0L590.0,406.0L590.3,406.0L590.6,406.0L591.0,406.0L591.3,406.0L591.6,406.0L591.9,406.0L592.2,406.0L592.6,406.0L592.9,406.0L593.2,406.0L593.5,406.0L593.9,406.0L594.2,406.0L594.5,406.0L594.8,406.0L595.2,406.0L595.5,406.0L595.8,406.0L596.1,406.0L596.5,406.0L596.8,406.0L597.1,406.0L597.4,406.0L597.7,406.0L598.1,406.0L598.4,406.0L598.7,406.0L599.0,406.0L599.4,406.0L599.7,406.0L600.0,406.0L600.3,406.0L600.7,406.0L601.0,406.0L601.3,406.0L601.6,406.0L602.0,406.0L602.3,406.0L602.6,406.0L602.9,406.0L603.3,406.0L603.6,406.0L603.9,406.0L604.2,406.0L604.5,406.0L604.9,406.0L605.2,406.0L605.5,406.0L605.8,406.0L606.2,406.0L606.5,406.1L606.8,406.1L607.1,406.1L607.5,406.1L607.8,406.1L608.1,406.1L608.4,406.1L608.8,406.1L609.1,406.1L609.4,406.1L609.7,406.1L610.1,406.1L610.4,406.1L610.7,406.1L611.0,406.1L611.4,406.1L611.7,406.1L612.0,406.1L612.3,406.1L612.7,406.1L613.0,406.1L613.3,406.1L613.6,406.1L614.0,406.1L614.3,406.1L614.6,406.1L614.9,406.2L615.3,406.2L615.6,406.2L615.9,406.2L616.2,406.2L616.6,406.2L616.9,406.2L617.2,406.2L617.5,406.2L617.9,406.2L618.2,406.2L618.5,406.2L618.8,406.2L619.2,406.2L619.5,406.2L619.8,406.2L620.1,406.2L620.5,406.2L620.8,406.2L621.1,406.2L621.5,406.2L621.8,406.2L622.1,406.2L622.4,406.3L622.8,406.3L623.1,406.3L623.4,406.3L623.7,406.3L624.1,406.3L624.4,406.3L624.7,406.3L625.0,406.3L625.4,406.3L625.7,406.3L626.0,406.3L626.4,406.3L626.7,406.3L627.0,406.3L627.3,406.3L627.7,406.3L628.0,406.3L628.3,406.3L628.6,406.3L629.0,406.3L629.3,406.4L629.6,406.4L630.0,406.4L630.3,406.4L630.6,406.4L630.9,406.4L631.3,406.4L631.6,406.4L631.9,406.4L632.3,406.4L632.6,406.4L632.9,406.4L633.2,406.4L633.6,406.4L633.9,406.4L634.2,406.4L634.5,406.4L634.9,406.4L635.2,406.4L635.5,406.4L635.9,406.4L636.2,406.4L636.5,406.4L636.8,406.5L637.2,406.5L637.5,406.5L637.8,406.5L638.2,406.5L638.5,406.5L638.8,406.5L639.2,406.5L639.5,406.5L639.8,406.5L640.1,406.5L640.5,406.5L640.8,406.5L641.1,406.5L641.5,406.5L641.8,406.5L642.1,406.5L642.4,406.5L642.8,406.5L643.1,406.5L643.4,406.5L643.8,406.5L644.1,406.5L644.4,406.5L644.7,406.5L645.1,406.5L645.4,406.5L645.7,406.5L646.1,406.6L646.4,406.6L646.7,406.6L647.1,406.6L647.4,406.6L647.7,406.6L648.0,406.6L648.4,406.6L648.7,406.6L649.0,406.6L649.4,406.6L649.7,406.6L650.0,406.6L650.4,406.6L650.7,406.6L651.0,406.6L651.3,406.6L651.7,406.6L652.0,406.6L652.3,406.6L652.7,406.6L653.0,406.6L653.3,406.6L653.7,406.6L654.0,406.6L654.3,406.6L654.7,406.6L655.0,406.6L655.3,406.6L655.6,406.6L656.0,406.6L656.3,406.6L656.6,406.6L657.0,406.6L657.3,406.6L657.6,406.6L658.0,406.6L658.3,406.6L658.6,406.6L658.9,406.6L659.3,406.6L659.6,406.6L659.9,406.6L660.3,406.6L660.6,406.6L660.9,406.6L661.3,406.6L661.6,406.6L661.9,406.6L662.3,406.6L662.6,406.6L662.9,406.6L663.2,406.6L663.6,406.6L663.9,406.6L664.2,406.6L664.6,406.6L664.9,406.6L665.2,406.6L665.6,406.6L665.9,406.6L666.2,406.6L666.5,406.6L666.9,406.6L667.2,406.6L667.5,406.6L667.9,406.6L668.2,406.6L668.5,406.6L668.9,406.6L669.2,406.6L669.5,406.6L669.9,406.6L670.2,406.6L670.5,406.6L670.8,406.6L671.2,406.6L671.5,406.6L671.8,406.6L672.2,406.6L672.5,406.6L672.8,406.6L673.2,406.6L673.5,406.6L673.8,406.6L674.1,406.6L674.5,406.6L674.8,406.6L675.1,406.6L675.5,406.6L675.8,406.6L676.1,406.6L676.5,406.6L676.8,406.5L677.1,406.5L677.4,406.5L677.8,406.5L678.1,406.5L678.4,406.5L678.8,406.5L679.1,406.5L679.4,406.5L679.7,406.5L680.1,406.5L680.4,406.5L680.7,406.5L681.1,406.5L681.4,406.5L681.7,406.5L682.1,406.5L682.4,406.5L682.7,406.5L683.0,406.5L683.4,406.5L683.7,406.5L684.0,406.5L684.4,406.5L684.7,406.5L685.0,406.5L685.3,406.5L685.7,406.5L686.0,406.4L686.3,406.4L686.7,406.4L687.0,406.4L687.3,406.4L687.6,406.4L688.0,406.4L688.3,406.4L688.6,406.4L689.0,406.4L689.3,406.4L689.6,406.4L689.9,406.4L690.3,406.4L690.6,406.4L690.9,406.4L691.3,406.4L691.6,406.4L691.9,406.4L692.2,406.4L692.6,406.4L692.9,406.4L693.2,406.4L693.5,406.3L693.9,406.3L694.2,406.3L694.5,406.3L694.9,406.3L695.2,406.3L695.5,406.3L695.8,406.3L696.2,406.3L696.5,406.3L696.8,406.3L697.1,406.3L697.5,406.3L697.8,406.3L698.1,406.3L698.5,406.3L698.8,406.3L699.1,406.3L699.4,406.3L699.8,406.3L700.1,406.3L700.4,406.2L700.7,406.2L701.1,406.2L701.4,406.2L701.7,406.2L702.0,406.2L702.4,406.2L702.7,406.2L703.0,406.2L703.3,406.2L703.7,406.2L704.0,406.2L704.3,406.2L704.7,406.2L705.0,406.2L705.3,406.2L705.6,406.2L706.0,406.2L706.3,406.2L706.6,406.2L706.9,406.2L707.3,406.2L707.6,406.2L707.9,406.1L708.2,406.1L708.6,406.1L708.9,406.1L709.2,406.1L709.5,406.1L709.9,406.1L710.2,406.1L710.5,406.1L710.8,406.1L711.2,406.1L711.5,406.1L711.8,406.1L712.1,406.1L712.5,406.1L712.8,406.1L713.1,406.1L713.4,406.1L713.8,406.1L714.1,406.1L714.4,406.1L714.7,406.1L715.1,406.1L715.4,406.1L715.7,406.1L716.0,406.1L716.4,406.0L716.7,406.0L717.0,406.0L717.3,406.0L717.6,406.0L718.0,406.0L718.3,406.0L718.6,406.0L718.9,406.0L719.3,406.0L719.6,406.0L719.9,406.0L720.2,406.0L720.6,406.0L720.9,406.0L721.2,406.0L721.5,406.0L721.9,406.0L722.2,406.0L722.5,406.0L722.8,406.0L723.2,406.0L723.5,406.0L723.8,406.0L724.1,406.0L724.5,406.0L724.8,406.0L725.1,406.0L725.4,406.0L725.7,406.0L726.1,406.0L726.4,406.0L726.7,406.0L727.0,406.0L727.4,406.0L727.7,406.0L728.0,406.0L728.3,406.0L728.7,406.0L729.0,406.0L729.3,406.0L729.6,406.0L729.9,406.0L730.3,406.0L730.6,406.0L730.9,406.0L731.2,406.0L731.6,406.0L731.9,406.0L732.2,406.0L732.5,406.0L732.9,406.0" fill="none" stroke="#fff" stroke-width="3.60" stroke-linejoin="round"/>
<path d="M589.7,304.6L590.1,304.6L590.6,304.6L591.0,304.5L591.5,304.5L591.9,304.5L592.4,304.5L592.8,304.5L593.3,304.5L593.8,304.5L594.2,304.4L594.7,304.4L595.1,304.4L595.6,304.4L596.0,304.3L596.5,304.3L596.9,304.3L597.4,304.2L597.8,304.2L598.3,304.1L598.7,304.1L599.2,304.0L599.6,304.0L600.1,303.9L600.5,303.9L601.0,303.8L601.4,303.8L601.9,303.7L602.3,303.6L602.8,303.6L603.2,303.5L603.7,303.4L604.1,303.4L604.6,303.3L605.0,303.2L605.5,303.1L605.9,303.1L606.4,303.0L606.8,302.9L607.2,302.8L607.7,302.7L608.1,302.6L608.6,302.5L609.0,302.4L609.4,302.4L609.9,302.3L610.3,302.2L610.7,302.1L611.2,302.0L611.6,301.8L612.0,301.7L612.5,301.6L612.9,301.5L613.3,301.4L613.8,301.3L614.2,301.2L614.6,301.1L615.0,300.9L615.5,300.8L615.9,300.7L616.3,300.6L616.7,300.4L617.2,300.3L617.6,300.2L618.0,300.1L618.4,299.9L618.8,299.8L619.2,299.7L619.7,299.5L620.1,299.4L620.5,299.3L620.9,299.1L621.3,299.0L621.7,298.8L622.1,298.7L622.5,298.5L622.9,298.4L623.3,298.3L623.7,298.1L624.1,298.0L624.5,297.8L624.9,297.7L625.3,297.5L625.7,297.4L626.1,297.2L626.5,297.1L626.8,296.9L627.2,296.7L627.6,296.6L628.0,296.4L628.4,296.3L628.8,296.1L629.1,296.0L629.5,295.8L629.9,295.6L630.3,295.5L630.6,295.3L631.0,295.2L631.4,295.0L631.7,294.8L632.1,294.7L632.5,294.5L632.8,294.3L633.2,294.2L633.5,294.0L633.9,293.8L634.2,293.7L634.6,293.5L634.9,293.4L635.3,293.2L635.6,293.0L636.0,292.9L636.3,292.7L636.6,292.5L637.0,292.4L637.3,292.2L637.6,292.0L638.0,291.9L638.3,291.7L638.6,291.6L639.0,291.4L639.3,291.2L639.6,291.1L639.9,290.9L640.2,290.7L640.5,290.6L640.9,290.4L641.2,290.3L641.5,290.1L641.8,289.9L642.1,289.8L642.4,289.6L642.7,289.5L643.0,289.3L643.3,289.2L643.6,289.0L643.8,288.9L644.1,288.7L644.4,288.6L644.7,288.4L645.0,288.3L645.3,288.1L645.5,288.0L645.8,287.8L646.1,287.7L646.4,287.5L646.6,287.4L646.9,287.2L647.2,287.1L647.4,287.0L647.7,286.8L647.9,286.7L648.2,286.6L648.4,286.4L648.7,286.3L648.9,286.2L649.2,286.0L649.4,285.9L649.7,285.8L649.9,285.6L650.1,285.5L650.4,285.4L650.6,285.3L650.8,285.2L651.1,285.0L651.3,284.9L651.5,284.8L651.7,284.7L652.0,284.6L652.2,284.5L652.4,284.4L652.6,284.3L652.8,284.2L653.0,284.1L653.3,284.0L653.5,283.9L653.7,283.8L653.9,283.7L654.1,283.6L654.3,283.5L654.5,283.4L654.7,283.3L654.9,283.2L655.1,283.1L655.3,283.1L655.4,283.0L655.6,282.9L655.8,282.8L656.0,282.8L656.2,282.7L656.4,282.6L656.6,282.6L656.7,282.5L656.9,282.4L657.1,282.4L657.3,282.3L657.4,282.3L657.6,282.2L657.8,282.2L658.0,282.1L658.1,282.1L658.3,282.0L658.5,282.0L658.6,282.0L658.8,281.9L659.0,281.9L659.1,281.9L659.3,281.8L659.5,281.8L659.6,281.8L659.8,281.8L660.0,281.7L660.1,281.7L660.3,281.7L660.5,281.7L660.6,281.7L660.8,281.7L660.9,281.7L661.1,281.7L661.3,281.7L661.4,281.7L661.6,281.7L661.7,281.7L661.9,281.7L662.1,281.7L662.2,281.7L662.4,281.7L662.6,281.7L662.7,281.8L662.9,281.8L663.0,281.8L663.2,281.8L663.4,281.9L663.5,281.9L663.7,281.9L663.9,282.0L664.0,282.0L664.2,282.0L664.4,282.1L664.6,282.1L664.7,282.2L664.9,282.2L665.1,282.3L665.3,282.3L665.4,282.4L665.6,282.4L665.8,282.5L666.0,282.6L666.1,282.6L666.3,282.7L666.5,282.8L666.7,282.8L666.9,282.9L667.1,283.0L667.3,283.1L667.5,283.1L667.7,283.2L667.8,283.3L668.0,283.4L668.2,283.5L668.4,283.6L668.6,283.7L668.9,283.8L669.1,283.9L669.3,284.0L669.5,284.1L669.7,284.2L669.9,284.3L670.1,284.4L670.3,284.5L670.5,284.6L670.8,284.7L671.0,284.8L671.2,284.9L671.4,285.0L671.7,285.2L671.9,285.3L672.1,285.4L672.4,285.5L672.6,285.6L672.9,285.8L673.1,285.9L673.3,286.0L673.6,286.2L673.8,286.3L674.1,286.4L674.3,286.6L674.6,286.7L674.8,286.8L675.1,287.0L675.4,287.1L675.6,287.2L675.9,287.4L676.2,287.5L676.4,287.7L676.7,287.8L677.0,288.0L677.3,288.1L677.5,288.3L677.8,288.4L678.1,288.6L678.4,288.7L678.7,288.9L679.0,289.0L679.3,289.2L679.5,289.3L679.8,289.5L680.1,289.6L680.4,289.8L680.7,289.9L681.1,290.1L681.4,290.3L681.7,290.4L682.0,290.6L682.3,290.7L682.6,290.9L682.9,291.1L683.2,291.2L683.6,291.4L683.9,291.6L684.2,291.7L684.5,291.9L684.9,292.0L685.2,292.2L685.5,292.4L685.9,292.5L686.2,292.7L686.6,292.9L686.9,293.0L687.2,293.2L687.6,293.4L687.9,293.5L688.3,293.7L688.6,293.8L689.0,294.0L689.4,294.2L689.7,294.3L690.1,294.5L690.4,294.7L690.8,294.8L691.2,295.0L691.5,295.2L691.9,295.3L692.3,295.5L692.6,295.6L693.0,295.8L693.4,296.0L693.8,296.1L694.1,296.3L694.5,296.4L694.9,296.6L695.3,296.7L695.7,296.9L696.1,297.1L696.4,297.2L696.8,297.4L697.2,297.5L697.6,297.7L698.0,297.8L698.4,298.0L698.8,298.1L699.2,298.3L699.6,298.4L700.0,298.5L700.4,298.7L700.8,298.8L701.2,299.0L701.6,299.1L702.0,299.3L702.5,299.4L702.9,299.5L703.3,299.7L703.7,299.8L704.1,299.9L704.5,300.1L704.9,300.2L705.4,300.3L705.8,300.4L706.2,300.6L706.6,300.7L707.0,300.8L707.5,300.9L707.9,301.1L708.3,301.2L708.8,301.3L709.2,301.4L709.6,301.5L710.0,301.6L710.5,301.7L710.9,301.8L711.3,302.0L711.8,302.1L712.2,302.2L712.6,302.3L713.1,302.4L713.5,302.4L714.0,302.5L714.4,302.6L714.8,302.7L715.3,302.8L715.7,302.9L716.2,303.0L716.6,303.1L717.1,303.1L717.5,303.2L717.9,303.3L718.4,303.4L718.8,303.4L719.3,303.5L719.7,303.6L720.2,303.6L720.6,303.7L721.1,303.8L721.5,303.8L722.0,303.9L722.4,303.9L722.9,304.0L723.3,304.0L723.8,304.1L724.2,304.1L724.7,304.2L725.1,304.2L725.6,304.3L726.0,304.3L726.5,304.3L726.9,304.4L727.4,304.4L727.9,304.4L728.3,304.4L728.8,304.5L729.2,304.5L729.7,304.5L730.1,304.5L730.6,304.5L731.0,304.5L731.5,304.5L731.9,304.6L732.4,304.6L732.9,304.6" fill="none" stroke="#fff" stroke-width="3.60" stroke-linejoin="round"/>
<path d="M589.7,202.2L589.7,202.2L589.8,202.2L589.9,202.2L590.0,202.2L590.0,202.2L590.1,202.3L590.2,202.3L590.3,202.4L590.4,202.4L590.5,202.5L590.5,202.6L590.6,202.7L590.7,202.7L590.8,202.8L590.9,202.9L591.0,203.0L591.1,203.2L591.3,203.3L591.4,203.4L591.5,203.5L591.6,203.7L591.7,203.8L591.9,204.0L592.0,204.1L592.2,204.3L592.3,204.5L592.5,204.7L592.6,204.9L592.8,205.1L592.9,205.3L593.1,205.5L593.3,205.7L593.5,205.9L593.6,206.1L593.8,206.4L594.0,206.6L594.2,206.8L594.4,207.1L594.6,207.3L594.8,207.6L595.0,207.9L595.3,208.1L595.5,208.4L595.7,208.7L595.9,209.0L596.2,209.3L596.4,209.6L596.7,209.9L596.9,210.2L597.2,210.5L597.4,210.9L597.7,211.2L598.0,211.5L598.2,211.9L598.5,212.2L598.8,212.6L599.1,212.9L599.4,213.3L599.7,213.6L600.0,214.0L600.3,214.4L600.6,214.8L600.9,215.1L601.2,215.5L601.5,215.9L601.9,216.3L602.2,216.7L602.5,217.1L602.8,217.5L603.2,217.9L603.5,218.3L603.9,218.8L604.2,219.2L604.6,219.6L604.9,220.0L605.3,220.5L605.7,220.9L606.0,221.3L606.4,221.8L606.8,222.2L607.2,222.7L607.5,223.1L607.9,223.6L608.3,224.0L608.7,224.5L609.1,224.9L609.5,225.4L609.9,225.9L610.3,226.3L610.7,226.8L611.1,227.3L611.5,227.7L611.9,228.2L612.4,228.7L612.8,229.2L613.2,229.6L613.6,230.1L614.0,230.6L614.5,231.1L614.9,231.6L615.3,232.1L615.8,232.5L616.2,233.0L616.6,233.5L617.1,234.0L617.5,234.5L618.0,235.0L618.4,235.5L618.9,236.0L619.3,236.4L619.8,236.9L620.2,237.4L620.7,237.9L621.1,238.4L621.6,238.9L622.0,239.4L622.5,239.9L623.0,240.3L623.4,240.8L623.9,241.3L624.3,241.8L624.8,242.3L625.3,242.8L625.7,243.2L626.2,243.7L626.7,244.2L627.1,244.7L627.6,245.1L628.0,245.6L628.5,246.1L629.0,246.5L629.4,247.0L629.9,247.5L630.4,247.9L630.8,248.4L631.3,248.8L631.8,249.3L632.2,249.7L632.7,250.2L633.1,250.6L633.6,251.1L634.1,251.5L634.5,251.9L635.0,252.4L635.4,252.8L635.9,253.2L636.3,253.6L636.8,254.1L637.2,254.5L637.7,254.9L638.1,255.3L638.5,255.7L639.0,256.1L639.4,256.5L639.9,256.9L640.3,257.3L640.7,257.6L641.2,258.0L641.6,258.4L642.0,258.8L642.4,259.1L642.8,259.5L643.3,259.8L643.7,260.2L644.1,260.5L644.5,260.9L644.9,261.2L645.3,261.5L645.7,261.9L646.1,262.2L646.5,262.5L646.9,262.8L647.2,263.1L647.6,263.4L648.0,263.7L648.4,264.0L648.7,264.3L649.1,264.5L649.5,264.8L649.8,265.1L650.2,265.3L650.5,265.6L650.9,265.8L651.2,266.0L651.6,266.3L651.9,266.5L652.2,266.7L652.6,266.9L652.9,267.1L653.2,267.3L653.5,267.5L653.8,267.7L654.2,267.9L654.5,268.1L654.8,268.3L655.1,268.4L655.4,268.6L655.6,268.7L655.9,268.9L656.2,269.0L656.5,269.1L656.8,269.2L657.1,269.4L657.3,269.5L657.6,269.6L657.9,269.7L658.2,269.7L658.4,269.8L658.7,269.9L658.9,270.0L659.2,270.0L659.5,270.1L659.7,270.1L660.0,270.2L660.2,270.2L660.5,270.2L660.8,270.2L661.0,270.2L661.3,270.2L661.5,270.2L661.8,270.2L662.0,270.2L662.3,270.2L662.5,270.2L662.8,270.1L663.1,270.1L663.3,270.0L663.6,270.0L663.8,269.9L664.1,269.8L664.4,269.7L664.6,269.7L664.9,269.6L665.2,269.5L665.5,269.4L665.7,269.2L666.0,269.1L666.3,269.0L666.6,268.9L666.9,268.7L667.2,268.6L667.5,268.4L667.8,268.3L668.1,268.1L668.4,267.9L668.7,267.7L669.0,267.5L669.3,267.3L669.6,267.1L670.0,266.9L670.3,266.7L670.6,266.5L670.9,266.3L671.3,266.0L671.6,265.8L672.0,265.6L672.3,265.3L672.7,265.1L673.0,264.8L673.4,264.5L673.8,264.3L674.1,264.0L674.5,263.7L674.9,263.4L675.3,263.1L675.7,262.8L676.0,262.5L676.4,262.2L676.8,261.9L677.2,261.5L677.6,261.2L678.0,260.9L678.4,260.5L678.8,260.2L679.3,259.8L679.7,259.5L680.1,259.1L680.5,258.8L680.9,258.4L681.4,258.0L681.8,257.6L682.2,257.3L682.7,256.9L683.1,256.5L683.5,256.1L684.0,255.7L684.4,255.3L684.9,254.9L685.3,254.5L685.8,254.1L686.2,253.6L686.7,253.2L687.1,252.8L687.6,252.4L688.0,251.9L688.5,251.5L688.9,251.1L689.4,250.6L689.8,250.2L690.3,249.7L690.8,249.3L691.2,248.8L691.7,248.4L692.2,247.9L692.6,247.5L693.1,247.0L693.5,246.5L694.0,246.1L694.5,245.6L694.9,245.1L695.4,244.7L695.9,244.2L696.3,243.7L696.8,243.2L697.3,242.8L697.7,242.3L698.2,241.8L698.6,241.3L699.1,240.8L699.6,240.3L700.0,239.9L700.5,239.4L700.9,238.9L701.4,238.4L701.8,237.9L702.3,237.4L702.8,236.9L703.2,236.4L703.7,236.0L704.1,235.5L704.5,235.0L705.0,234.5L705.4,234.0L705.9,233.5L706.3,233.0L706.8,232.5L707.2,232.1L707.6,231.6L708.0,231.1L708.5,230.6L708.9,230.1L709.3,229.6L709.7,229.2L710.2,228.7L710.6,228.2L711.0,227.7L711.4,227.3L711.8,226.8L712.2,226.3L712.6,225.9L713.0,225.4L713.4,224.9L713.8,224.5L714.2,224.0L714.6,223.6L715.0,223.1L715.4,222.7L715.7,222.2L716.1,221.8L716.5,221.3L716.9,220.9L717.2,220.5L717.6,220.0L717.9,219.6L718.3,219.2L718.6,218.8L719.0,218.3L719.3,217.9L719.7,217.5L720.0,217.1L720.3,216.7L720.7,216.3L721.0,215.9L721.3,215.5L721.6,215.1L721.9,214.8L722.2,214.4L722.5,214.0L722.8,213.6L723.1,213.3L723.4,212.9L723.7,212.6L724.0,212.2L724.3,211.9L724.6,211.5L724.8,211.2L725.1,210.9L725.3,210.5L725.6,210.2L725.9,209.9L726.1,209.6L726.3,209.3L726.6,209.0L726.8,208.7L727.0,208.4L727.3,208.1L727.5,207.9L727.7,207.6L727.9,207.3L728.1,207.1L728.3,206.8L728.5,206.6L728.7,206.4L728.9,206.1L729.1,205.9L729.2,205.7L729.4,205.5L729.6,205.3L729.8,205.1L729.9,204.9L730.1,204.7L730.2,204.5L730.4,204.3L730.5,204.1L730.6,204.0L730.8,203.8L730.9,203.7L731.0,203.5L731.1,203.4L731.3,203.3L731.4,203.2L731.5,203.0L731.6,202.9L731.7,202.8L731.8,202.7L731.9,202.7L732.0,202.6L732.1,202.5L732.2,202.4L732.2,202.4L732.3,202.3L732.4,202.3L732.5,202.2L732.6,202.2L732.6,202.2L732.7,202.2L732.8,202.2L732.9,202.2" fill="none" stroke="#fff" stroke-width="3.60" stroke-linejoin="round"/>
<path d="M589.7,199.4L589.8,199.4L589.8,199.4L589.9,199.4L590.0,199.3L590.1,199.3L590.2,199.2L590.3,199.2L590.4,199.1L590.5,199.0L590.7,198.9L590.8,198.8L590.9,198.7L591.0,198.5L591.2,198.4L591.3,198.2L591.4,198.1L591.6,197.9L591.8,197.7L591.9,197.5L592.1,197.3L592.3,197.1L592.4,196.9L592.6,196.6L592.8,196.4L593.0,196.1L593.2,195.9L593.4,195.6L593.7,195.3L593.9,195.0L594.1,194.7L594.4,194.4L594.6,194.1L594.9,193.7L595.1,193.4L595.4,193.0L595.7,192.7L595.9,192.3L596.2,191.9L596.5,191.5L596.8,191.1L597.1,190.7L597.4,190.3L597.7,189.9L598.1,189.4L598.4,189.0L598.7,188.6L599.0,188.1L599.4,187.6L599.7,187.1L600.1,186.7L600.4,186.2L600.8,185.7L601.2,185.2L601.5,184.6L601.9,184.1L602.3,183.6L602.7,183.0L603.1,182.5L603.5,181.9L603.9,181.4L604.3,180.8L604.7,180.2L605.1,179.7L605.5,179.1L605.9,178.5L606.3,177.9L606.8,177.3L607.2,176.7L607.6,176.0L608.0,175.4L608.5,174.8L608.9,174.2L609.4,173.5L609.8,172.9L610.3,172.2L610.7,171.6L611.2,170.9L611.6,170.2L612.1,169.6L612.5,168.9L613.0,168.2L613.5,167.5L613.9,166.8L614.4,166.1L614.9,165.4L615.3,164.7L615.8,164.0L616.3,163.3L616.8,162.6L617.2,161.9L617.7,161.2L618.2,160.5L618.7,159.8L619.1,159.0L619.6,158.3L620.1,157.6L620.6,156.8L621.1,156.1L621.5,155.4L622.0,154.6L622.5,153.9L623.0,153.2L623.5,152.4L623.9,151.7L624.4,150.9L624.9,150.2L625.4,149.5L625.9,148.7L626.3,148.0L626.8,147.2L627.3,146.5L627.8,145.7L628.2,145.0L628.7,144.3L629.2,143.5L629.6,142.8L630.1,142.0L630.6,141.3L631.0,140.6L631.5,139.8L632.0,139.1L632.4,138.4L632.9,137.6L633.3,136.9L633.8,136.2L634.2,135.5L634.7,134.7L635.1,134.0L635.6,133.3L636.0,132.6L636.4,131.9L636.9,131.2L637.3,130.5L637.7,129.8L638.2,129.1L638.6,128.4L639.0,127.7L639.4,127.0L639.9,126.3L640.3,125.6L640.7,125.0L641.1,124.3L641.5,123.6L641.9,123.0L642.3,122.3L642.7,121.7L643.1,121.1L643.5,120.4L643.8,119.8L644.2,119.2L644.6,118.5L645.0,117.9L645.3,117.3L645.7,116.7L646.1,116.1L646.4,115.5L646.8,115.0L647.1,114.4L647.5,113.8L647.8,113.3L648.1,112.7L648.5,112.2L648.8,111.6L649.1,111.1L649.5,110.6L649.8,110.0L650.1,109.5L650.4,109.0L650.7,108.5L651.0,108.1L651.3,107.6L651.6,107.1L651.9,106.7L652.1,106.2L652.4,105.8L652.7,105.3L653.0,104.9L653.2,104.5L653.5,104.1L653.8,103.7L654.0,103.3L654.3,102.9L654.5,102.5L654.8,102.2L655.0,101.8L655.2,101.5L655.5,101.1L655.7,100.8L655.9,100.5L656.1,100.2L656.3,99.9L656.5,99.6L656.8,99.3L657.0,99.1L657.2,98.8L657.4,98.6L657.6,98.3L657.7,98.1L657.9,97.9L658.1,97.7L658.3,97.5L658.5,97.3L658.7,97.1L658.8,97.0L659.0,96.8L659.2,96.7L659.3,96.5L659.5,96.4L659.7,96.3L659.8,96.2L660.0,96.1L660.2,96.0L660.3,96.0L660.5,95.9L660.6,95.9L660.8,95.8L660.9,95.8L661.1,95.8L661.3,95.8L661.4,95.8L661.6,95.8L661.7,95.8L661.9,95.9L662.0,95.9L662.2,96.0L662.4,96.0L662.5,96.1L662.7,96.2L662.8,96.3L663.0,96.4L663.2,96.5L663.3,96.7L663.5,96.8L663.7,97.0L663.9,97.1L664.0,97.3L664.2,97.5L664.4,97.7L664.6,97.9L664.8,98.1L665.0,98.3L665.2,98.6L665.4,98.8L665.6,99.1L665.8,99.3L666.0,99.6L666.2,99.9L666.4,100.2L666.6,100.5L666.8,100.8L667.1,101.1L667.3,101.5L667.5,101.8L667.8,102.2L668.0,102.5L668.3,102.9L668.5,103.3L668.8,103.7L669.0,104.1L669.3,104.5L669.5,104.9L669.8,105.3L670.1,105.8L670.4,106.2L670.7,106.7L670.9,107.1L671.2,107.6L671.5,108.1L671.8,108.5L672.1,109.0L672.4,109.5L672.8,110.0L673.1,110.6L673.4,111.1L673.7,111.6L674.0,112.2L674.4,112.7L674.7,113.3L675.1,113.8L675.4,114.4L675.7,115.0L676.1,115.5L676.5,116.1L676.8,116.7L677.2,117.3L677.5,117.9L677.9,118.5L678.3,119.2L678.7,119.8L679.1,120.4L679.4,121.1L679.8,121.7L680.2,122.3L680.6,123.0L681.0,123.6L681.4,124.3L681.8,125.0L682.2,125.6L682.7,126.3L683.1,127.0L683.5,127.7L683.9,128.4L684.3,129.1L684.8,129.8L685.2,130.5L685.6,131.2L686.1,131.9L686.5,132.6L687.0,133.3L687.4,134.0L687.8,134.7L688.3,135.5L688.7,136.2L689.2,136.9L689.6,137.6L690.1,138.4L690.6,139.1L691.0,139.8L691.5,140.6L692.0,141.3L692.4,142.0L692.9,142.8L693.4,143.5L693.8,144.3L694.3,145.0L694.8,145.7L695.2,146.5L695.7,147.2L696.2,148.0L696.7,148.7L697.1,149.5L697.6,150.2L698.1,150.9L698.6,151.7L699.1,152.4L699.5,153.2L700.0,153.9L700.5,154.6L701.0,155.4L701.5,156.1L701.9,156.8L702.4,157.6L702.9,158.3L703.4,159.0L703.9,159.8L704.3,160.5L704.8,161.2L705.3,161.9L705.8,162.6L706.2,163.3L706.7,164.0L707.2,164.7L707.7,165.4L708.1,166.1L708.6,166.8L709.1,167.5L709.5,168.2L710.0,168.9L710.4,169.6L710.9,170.2L711.4,170.9L711.8,171.6L712.3,172.2L712.7,172.9L713.2,173.5L713.6,174.2L714.0,174.8L714.5,175.4L714.9,176.0L715.3,176.7L715.8,177.3L716.2,177.9L716.6,178.5L717.0,179.1L717.4,179.7L717.9,180.2L718.3,180.8L718.7,181.4L719.1,181.9L719.5,182.5L719.8,183.0L720.2,183.6L720.6,184.1L721.0,184.6L721.4,185.2L721.7,185.7L722.1,186.2L722.4,186.7L722.8,187.1L723.1,187.6L723.5,188.1L723.8,188.6L724.1,189.0L724.5,189.4L724.8,189.9L725.1,190.3L725.4,190.7L725.7,191.1L726.0,191.5L726.3,191.9L726.6,192.3L726.9,192.7L727.1,193.0L727.4,193.4L727.7,193.7L727.9,194.1L728.2,194.4L728.4,194.7L728.6,195.0L728.9,195.3L729.1,195.6L729.3,195.9L729.5,196.1L729.7,196.4L729.9,196.6L730.1,196.9L730.3,197.1L730.4,197.3L730.6,197.5L730.8,197.7L730.9,197.9L731.1,198.1L731.2,198.2L731.4,198.4L731.5,198.5L731.6,198.7L731.7,198.8L731.9,198.9L732.0,199.0L732.1,199.1L732.2,199.2L732.3,199.2L732.4,199.3L732.5,199.3L732.6,199.4L732.7,199.4L732.8,199.4L732.9,199.4" fill="none" stroke="#fff" stroke-width="3.60" stroke-linejoin="round"/>
<path d="M654.36,274.60h13.80v13.80h-13.80zM654.36,274.60h13.80v13.80h-13.80zM639.61,279.90h13.80v13.80h-13.80zM669.11,279.90h13.80v13.80h-13.80zM628.71,285.30h13.80v13.80h-13.80zM680.01,285.30h13.80v13.80h-13.80zM615.41,291.30h13.80v13.80h-13.80zM693.31,291.30h13.80v13.80h-13.80zM591.06,297.40h13.80v13.80h-13.80zM717.66,297.40h13.80v13.80h-13.80zM649.31,262.30h13.80v13.80h-13.80zM659.41,262.30h13.80v13.80h-13.80zM627.76,245.30h13.80v13.80h-13.80zM680.96,245.30h13.80v13.80h-13.80zM611.26,227.90h13.80v13.80h-13.80zM697.46,227.90h13.80v13.80h-13.80zM596.26,210.90h13.80v13.80h-13.80zM712.46,210.90h13.80v13.80h-13.80zM636.21,114.30h13.80v13.80h-13.80zM672.51,114.30h13.80v13.80h-13.80zM619.86,140.20h13.80v13.80h-13.80zM688.86,140.20h13.80v13.80h-13.80zM602.56,166.30h13.80v13.80h-13.80zM706.16,166.30h13.80v13.80h-13.80z" fill="#fff"/>
<g>
<path d="M598.61,314.19L598.64,314.16M598.61,321.64L606.09,314.16M598.61,329.09L613.54,314.16M598.61,336.54L620.99,314.16M598.61,343.99L628.44,314.16M598.61,351.44L635.89,314.16M598.61,358.89L643.34,314.16M598.61,366.34L650.79,314.16M598.61,373.79L652.31,320.09M598.61,381.24L652.31,327.54M598.61,388.69L652.31,334.99M598.61,396.14L652.31,342.44M598.61,403.59L652.31,349.89M598.61,411.04L652.31,357.34M598.61,418.49L652.31,364.79M598.61,425.94L652.31,372.24M598.61,433.39L652.31,379.69M598.61,440.84L652.31,387.14M598.61,448.29L652.31,394.59M598.61,455.74L652.31,402.04M598.61,463.19L652.31,409.49M598.61,470.64L652.31,416.94M598.61,478.09L652.31,424.39M602.95,481.20L652.31,431.84M610.40,481.20L652.31,439.29M617.85,481.20L652.31,446.74M625.30,481.20L652.31,454.19M632.75,481.20L652.31,461.64M640.20,481.20L652.31,469.09M647.65,481.20L652.31,476.54" stroke="#959595" stroke-width="0.9" fill="none"/>
</g>
<rect x="598.61" y="314.16" width="53.70" height="167.04" fill="none" stroke="#000" stroke-width="1"/>
<g>
<path d="M670.21,317.09L673.14,314.16M670.21,324.54L680.59,314.16M670.21,331.99L688.04,314.16M670.21,339.44L695.49,314.16M670.21,346.89L702.94,314.16M670.21,354.34L710.39,314.16M670.21,361.79L717.84,314.16M670.21,369.24L723.91,315.54M670.21,376.69L723.91,322.99M670.21,384.14L723.91,330.44M670.21,391.59L723.91,337.89M670.21,399.04L723.91,345.34M670.21,406.49L723.91,352.79M670.21,413.94L723.91,360.24M670.21,421.39L723.91,367.69M670.21,428.84L723.91,375.14M670.21,436.29L723.91,382.59M670.21,443.74L723.91,390.04M670.21,451.19L723.91,397.49M670.21,458.64L723.91,404.94M670.21,466.09L723.91,412.39M670.21,473.54L723.91,419.84M670.21,480.99L723.91,427.29M677.45,481.20L723.91,434.74M684.90,481.20L723.91,442.19M692.35,481.20L723.91,449.64M699.80,481.20L723.91,457.09M707.25,481.20L723.91,464.54M714.70,481.20L723.91,471.99M722.15,481.20L723.91,479.44" stroke="#959595" stroke-width="0.9" fill="none"/>
</g>
<rect x="670.21" y="314.16" width="53.70" height="167.04" fill="none" stroke="#000" stroke-width="1"/>
<path d="M589.7,406.0L590.0,406.0L590.3,406.0L590.6,406.0L591.0,406.0L591.3,406.0L591.6,406.0L591.9,406.0L592.2,406.0L592.6,406.0L592.9,406.0L593.2,406.0L593.5,406.0L593.9,406.0L594.2,406.0L594.5,406.0L594.8,406.0L595.2,406.0L595.5,406.0L595.8,406.0L596.1,406.0L596.5,406.0L596.8,406.0L597.1,406.0L597.4,406.0L597.7,406.0L598.1,406.0L598.4,406.0L598.7,406.0L599.0,406.0L599.4,406.0L599.7,406.0L600.0,406.0L600.3,406.0L600.7,406.0L601.0,406.0L601.3,406.0L601.6,406.0L602.0,406.0L602.3,406.0L602.6,406.0L602.9,406.0L603.3,406.0L603.6,406.0L603.9,406.0L604.2,406.0L604.5,406.0L604.9,406.0L605.2,406.0L605.5,406.0L605.8,406.0L606.2,406.0L606.5,406.1L606.8,406.1L607.1,406.1L607.5,406.1L607.8,406.1L608.1,406.1L608.4,406.1L608.8,406.1L609.1,406.1L609.4,406.1L609.7,406.1L610.1,406.1L610.4,406.1L610.7,406.1L611.0,406.1L611.4,406.1L611.7,406.1L612.0,406.1L612.3,406.1L612.7,406.1L613.0,406.1L613.3,406.1L613.6,406.1L614.0,406.1L614.3,406.1L614.6,406.1L614.9,406.2L615.3,406.2L615.6,406.2L615.9,406.2L616.2,406.2L616.6,406.2L616.9,406.2L617.2,406.2L617.5,406.2L617.9,406.2L618.2,406.2L618.5,406.2L618.8,406.2L619.2,406.2L619.5,406.2L619.8,406.2L620.1,406.2L620.5,406.2L620.8,406.2L621.1,406.2L621.5,406.2L621.8,406.2L622.1,406.2L622.4,406.3L622.8,406.3L623.1,406.3L623.4,406.3L623.7,406.3L624.1,406.3L624.4,406.3L624.7,406.3L625.0,406.3L625.4,406.3L625.7,406.3L626.0,406.3L626.4,406.3L626.7,406.3L627.0,406.3L627.3,406.3L627.7,406.3L628.0,406.3L628.3,406.3L628.6,406.3L629.0,406.3L629.3,406.4L629.6,406.4L630.0,406.4L630.3,406.4L630.6,406.4L630.9,406.4L631.3,406.4L631.6,406.4L631.9,406.4L632.3,406.4L632.6,406.4L632.9,406.4L633.2,406.4L633.6,406.4L633.9,406.4L634.2,406.4L634.5,406.4L634.9,406.4L635.2,406.4L635.5,406.4L635.9,406.4L636.2,406.4L636.5,406.4L636.8,406.5L637.2,406.5L637.5,406.5L637.8,406.5L638.2,406.5L638.5,406.5L638.8,406.5L639.2,406.5L639.5,406.5L639.8,406.5L640.1,406.5L640.5,406.5L640.8,406.5L641.1,406.5L641.5,406.5L641.8,406.5L642.1,406.5L642.4,406.5L642.8,406.5L643.1,406.5L643.4,406.5L643.8,406.5L644.1,406.5L644.4,406.5L644.7,406.5L645.1,406.5L645.4,406.5L645.7,406.5L646.1,406.6L646.4,406.6L646.7,406.6L647.1,406.6L647.4,406.6L647.7,406.6L648.0,406.6L648.4,406.6L648.7,406.6L649.0,406.6L649.4,406.6L649.7,406.6L650.0,406.6L650.4,406.6L650.7,406.6L651.0,406.6L651.3,406.6L651.7,406.6L652.0,406.6L652.3,406.6L652.7,406.6L653.0,406.6L653.3,406.6L653.7,406.6L654.0,406.6L654.3,406.6L654.7,406.6L655.0,406.6L655.3,406.6L655.6,406.6L656.0,406.6L656.3,406.6L656.6,406.6L657.0,406.6L657.3,406.6L657.6,406.6L658.0,406.6L658.3,406.6L658.6,406.6L658.9,406.6L659.3,406.6L659.6,406.6L659.9,406.6L660.3,406.6L660.6,406.6L660.9,406.6L661.3,406.6L661.6,406.6L661.9,406.6L662.3,406.6L662.6,406.6L662.9,406.6L663.2,406.6L663.6,406.6L663.9,406.6L664.2,406.6L664.6,406.6L664.9,406.6L665.2,406.6L665.6,406.6L665.9,406.6L666.2,406.6L666.5,406.6L666.9,406.6L667.2,406.6L667.5,406.6L667.9,406.6L668.2,406.6L668.5,406.6L668.9,406.6L669.2,406.6L669.5,406.6L669.9,406.6L670.2,406.6L670.5,406.6L670.8,406.6L671.2,406.6L671.5,406.6L671.8,406.6L672.2,406.6L672.5,406.6L672.8,406.6L673.2,406.6L673.5,406.6L673.8,406.6L674.1,406.6L674.5,406.6L674.8,406.6L675.1,406.6L675.5,406.6L675.8,406.6L676.1,406.6L676.5,406.6L676.8,406.5L677.1,406.5L677.4,406.5L677.8,406.5L678.1,406.5L678.4,406.5L678.8,406.5L679.1,406.5L679.4,406.5L679.7,406.5L680.1,406.5L680.4,406.5L680.7,406.5L681.1,406.5L681.4,406.5L681.7,406.5L682.1,406.5L682.4,406.5L682.7,406.5L683.0,406.5L683.4,406.5L683.7,406.5L684.0,406.5L684.4,406.5L684.7,406.5L685.0,406.5L685.3,406.5L685.7,406.5L686.0,406.4L686.3,406.4L686.7,406.4L687.0,406.4L687.3,406.4L687.6,406.4L688.0,406.4L688.3,406.4L688.6,406.4L689.0,406.4L689.3,406.4L689.6,406.4L689.9,406.4L690.3,406.4L690.6,406.4L690.9,406.4L691.3,406.4L691.6,406.4L691.9,406.4L692.2,406.4L692.6,406.4L692.9,406.4L693.2,406.4L693.5,406.3L693.9,406.3L694.2,406.3L694.5,406.3L694.9,406.3L695.2,406.3L695.5,406.3L695.8,406.3L696.2,406.3L696.5,406.3L696.8,406.3L697.1,406.3L697.5,406.3L697.8,406.3L698.1,406.3L698.5,406.3L698.8,406.3L699.1,406.3L699.4,406.3L699.8,406.3L700.1,406.3L700.4,406.2L700.7,406.2L701.1,406.2L701.4,406.2L701.7,406.2L702.0,406.2L702.4,406.2L702.7,406.2L703.0,406.2L703.3,406.2L703.7,406.2L704.0,406.2L704.3,406.2L704.7,406.2L705.0,406.2L705.3,406.2L705.6,406.2L706.0,406.2L706.3,406.2L706.6,406.2L706.9,406.2L707.3,406.2L707.6,406.2L707.9,406.1L708.2,406.1L708.6,406.1L708.9,406.1L709.2,406.1L709.5,406.1L709.9,406.1L710.2,406.1L710.5,406.1L710.8,406.1L711.2,406.1L711.5,406.1L711.8,406.1L712.1,406.1L712.5,406.1L712.8,406.1L713.1,406.1L713.4,406.1L713.8,406.1L714.1,406.1L714.4,406.1L714.7,406.1L715.1,406.1L715.4,406.1L715.7,406.1L716.0,406.1L716.4,406.0L716.7,406.0L717.0,406.0L717.3,406.0L717.6,406.0L718.0,406.0L718.3,406.0L718.6,406.0L718.9,406.0L719.3,406.0L719.6,406.0L719.9,406.0L720.2,406.0L720.6,406.0L720.9,406.0L721.2,406.0L721.5,406.0L721.9,406.0L722.2,406.0L722.5,406.0L722.8,406.0L723.2,406.0L723.5,406.0L723.8,406.0L724.1,406.0L724.5,406.0L724.8,406.0L725.1,406.0L725.4,406.0L725.7,406.0L726.1,406.0L726.4,406.0L726.7,406.0L727.0,406.0L727.4,406.0L727.7,406.0L728.0,406.0L728.3,406.0L728.7,406.0L729.0,406.0L729.3,406.0L729.6,406.0L729.9,406.0L730.3,406.0L730.6,406.0L730.9,406.0L731.2,406.0L731.6,406.0L731.9,406.0L732.2,406.0L732.5,406.0L732.9,406.0" fill="none" stroke="#0000b4" stroke-width="2" stroke-linejoin="round"/>
<path d="M589.7,304.6L590.1,304.6L590.6,304.6L591.0,304.5L591.5,304.5L591.9,304.5L592.4,304.5L592.8,304.5L593.3,304.5L593.8,304.5L594.2,304.4L594.7,304.4L595.1,304.4L595.6,304.4L596.0,304.3L596.5,304.3L596.9,304.3L597.4,304.2L597.8,304.2L598.3,304.1L598.7,304.1L599.2,304.0L599.6,304.0L600.1,303.9L600.5,303.9L601.0,303.8L601.4,303.8L601.9,303.7L602.3,303.6L602.8,303.6L603.2,303.5L603.7,303.4L604.1,303.4L604.6,303.3L605.0,303.2L605.5,303.1L605.9,303.1L606.4,303.0L606.8,302.9L607.2,302.8L607.7,302.7L608.1,302.6L608.6,302.5L609.0,302.4L609.4,302.4L609.9,302.3L610.3,302.2L610.7,302.1L611.2,302.0L611.6,301.8L612.0,301.7L612.5,301.6L612.9,301.5L613.3,301.4L613.8,301.3L614.2,301.2L614.6,301.1L615.0,300.9L615.5,300.8L615.9,300.7L616.3,300.6L616.7,300.4L617.2,300.3L617.6,300.2L618.0,300.1L618.4,299.9L618.8,299.8L619.2,299.7L619.7,299.5L620.1,299.4L620.5,299.3L620.9,299.1L621.3,299.0L621.7,298.8L622.1,298.7L622.5,298.5L622.9,298.4L623.3,298.3L623.7,298.1L624.1,298.0L624.5,297.8L624.9,297.7L625.3,297.5L625.7,297.4L626.1,297.2L626.5,297.1L626.8,296.9L627.2,296.7L627.6,296.6L628.0,296.4L628.4,296.3L628.8,296.1L629.1,296.0L629.5,295.8L629.9,295.6L630.3,295.5L630.6,295.3L631.0,295.2L631.4,295.0L631.7,294.8L632.1,294.7L632.5,294.5L632.8,294.3L633.2,294.2L633.5,294.0L633.9,293.8L634.2,293.7L634.6,293.5L634.9,293.4L635.3,293.2L635.6,293.0L636.0,292.9L636.3,292.7L636.6,292.5L637.0,292.4L637.3,292.2L637.6,292.0L638.0,291.9L638.3,291.7L638.6,291.6L639.0,291.4L639.3,291.2L639.6,291.1L639.9,290.9L640.2,290.7L640.5,290.6L640.9,290.4L641.2,290.3L641.5,290.1L641.8,289.9L642.1,289.8L642.4,289.6L642.7,289.5L643.0,289.3L643.3,289.2L643.6,289.0L643.8,288.9L644.1,288.7L644.4,288.6L644.7,288.4L645.0,288.3L645.3,288.1L645.5,288.0L645.8,287.8L646.1,287.7L646.4,287.5L646.6,287.4L646.9,287.2L647.2,287.1L647.4,287.0L647.7,286.8L647.9,286.7L648.2,286.6L648.4,286.4L648.7,286.3L648.9,286.2L649.2,286.0L649.4,285.9L649.7,285.8L649.9,285.6L650.1,285.5L650.4,285.4L650.6,285.3L650.8,285.2L651.1,285.0L651.3,284.9L651.5,284.8L651.7,284.7L652.0,284.6L652.2,284.5L652.4,284.4L652.6,284.3L652.8,284.2L653.0,284.1L653.3,284.0L653.5,283.9L653.7,283.8L653.9,283.7L654.1,283.6L654.3,283.5L654.5,283.4L654.7,283.3L654.9,283.2L655.1,283.1L655.3,283.1L655.4,283.0L655.6,282.9L655.8,282.8L656.0,282.8L656.2,282.7L656.4,282.6L656.6,282.6L656.7,282.5L656.9,282.4L657.1,282.4L657.3,282.3L657.4,282.3L657.6,282.2L657.8,282.2L658.0,282.1L658.1,282.1L658.3,282.0L658.5,282.0L658.6,282.0L658.8,281.9L659.0,281.9L659.1,281.9L659.3,281.8L659.5,281.8L659.6,281.8L659.8,281.8L660.0,281.7L660.1,281.7L660.3,281.7L660.5,281.7L660.6,281.7L660.8,281.7L660.9,281.7L661.1,281.7L661.3,281.7L661.4,281.7L661.6,281.7L661.7,281.7L661.9,281.7L662.1,281.7L662.2,281.7L662.4,281.7L662.6,281.7L662.7,281.8L662.9,281.8L663.0,281.8L663.2,281.8L663.4,281.9L663.5,281.9L663.7,281.9L663.9,282.0L664.0,282.0L664.2,282.0L664.4,282.1L664.6,282.1L664.7,282.2L664.9,282.2L665.1,282.3L665.3,282.3L665.4,282.4L665.6,282.4L665.8,282.5L666.0,282.6L666.1,282.6L666.3,282.7L666.5,282.8L666.7,282.8L666.9,282.9L667.1,283.0L667.3,283.1L667.5,283.1L667.7,283.2L667.8,283.3L668.0,283.4L668.2,283.5L668.4,283.6L668.6,283.7L668.9,283.8L669.1,283.9L669.3,284.0L669.5,284.1L669.7,284.2L669.9,284.3L670.1,284.4L670.3,284.5L670.5,284.6L670.8,284.7L671.0,284.8L671.2,284.9L671.4,285.0L671.7,285.2L671.9,285.3L672.1,285.4L672.4,285.5L672.6,285.6L672.9,285.8L673.1,285.9L673.3,286.0L673.6,286.2L673.8,286.3L674.1,286.4L674.3,286.6L674.6,286.7L674.8,286.8L675.1,287.0L675.4,287.1L675.6,287.2L675.9,287.4L676.2,287.5L676.4,287.7L676.7,287.8L677.0,288.0L677.3,288.1L677.5,288.3L677.8,288.4L678.1,288.6L678.4,288.7L678.7,288.9L679.0,289.0L679.3,289.2L679.5,289.3L679.8,289.5L680.1,289.6L680.4,289.8L680.7,289.9L681.1,290.1L681.4,290.3L681.7,290.4L682.0,290.6L682.3,290.7L682.6,290.9L682.9,291.1L683.2,291.2L683.6,291.4L683.9,291.6L684.2,291.7L684.5,291.9L684.9,292.0L685.2,292.2L685.5,292.4L685.9,292.5L686.2,292.7L686.6,292.9L686.9,293.0L687.2,293.2L687.6,293.4L687.9,293.5L688.3,293.7L688.6,293.8L689.0,294.0L689.4,294.2L689.7,294.3L690.1,294.5L690.4,294.7L690.8,294.8L691.2,295.0L691.5,295.2L691.9,295.3L692.3,295.5L692.6,295.6L693.0,295.8L693.4,296.0L693.8,296.1L694.1,296.3L694.5,296.4L694.9,296.6L695.3,296.7L695.7,296.9L696.1,297.1L696.4,297.2L696.8,297.4L697.2,297.5L697.6,297.7L698.0,297.8L698.4,298.0L698.8,298.1L699.2,298.3L699.6,298.4L700.0,298.5L700.4,298.7L700.8,298.8L701.2,299.0L701.6,299.1L702.0,299.3L702.5,299.4L702.9,299.5L703.3,299.7L703.7,299.8L704.1,299.9L704.5,300.1L704.9,300.2L705.4,300.3L705.8,300.4L706.2,300.6L706.6,300.7L707.0,300.8L707.5,300.9L707.9,301.1L708.3,301.2L708.8,301.3L709.2,301.4L709.6,301.5L710.0,301.6L710.5,301.7L710.9,301.8L711.3,302.0L711.8,302.1L712.2,302.2L712.6,302.3L713.1,302.4L713.5,302.4L714.0,302.5L714.4,302.6L714.8,302.7L715.3,302.8L715.7,302.9L716.2,303.0L716.6,303.1L717.1,303.1L717.5,303.2L717.9,303.3L718.4,303.4L718.8,303.4L719.3,303.5L719.7,303.6L720.2,303.6L720.6,303.7L721.1,303.8L721.5,303.8L722.0,303.9L722.4,303.9L722.9,304.0L723.3,304.0L723.8,304.1L724.2,304.1L724.7,304.2L725.1,304.2L725.6,304.3L726.0,304.3L726.5,304.3L726.9,304.4L727.4,304.4L727.9,304.4L728.3,304.4L728.8,304.5L729.2,304.5L729.7,304.5L730.1,304.5L730.6,304.5L731.0,304.5L731.5,304.5L731.9,304.6L732.4,304.6L732.9,304.6" fill="none" stroke="#c00000" stroke-width="2" stroke-linejoin="round"/>
<path d="M589.7,202.2L589.7,202.2L589.8,202.2L589.9,202.2L590.0,202.2L590.0,202.2L590.1,202.3L590.2,202.3L590.3,202.4L590.4,202.4L590.5,202.5L590.5,202.6L590.6,202.7L590.7,202.7L590.8,202.8L590.9,202.9L591.0,203.0L591.1,203.2L591.3,203.3L591.4,203.4L591.5,203.5L591.6,203.7L591.7,203.8L591.9,204.0L592.0,204.1L592.2,204.3L592.3,204.5L592.5,204.7L592.6,204.9L592.8,205.1L592.9,205.3L593.1,205.5L593.3,205.7L593.5,205.9L593.6,206.1L593.8,206.4L594.0,206.6L594.2,206.8L594.4,207.1L594.6,207.3L594.8,207.6L595.0,207.9L595.3,208.1L595.5,208.4L595.7,208.7L595.9,209.0L596.2,209.3L596.4,209.6L596.7,209.9L596.9,210.2L597.2,210.5L597.4,210.9L597.7,211.2L598.0,211.5L598.2,211.9L598.5,212.2L598.8,212.6L599.1,212.9L599.4,213.3L599.7,213.6L600.0,214.0L600.3,214.4L600.6,214.8L600.9,215.1L601.2,215.5L601.5,215.9L601.9,216.3L602.2,216.7L602.5,217.1L602.8,217.5L603.2,217.9L603.5,218.3L603.9,218.8L604.2,219.2L604.6,219.6L604.9,220.0L605.3,220.5L605.7,220.9L606.0,221.3L606.4,221.8L606.8,222.2L607.2,222.7L607.5,223.1L607.9,223.6L608.3,224.0L608.7,224.5L609.1,224.9L609.5,225.4L609.9,225.9L610.3,226.3L610.7,226.8L611.1,227.3L611.5,227.7L611.9,228.2L612.4,228.7L612.8,229.2L613.2,229.6L613.6,230.1L614.0,230.6L614.5,231.1L614.9,231.6L615.3,232.1L615.8,232.5L616.2,233.0L616.6,233.5L617.1,234.0L617.5,234.5L618.0,235.0L618.4,235.5L618.9,236.0L619.3,236.4L619.8,236.9L620.2,237.4L620.7,237.9L621.1,238.4L621.6,238.9L622.0,239.4L622.5,239.9L623.0,240.3L623.4,240.8L623.9,241.3L624.3,241.8L624.8,242.3L625.3,242.8L625.7,243.2L626.2,243.7L626.7,244.2L627.1,244.7L627.6,245.1L628.0,245.6L628.5,246.1L629.0,246.5L629.4,247.0L629.9,247.5L630.4,247.9L630.8,248.4L631.3,248.8L631.8,249.3L632.2,249.7L632.7,250.2L633.1,250.6L633.6,251.1L634.1,251.5L634.5,251.9L635.0,252.4L635.4,252.8L635.9,253.2L636.3,253.6L636.8,254.1L637.2,254.5L637.7,254.9L638.1,255.3L638.5,255.7L639.0,256.1L639.4,256.5L639.9,256.9L640.3,257.3L640.7,257.6L641.2,258.0L641.6,258.4L642.0,258.8L642.4,259.1L642.8,259.5L643.3,259.8L643.7,260.2L644.1,260.5L644.5,260.9L644.9,261.2L645.3,261.5L645.7,261.9L646.1,262.2L646.5,262.5L646.9,262.8L647.2,263.1L647.6,263.4L648.0,263.7L648.4,264.0L648.7,264.3L649.1,264.5L649.5,264.8L649.8,265.1L650.2,265.3L650.5,265.6L650.9,265.8L651.2,266.0L651.6,266.3L651.9,266.5L652.2,266.7L652.6,266.9L652.9,267.1L653.2,267.3L653.5,267.5L653.8,267.7L654.2,267.9L654.5,268.1L654.8,268.3L655.1,268.4L655.4,268.6L655.6,268.7L655.9,268.9L656.2,269.0L656.5,269.1L656.8,269.2L657.1,269.4L657.3,269.5L657.6,269.6L657.9,269.7L658.2,269.7L658.4,269.8L658.7,269.9L658.9,270.0L659.2,270.0L659.5,270.1L659.7,270.1L660.0,270.2L660.2,270.2L660.5,270.2L660.8,270.2L661.0,270.2L661.3,270.2L661.5,270.2L661.8,270.2L662.0,270.2L662.3,270.2L662.5,270.2L662.8,270.1L663.1,270.1L663.3,270.0L663.6,270.0L663.8,269.9L664.1,269.8L664.4,269.7L664.6,269.7L664.9,269.6L665.2,269.5L665.5,269.4L665.7,269.2L666.0,269.1L666.3,269.0L666.6,268.9L666.9,268.7L667.2,268.6L667.5,268.4L667.8,268.3L668.1,268.1L668.4,267.9L668.7,267.7L669.0,267.5L669.3,267.3L669.6,267.1L670.0,266.9L670.3,266.7L670.6,266.5L670.9,266.3L671.3,266.0L671.6,265.8L672.0,265.6L672.3,265.3L672.7,265.1L673.0,264.8L673.4,264.5L673.8,264.3L674.1,264.0L674.5,263.7L674.9,263.4L675.3,263.1L675.7,262.8L676.0,262.5L676.4,262.2L676.8,261.9L677.2,261.5L677.6,261.2L678.0,260.9L678.4,260.5L678.8,260.2L679.3,259.8L679.7,259.5L680.1,259.1L680.5,258.8L680.9,258.4L681.4,258.0L681.8,257.6L682.2,257.3L682.7,256.9L683.1,256.5L683.5,256.1L684.0,255.7L684.4,255.3L684.9,254.9L685.3,254.5L685.8,254.1L686.2,253.6L686.7,253.2L687.1,252.8L687.6,252.4L688.0,251.9L688.5,251.5L688.9,251.1L689.4,250.6L689.8,250.2L690.3,249.7L690.8,249.3L691.2,248.8L691.7,248.4L692.2,247.9L692.6,247.5L693.1,247.0L693.5,246.5L694.0,246.1L694.5,245.6L694.9,245.1L695.4,244.7L695.9,244.2L696.3,243.7L696.8,243.2L697.3,242.8L697.7,242.3L698.2,241.8L698.6,241.3L699.1,240.8L699.6,240.3L700.0,239.9L700.5,239.4L700.9,238.9L701.4,238.4L701.8,237.9L702.3,237.4L702.8,236.9L703.2,236.4L703.7,236.0L704.1,235.5L704.5,235.0L705.0,234.5L705.4,234.0L705.9,233.5L706.3,233.0L706.8,232.5L707.2,232.1L707.6,231.6L708.0,231.1L708.5,230.6L708.9,230.1L709.3,229.6L709.7,229.2L710.2,228.7L710.6,228.2L711.0,227.7L711.4,227.3L711.8,226.8L712.2,226.3L712.6,225.9L713.0,225.4L713.4,224.9L713.8,224.5L714.2,224.0L714.6,223.6L715.0,223.1L715.4,222.7L715.7,222.2L716.1,221.8L716.5,221.3L716.9,220.9L717.2,220.5L717.6,220.0L717.9,219.6L718.3,219.2L718.6,218.8L719.0,218.3L719.3,217.9L719.7,217.5L720.0,217.1L720.3,216.7L720.7,216.3L721.0,215.9L721.3,215.5L721.6,215.1L721.9,214.8L722.2,214.4L722.5,214.0L722.8,213.6L723.1,213.3L723.4,212.9L723.7,212.6L724.0,212.2L724.3,211.9L724.6,211.5L724.8,211.2L725.1,210.9L725.3,210.5L725.6,210.2L725.9,209.9L726.1,209.6L726.3,209.3L726.6,209.0L726.8,208.7L727.0,208.4L727.3,208.1L727.5,207.9L727.7,207.6L727.9,207.3L728.1,207.1L728.3,206.8L728.5,206.6L728.7,206.4L728.9,206.1L729.1,205.9L729.2,205.7L729.4,205.5L729.6,205.3L729.8,205.1L729.9,204.9L730.1,204.7L730.2,204.5L730.4,204.3L730.5,204.1L730.6,204.0L730.8,203.8L730.9,203.7L731.0,203.5L731.1,203.4L731.3,203.3L731.4,203.2L731.5,203.0L731.6,202.9L731.7,202.8L731.8,202.7L731.9,202.7L732.0,202.6L732.1,202.5L732.2,202.4L732.2,202.4L732.3,202.3L732.4,202.3L732.5,202.2L732.6,202.2L732.6,202.2L732.7,202.2L732.8,202.2L732.9,202.2" fill="none" stroke="#800080" stroke-width="2" stroke-linejoin="round"/>
<path d="M589.7,199.4L589.8,199.4L589.8,199.4L589.9,199.4L590.0,199.3L590.1,199.3L590.2,199.2L590.3,199.2L590.4,199.1L590.5,199.0L590.7,198.9L590.8,198.8L590.9,198.7L591.0,198.5L591.2,198.4L591.3,198.2L591.4,198.1L591.6,197.9L591.8,197.7L591.9,197.5L592.1,197.3L592.3,197.1L592.4,196.9L592.6,196.6L592.8,196.4L593.0,196.1L593.2,195.9L593.4,195.6L593.7,195.3L593.9,195.0L594.1,194.7L594.4,194.4L594.6,194.1L594.9,193.7L595.1,193.4L595.4,193.0L595.7,192.7L595.9,192.3L596.2,191.9L596.5,191.5L596.8,191.1L597.1,190.7L597.4,190.3L597.7,189.9L598.1,189.4L598.4,189.0L598.7,188.6L599.0,188.1L599.4,187.6L599.7,187.1L600.1,186.7L600.4,186.2L600.8,185.7L601.2,185.2L601.5,184.6L601.9,184.1L602.3,183.6L602.7,183.0L603.1,182.5L603.5,181.9L603.9,181.4L604.3,180.8L604.7,180.2L605.1,179.7L605.5,179.1L605.9,178.5L606.3,177.9L606.8,177.3L607.2,176.7L607.6,176.0L608.0,175.4L608.5,174.8L608.9,174.2L609.4,173.5L609.8,172.9L610.3,172.2L610.7,171.6L611.2,170.9L611.6,170.2L612.1,169.6L612.5,168.9L613.0,168.2L613.5,167.5L613.9,166.8L614.4,166.1L614.9,165.4L615.3,164.7L615.8,164.0L616.3,163.3L616.8,162.6L617.2,161.9L617.7,161.2L618.2,160.5L618.7,159.8L619.1,159.0L619.6,158.3L620.1,157.6L620.6,156.8L621.1,156.1L621.5,155.4L622.0,154.6L622.5,153.9L623.0,153.2L623.5,152.4L623.9,151.7L624.4,150.9L624.9,150.2L625.4,149.5L625.9,148.7L626.3,148.0L626.8,147.2L627.3,146.5L627.8,145.7L628.2,145.0L628.7,144.3L629.2,143.5L629.6,142.8L630.1,142.0L630.6,141.3L631.0,140.6L631.5,139.8L632.0,139.1L632.4,138.4L632.9,137.6L633.3,136.9L633.8,136.2L634.2,135.5L634.7,134.7L635.1,134.0L635.6,133.3L636.0,132.6L636.4,131.9L636.9,131.2L637.3,130.5L637.7,129.8L638.2,129.1L638.6,128.4L639.0,127.7L639.4,127.0L639.9,126.3L640.3,125.6L640.7,125.0L641.1,124.3L641.5,123.6L641.9,123.0L642.3,122.3L642.7,121.7L643.1,121.1L643.5,120.4L643.8,119.8L644.2,119.2L644.6,118.5L645.0,117.9L645.3,117.3L645.7,116.7L646.1,116.1L646.4,115.5L646.8,115.0L647.1,114.4L647.5,113.8L647.8,113.3L648.1,112.7L648.5,112.2L648.8,111.6L649.1,111.1L649.5,110.6L649.8,110.0L650.1,109.5L650.4,109.0L650.7,108.5L651.0,108.1L651.3,107.6L651.6,107.1L651.9,106.7L652.1,106.2L652.4,105.8L652.7,105.3L653.0,104.9L653.2,104.5L653.5,104.1L653.8,103.7L654.0,103.3L654.3,102.9L654.5,102.5L654.8,102.2L655.0,101.8L655.2,101.5L655.5,101.1L655.7,100.8L655.9,100.5L656.1,100.2L656.3,99.9L656.5,99.6L656.8,99.3L657.0,99.1L657.2,98.8L657.4,98.6L657.6,98.3L657.7,98.1L657.9,97.9L658.1,97.7L658.3,97.5L658.5,97.3L658.7,97.1L658.8,97.0L659.0,96.8L659.2,96.7L659.3,96.5L659.5,96.4L659.7,96.3L659.8,96.2L660.0,96.1L660.2,96.0L660.3,96.0L660.5,95.9L660.6,95.9L660.8,95.8L660.9,95.8L661.1,95.8L661.3,95.8L661.4,95.8L661.6,95.8L661.7,95.8L661.9,95.9L662.0,95.9L662.2,96.0L662.4,96.0L662.5,96.1L662.7,96.2L662.8,96.3L663.0,96.4L663.2,96.5L663.3,96.7L663.5,96.8L663.7,97.0L663.9,97.1L664.0,97.3L664.2,97.5L664.4,97.7L664.6,97.9L664.8,98.1L665.0,98.3L665.2,98.6L665.4,98.8L665.6,99.1L665.8,99.3L666.0,99.6L666.2,99.9L666.4,100.2L666.6,100.5L666.8,100.8L667.1,101.1L667.3,101.5L667.5,101.8L667.8,102.2L668.0,102.5L668.3,102.9L668.5,103.3L668.8,103.7L669.0,104.1L669.3,104.5L669.5,104.9L669.8,105.3L670.1,105.8L670.4,106.2L670.7,106.7L670.9,107.1L671.2,107.6L671.5,108.1L671.8,108.5L672.1,109.0L672.4,109.5L672.8,110.0L673.1,110.6L673.4,111.1L673.7,111.6L674.0,112.2L674.4,112.7L674.7,113.3L675.1,113.8L675.4,114.4L675.7,115.0L676.1,115.5L676.5,116.1L676.8,116.7L677.2,117.3L677.5,117.9L677.9,118.5L678.3,119.2L678.7,119.8L679.1,120.4L679.4,121.1L679.8,121.7L680.2,122.3L680.6,123.0L681.0,123.6L681.4,124.3L681.8,125.0L682.2,125.6L682.7,126.3L683.1,127.0L683.5,127.7L683.9,128.4L684.3,129.1L684.8,129.8L685.2,130.5L685.6,131.2L686.1,131.9L686.5,132.6L687.0,133.3L687.4,134.0L687.8,134.7L688.3,135.5L688.7,136.2L689.2,136.9L689.6,137.6L690.1,138.4L690.6,139.1L691.0,139.8L691.5,140.6L692.0,141.3L692.4,142.0L692.9,142.8L693.4,143.5L693.8,144.3L694.3,145.0L694.8,145.7L695.2,146.5L695.7,147.2L696.2,148.0L696.7,148.7L697.1,149.5L697.6,150.2L698.1,150.9L698.6,151.7L699.1,152.4L699.5,153.2L700.0,153.9L700.5,154.6L701.0,155.4L701.5,156.1L701.9,156.8L702.4,157.6L702.9,158.3L703.4,159.0L703.9,159.8L704.3,160.5L704.8,161.2L705.3,161.9L705.8,162.6L706.2,163.3L706.7,164.0L707.2,164.7L707.7,165.4L708.1,166.1L708.6,166.8L709.1,167.5L709.5,168.2L710.0,168.9L710.4,169.6L710.9,170.2L711.4,170.9L711.8,171.6L712.3,172.2L712.7,172.9L713.2,173.5L713.6,174.2L714.0,174.8L714.5,175.4L714.9,176.0L715.3,176.7L715.8,177.3L716.2,177.9L716.6,178.5L717.0,179.1L717.4,179.7L717.9,180.2L718.3,180.8L718.7,181.4L719.1,181.9L719.5,182.5L719.8,183.0L720.2,183.6L720.6,184.1L721.0,184.6L721.4,185.2L721.7,185.7L722.1,186.2L722.4,186.7L722.8,187.1L723.1,187.6L723.5,188.1L723.8,188.6L724.1,189.0L724.5,189.4L724.8,189.9L725.1,190.3L725.4,190.7L725.7,191.1L726.0,191.5L726.3,191.9L726.6,192.3L726.9,192.7L727.1,193.0L727.4,193.4L727.7,193.7L727.9,194.1L728.2,194.4L728.4,194.7L728.6,195.0L728.9,195.3L729.1,195.6L729.3,195.9L729.5,196.1L729.7,196.4L729.9,196.6L730.1,196.9L730.3,197.1L730.4,197.3L730.6,197.5L730.8,197.7L730.9,197.9L731.1,198.1L731.2,198.2L731.4,198.4L731.5,198.5L731.6,198.7L731.7,198.8L731.9,198.9L732.0,199.0L732.1,199.1L732.2,199.2L732.3,199.2L732.4,199.3L732.5,199.3L732.6,199.4L732.7,199.4L732.8,199.4L732.9,199.4" fill="none" stroke="#000000" stroke-width="2" stroke-linejoin="round"/>
<rect x="656.76" y="277.00" width="9" height="9" fill="rgb(0,230,0)" fill-opacity="0.4" stroke="#000" stroke-width="2"/>
<rect x="656.76" y="277.00" width="9" height="9" fill="rgb(0,230,0)" fill-opacity="0.4" stroke="#000" stroke-width="2"/>
<rect x="642.01" y="282.30" width="9" height="9" fill="rgb(0,230,0)" fill-opacity="0.4" stroke="#000" stroke-width="2"/>
<rect x="671.51" y="282.30" width="9" height="9" fill="rgb(0,230,0)" fill-opacity="0.4" stroke="#000" stroke-width="2"/>
<rect x="631.11" y="287.70" width="9" height="9" fill="rgb(0,230,0)" fill-opacity="0.4" stroke="#000" stroke-width="2"/>
<rect x="682.41" y="287.70" width="9" height="9" fill="rgb(0,230,0)" fill-opacity="0.4" stroke="#000" stroke-width="2"/>
<rect x="617.81" y="293.70" width="9" height="9" fill="rgb(0,230,0)" fill-opacity="0.4" stroke="#000" stroke-width="2"/>
<rect x="695.71" y="293.70" width="9" height="9" fill="rgb(0,230,0)" fill-opacity="0.4" stroke="#000" stroke-width="2"/>
<rect x="593.46" y="299.80" width="9" height="9" fill="rgb(0,230,0)" fill-opacity="0.4" stroke="#000" stroke-width="2"/>
<rect x="720.06" y="299.80" width="9" height="9" fill="rgb(0,230,0)" fill-opacity="0.4" stroke="#000" stroke-width="2"/>
<rect x="651.71" y="264.70" width="9" height="9" fill="rgb(0,230,0)" fill-opacity="0.4" stroke="#000" stroke-width="2"/>
<rect x="661.81" y="264.70" width="9" height="9" fill="rgb(0,230,0)" fill-opacity="0.4" stroke="#000" stroke-width="2"/>
<rect x="630.16" y="247.70" width="9" height="9" fill="rgb(0,230,0)" fill-opacity="0.4" stroke="#000" stroke-width="2"/>
<rect x="683.36" y="247.70" width="9" height="9" fill="rgb(0,230,0)" fill-opacity="0.4" stroke="#000" stroke-width="2"/>
<rect x="613.66" y="230.30" width="9" height="9" fill="rgb(0,230,0)" fill-opacity="0.4" stroke="#000" stroke-width="2"/>
<rect x="699.86" y="230.30" width="9" height="9" fill="rgb(0,230,0)" fill-opacity="0.4" stroke="#000" stroke-width="2"/>
<rect x="598.66" y="213.30" width="9" height="9" fill="rgb(0,230,0)" fill-opacity="0.4" stroke="#000" stroke-width="2"/>
<rect x="714.86" y="213.30" width="9" height="9" fill="rgb(0,230,0)" fill-opacity="0.4" stroke="#000" stroke-width="2"/>
<rect x="638.61" y="116.70" width="9" height="9" fill="rgb(0,230,0)" fill-opacity="0.4" stroke="#000" stroke-width="2"/>
<rect x="674.91" y="116.70" width="9" height="9" fill="rgb(0,230,0)" fill-opacity="0.4" stroke="#000" stroke-width="2"/>
<rect x="622.26" y="142.60" width="9" height="9" fill="rgb(0,230,0)" fill-opacity="0.4" stroke="#000" stroke-width="2"/>
<rect x="691.26" y="142.60" width="9" height="9" fill="rgb(0,230,0)" fill-opacity="0.4" stroke="#000" stroke-width="2"/>
<rect x="604.96" y="168.70" width="9" height="9" fill="rgb(0,230,0)" fill-opacity="0.4" stroke="#000" stroke-width="2"/>
<rect x="708.56" y="168.70" width="9" height="9" fill="rgb(0,230,0)" fill-opacity="0.4" stroke="#000" stroke-width="2"/>
</g>
<path d="M589.66,481.20h4M732.86,481.20h-4M589.66,414.39h4M732.86,414.39h-4M589.66,347.57h4M732.86,347.57h-4M589.66,280.76h4M732.86,280.76h-4M589.66,213.94h4M732.86,213.94h-4M589.66,147.13h4M732.86,147.13h-4M589.66,80.31h4M732.86,80.31h-4M589.66,13.50h4M732.86,13.50h-4M625.46,13.50v4M625.46,481.20v-4M661.26,13.50v4M661.26,481.20v-4M697.06,13.50v4M697.06,481.20v-4" stroke="#222" stroke-width="1" fill="none"/>
<rect x="589.50" y="13.50" width="143.00" height="468.00" fill="none" stroke="#000" stroke-width="1.2"/>
<g clip-path="url(#c4)">
<line x1="764.23" x2="902.43" y1="248.82" y2="248.82" stroke="rgb(186,214,186)" stroke-width="1.5"/>
<line x1="762.73" x2="903.93" y1="164.79" y2="164.79" stroke="rgb(236,236,236)" stroke-width="1.6"/>
<path d="M761.7,297.7L762.2,297.9L762.6,298.1L763.1,298.3L763.5,298.5L764.0,298.7L764.4,298.9L764.9,299.1L765.3,299.3L765.8,299.5L766.2,299.7L766.7,299.9L767.1,300.1L767.6,300.3L768.0,300.5L768.5,300.6L768.9,300.8L769.4,301.0L769.8,301.2L770.3,301.4L770.7,301.6L771.2,301.7L771.6,301.9L772.1,302.1L772.5,302.3L773.0,302.5L773.4,302.6L773.9,302.8L774.3,303.0L774.8,303.1L775.2,303.3L775.7,303.5L776.1,303.6L776.6,303.8L777.0,304.0L777.5,304.1L777.9,304.3L778.4,304.5L778.8,304.6L779.3,304.8L779.7,304.9L780.2,305.1L780.6,305.2L781.1,305.4L781.5,305.5L782.0,305.7L782.4,305.8L782.9,306.0L783.3,306.1L783.8,306.3L784.2,306.4L784.7,306.6L785.1,306.7L785.6,306.8L786.0,307.0L786.5,307.1L786.9,307.2L787.4,307.4L787.8,307.5L788.3,307.6L788.7,307.8L789.2,307.9L789.6,308.0L790.1,308.2L790.6,308.3L791.0,308.4L791.5,308.5L791.9,308.6L792.4,308.8L792.8,308.9L793.3,309.0L793.7,309.1L794.2,309.2L794.6,309.3L795.1,309.5L795.5,309.6L796.0,309.7L796.4,309.8L796.9,309.9L797.3,310.0L797.8,310.1L798.2,310.2L798.7,310.3L799.1,310.4L799.6,310.5L800.0,310.6L800.5,310.7L800.9,310.8L801.4,310.9L801.8,311.0L802.3,311.1L802.7,311.1L803.2,311.2L803.6,311.3L804.1,311.4L804.5,311.5L805.0,311.6L805.4,311.7L805.9,311.7L806.3,311.8L806.8,311.9L807.2,312.0L807.7,312.0L808.1,312.1L808.6,312.2L809.0,312.3L809.5,312.3L809.9,312.4L810.4,312.5L810.8,312.5L811.3,312.6L811.7,312.7L812.2,312.7L812.6,312.8L813.1,312.8L813.5,312.9L814.0,313.0L814.4,313.0L814.9,313.1L815.3,313.1L815.8,313.2L816.2,313.2L816.7,313.3L817.1,313.3L817.6,313.4L818.0,313.4L818.5,313.5L818.9,313.5L819.4,313.5L819.8,313.6L820.3,313.6L820.7,313.7L821.2,313.7L821.6,313.7L822.1,313.8L822.5,313.8L823.0,313.8L823.4,313.8L823.9,313.9L824.3,313.9L824.8,313.9L825.2,314.0L825.7,314.0L826.1,314.0L826.6,314.0L827.0,314.0L827.5,314.1L827.9,314.1L828.4,314.1L828.8,314.1L829.3,314.1L829.7,314.1L830.2,314.1L830.6,314.1L831.1,314.1L831.5,314.2L832.0,314.2L832.4,314.2L832.9,314.2L833.3,314.2L833.8,314.2L834.2,314.2L834.7,314.2L835.1,314.2L835.6,314.1L836.0,314.1L836.5,314.1L836.9,314.1L837.4,314.1L837.8,314.1L838.3,314.1L838.7,314.1L839.2,314.1L839.6,314.0L840.1,314.0L840.5,314.0L841.0,314.0L841.4,314.0L841.9,313.9L842.3,313.9L842.8,313.9L843.2,313.8L843.7,313.8L844.1,313.8L844.6,313.8L845.0,313.7L845.5,313.7L845.9,313.7L846.4,313.6L846.8,313.6L847.3,313.5L847.7,313.5L848.2,313.5L848.6,313.4L849.1,313.4L849.5,313.3L850.0,313.3L850.4,313.2L850.9,313.2L851.3,313.1L851.8,313.1L852.2,313.0L852.7,313.0L853.1,312.9L853.6,312.8L854.0,312.8L854.5,312.7L854.9,312.7L855.4,312.6L855.8,312.5L856.3,312.5L856.7,312.4L857.2,312.3L857.6,312.3L858.1,312.2L858.5,312.1L859.0,312.0L859.4,312.0L859.9,311.9L860.3,311.8L860.8,311.7L861.2,311.7L861.7,311.6L862.2,311.5L862.6,311.4L863.1,311.3L863.5,311.2L864.0,311.1L864.4,311.1L864.9,311.0L865.3,310.9L865.8,310.8L866.2,310.7L866.7,310.6L867.1,310.5L867.6,310.4L868.0,310.3L868.5,310.2L868.9,310.1L869.4,310.0L869.8,309.9L870.3,309.8L870.7,309.7L871.2,309.6L871.6,309.5L872.1,309.3L872.5,309.2L873.0,309.1L873.4,309.0L873.9,308.9L874.3,308.8L874.8,308.6L875.2,308.5L875.7,308.4L876.1,308.3L876.6,308.2L877.0,308.0L877.5,307.9L877.9,307.8L878.4,307.6L878.8,307.5L879.3,307.4L879.7,307.2L880.2,307.1L880.6,307.0L881.1,306.8L881.5,306.7L882.0,306.6L882.4,306.4L882.9,306.3L883.3,306.1L883.8,306.0L884.2,305.8L884.7,305.7L885.1,305.5L885.6,305.4L886.0,305.2L886.5,305.1L886.9,304.9L887.4,304.8L887.8,304.6L888.3,304.5L888.7,304.3L889.2,304.1L889.6,304.0L890.1,303.8L890.5,303.6L891.0,303.5L891.4,303.3L891.9,303.1L892.3,303.0L892.8,302.8L893.2,302.6L893.7,302.5L894.1,302.3L894.6,302.1L895.0,301.9L895.5,301.7L895.9,301.6L896.4,301.4L896.8,301.2L897.3,301.0L897.7,300.8L898.2,300.6L898.6,300.5L899.1,300.3L899.5,300.1L900.0,299.9L900.4,299.7L900.9,299.5L901.3,299.3L901.8,299.1L902.2,298.9L902.7,298.7L903.1,298.5L903.6,298.3L904.0,298.1L904.5,297.9L904.9,297.7" fill="none" stroke="#fff" stroke-width="3.60" stroke-linejoin="round"/>
<path d="M761.7,297.7L762.2,297.5L762.6,297.3L763.1,297.1L763.5,296.8L764.0,296.6L764.4,296.4L764.9,296.2L765.3,296.0L765.8,295.8L766.2,295.5L766.7,295.3L767.1,295.1L767.6,294.9L768.0,294.6L768.5,294.4L768.9,294.2L769.4,294.0L769.8,293.7L770.3,293.5L770.7,293.3L771.2,293.0L771.6,292.8L772.1,292.6L772.5,292.3L773.0,292.1L773.4,291.8L773.9,291.6L774.3,291.4L774.8,291.1L775.2,290.9L775.7,290.6L776.1,290.4L776.6,290.1L777.0,289.9L777.5,289.6L777.9,289.4L778.4,289.1L778.8,288.9L779.3,288.6L779.7,288.3L780.2,288.1L780.6,287.8L781.1,287.6L781.5,287.3L782.0,287.0L782.4,286.8L782.9,286.5L783.3,286.2L783.8,286.0L784.2,285.7L784.7,285.4L785.1,285.1L785.6,284.9L786.0,284.6L786.5,284.3L786.9,284.0L787.4,283.7L787.8,283.5L788.3,283.2L788.7,282.9L789.2,282.6L789.6,282.3L790.1,282.0L790.6,281.7L791.0,281.4L791.5,281.2L791.9,280.9L792.4,280.6L792.8,280.3L793.3,280.0L793.7,279.7L794.2,279.4L794.6,279.1L795.1,278.8L795.5,278.5L796.0,278.2L796.4,277.8L796.9,277.5L797.3,277.2L797.8,276.9L798.2,276.6L798.7,276.3L799.1,276.0L799.6,275.7L800.0,275.3L800.5,275.0L800.9,274.7L801.4,274.4L801.8,274.1L802.3,273.7L802.7,273.4L803.2,273.1L803.6,272.8L804.1,272.4L804.5,272.1L805.0,271.8L805.4,271.4L805.9,271.1L806.3,270.8L806.8,270.4L807.2,270.1L807.7,269.7L808.1,269.4L808.6,269.1L809.0,268.7L809.5,268.4L809.9,268.0L810.4,267.7L810.8,267.3L811.3,267.0L811.7,266.6L812.2,266.3L812.6,265.9L813.1,265.6L813.5,265.2L814.0,264.8L814.4,264.5L814.9,264.1L815.3,263.8L815.8,263.4L816.2,263.0L816.7,262.7L817.1,262.3L817.6,261.9L818.0,261.6L818.5,261.2L818.9,260.8L819.4,260.5L819.8,260.1L820.3,259.7L820.7,259.3L821.2,258.9L821.6,258.6L822.1,258.2L822.5,257.8L823.0,257.4L823.4,257.0L823.9,256.6L824.3,256.3L824.8,255.9L825.2,255.5L825.7,255.1L826.1,254.7L826.6,254.3L827.0,253.9L827.5,253.5L827.9,253.1L828.4,252.7L828.8,252.3L829.3,251.9L829.7,251.5L830.2,251.1L830.6,250.7L831.1,250.3L831.5,249.9L832.0,249.5L832.4,249.0L832.9,248.6L833.3,248.2L833.8,248.6L834.2,249.0L834.7,249.5L835.1,249.9L835.6,250.3L836.0,250.7L836.5,251.1L836.9,251.5L837.4,251.9L837.8,252.3L838.3,252.7L838.7,253.1L839.2,253.5L839.6,253.9L840.1,254.3L840.5,254.7L841.0,255.1L841.4,255.5L841.9,255.9L842.3,256.3L842.8,256.6L843.2,257.0L843.7,257.4L844.1,257.8L844.6,258.2L845.0,258.6L845.5,258.9L845.9,259.3L846.4,259.7L846.8,260.1L847.3,260.5L847.7,260.8L848.2,261.2L848.6,261.6L849.1,261.9L849.5,262.3L850.0,262.7L850.4,263.0L850.9,263.4L851.3,263.8L851.8,264.1L852.2,264.5L852.7,264.8L853.1,265.2L853.6,265.6L854.0,265.9L854.5,266.3L854.9,266.6L855.4,267.0L855.8,267.3L856.3,267.7L856.7,268.0L857.2,268.4L857.6,268.7L858.1,269.1L858.5,269.4L859.0,269.7L859.4,270.1L859.9,270.4L860.3,270.8L860.8,271.1L861.2,271.4L861.7,271.8L862.2,272.1L862.6,272.4L863.1,272.8L863.5,273.1L864.0,273.4L864.4,273.7L864.9,274.1L865.3,274.4L865.8,274.7L866.2,275.0L866.7,275.3L867.1,275.7L867.6,276.0L868.0,276.3L868.5,276.6L868.9,276.9L869.4,277.2L869.8,277.5L870.3,277.8L870.7,278.2L871.2,278.5L871.6,278.8L872.1,279.1L872.5,279.4L873.0,279.7L873.4,280.0L873.9,280.3L874.3,280.6L874.8,280.9L875.2,281.2L875.7,281.4L876.1,281.7L876.6,282.0L877.0,282.3L877.5,282.6L877.9,282.9L878.4,283.2L878.8,283.5L879.3,283.7L879.7,284.0L880.2,284.3L880.6,284.6L881.1,284.9L881.5,285.1L882.0,285.4L882.4,285.7L882.9,286.0L883.3,286.2L883.8,286.5L884.2,286.8L884.7,287.0L885.1,287.3L885.6,287.6L886.0,287.8L886.5,288.1L886.9,288.3L887.4,288.6L887.8,288.9L888.3,289.1L888.7,289.4L889.2,289.6L889.6,289.9L890.1,290.1L890.5,290.4L891.0,290.6L891.4,290.9L891.9,291.1L892.3,291.4L892.8,291.6L893.2,291.8L893.7,292.1L894.1,292.3L894.6,292.6L895.0,292.8L895.5,293.0L895.9,293.3L896.4,293.5L896.8,293.7L897.3,294.0L897.7,294.2L898.2,294.4L898.6,294.6L899.1,294.9L899.5,295.1L900.0,295.3L900.4,295.5L900.9,295.8L901.3,296.0L901.8,296.2L902.2,296.4L902.7,296.6L903.1,296.8L903.6,297.1L904.0,297.3L904.5,297.5L904.9,297.7" fill="none" stroke="#fff" stroke-width="3.60" stroke-linejoin="round"/>
<path d="M761.7,165.8L762.2,166.4L762.6,167.0L763.1,167.7L763.5,168.3L764.0,168.9L764.4,169.5L764.9,170.1L765.3,170.7L765.8,171.3L766.2,171.9L766.7,172.6L767.1,173.2L767.6,173.8L768.0,174.4L768.5,175.0L768.9,175.6L769.4,176.2L769.8,176.8L770.3,177.4L770.7,178.0L771.2,178.6L771.6,179.2L772.1,179.8L772.5,180.3L773.0,180.9L773.4,181.5L773.9,182.1L774.3,182.7L774.8,183.3L775.2,183.9L775.7,184.5L776.1,185.0L776.6,185.6L777.0,186.2L777.5,186.8L777.9,187.3L778.4,187.9L778.8,188.5L779.3,189.1L779.7,189.6L780.2,190.2L780.6,190.8L781.1,191.3L781.5,191.9L782.0,192.5L782.4,193.0L782.9,193.6L783.3,194.2L783.8,194.7L784.2,195.3L784.7,195.8L785.1,196.4L785.6,196.9L786.0,197.5L786.5,198.0L786.9,198.6L787.4,199.1L787.8,199.7L788.3,200.2L788.7,200.8L789.2,201.3L789.6,201.9L790.1,202.4L790.6,202.9L791.0,203.5L791.5,204.0L791.9,204.5L792.4,205.1L792.8,205.6L793.3,206.1L793.7,206.7L794.2,207.2L794.6,207.7L795.1,208.3L795.5,208.8L796.0,209.3L796.4,209.8L796.9,210.3L797.3,210.9L797.8,211.4L798.2,211.9L798.7,212.4L799.1,212.9L799.6,213.4L800.0,214.0L800.5,214.5L800.9,215.0L801.4,215.5L801.8,216.0L802.3,216.5L802.7,217.0L803.2,217.5L803.6,218.0L804.1,218.5L804.5,219.0L805.0,219.5L805.4,220.0L805.9,220.5L806.3,221.0L806.8,221.5L807.2,222.0L807.7,222.5L808.1,223.0L808.6,223.4L809.0,223.9L809.5,224.4L809.9,224.9L810.4,225.4L810.8,225.9L811.3,226.3L811.7,226.8L812.2,227.3L812.6,227.8L813.1,228.2L813.5,228.7L814.0,229.2L814.4,229.7L814.9,230.1L815.3,230.6L815.8,231.1L816.2,231.5L816.7,232.0L817.1,232.4L817.6,232.9L818.0,233.4L818.5,233.8L818.9,234.3L819.4,234.7L819.8,235.2L820.3,235.6L820.7,236.1L821.2,236.5L821.6,237.0L822.1,237.4L822.5,237.9L823.0,238.3L823.4,238.8L823.9,239.2L824.3,239.7L824.8,240.1L825.2,240.5L825.7,241.0L826.1,241.4L826.6,241.9L827.0,242.3L827.5,242.7L827.9,243.2L828.4,243.6L828.8,244.0L829.3,244.4L829.7,244.9L830.2,245.3L830.6,245.7L831.1,246.1L831.5,246.6L832.0,247.0L832.4,247.4L832.9,247.8L833.3,248.2L833.8,247.8L834.2,247.4L834.7,247.0L835.1,246.6L835.6,246.1L836.0,245.7L836.5,245.3L836.9,244.9L837.4,244.4L837.8,244.0L838.3,243.6L838.7,243.2L839.2,242.7L839.6,242.3L840.1,241.9L840.5,241.4L841.0,241.0L841.4,240.5L841.9,240.1L842.3,239.7L842.8,239.2L843.2,238.8L843.7,238.3L844.1,237.9L844.6,237.4L845.0,237.0L845.5,236.5L845.9,236.1L846.4,235.6L846.8,235.2L847.3,234.7L847.7,234.3L848.2,233.8L848.6,233.4L849.1,232.9L849.5,232.4L850.0,232.0L850.4,231.5L850.9,231.1L851.3,230.6L851.8,230.1L852.2,229.7L852.7,229.2L853.1,228.7L853.6,228.2L854.0,227.8L854.5,227.3L854.9,226.8L855.4,226.3L855.8,225.9L856.3,225.4L856.7,224.9L857.2,224.4L857.6,223.9L858.1,223.4L858.5,223.0L859.0,222.5L859.4,222.0L859.9,221.5L860.3,221.0L860.8,220.5L861.2,220.0L861.7,219.5L862.2,219.0L862.6,218.5L863.1,218.0L863.5,217.5L864.0,217.0L864.4,216.5L864.9,216.0L865.3,215.5L865.8,215.0L866.2,214.5L866.7,214.0L867.1,213.4L867.6,212.9L868.0,212.4L868.5,211.9L868.9,211.4L869.4,210.9L869.8,210.3L870.3,209.8L870.7,209.3L871.2,208.8L871.6,208.3L872.1,207.7L872.5,207.2L873.0,206.7L873.4,206.1L873.9,205.6L874.3,205.1L874.8,204.5L875.2,204.0L875.7,203.5L876.1,202.9L876.6,202.4L877.0,201.9L877.5,201.3L877.9,200.8L878.4,200.2L878.8,199.7L879.3,199.1L879.7,198.6L880.2,198.0L880.6,197.5L881.1,196.9L881.5,196.4L882.0,195.8L882.4,195.3L882.9,194.7L883.3,194.2L883.8,193.6L884.2,193.0L884.7,192.5L885.1,191.9L885.6,191.3L886.0,190.8L886.5,190.2L886.9,189.6L887.4,189.1L887.8,188.5L888.3,187.9L888.7,187.3L889.2,186.8L889.6,186.2L890.1,185.6L890.5,185.0L891.0,184.5L891.4,183.9L891.9,183.3L892.3,182.7L892.8,182.1L893.2,181.5L893.7,180.9L894.1,180.3L894.6,179.8L895.0,179.2L895.5,178.6L895.9,178.0L896.4,177.4L896.8,176.8L897.3,176.2L897.7,175.6L898.2,175.0L898.6,174.4L899.1,173.8L899.5,173.2L900.0,172.6L900.4,171.9L900.9,171.3L901.3,170.7L901.8,170.1L902.2,169.5L902.7,168.9L903.1,168.3L903.6,167.7L904.0,167.0L904.5,166.4L904.9,165.8" fill="none" stroke="#fff" stroke-width="3.60" stroke-linejoin="round"/>
<path d="M761.7,165.8L762.2,165.2L762.6,164.5L763.1,163.9L763.5,163.3L764.0,162.7L764.4,162.0L764.9,161.4L765.3,160.8L765.8,160.1L766.2,159.5L766.7,158.9L767.1,158.2L767.6,157.6L768.0,157.0L768.5,156.3L768.9,155.7L769.4,155.0L769.8,154.4L770.3,153.7L770.7,153.1L771.2,152.4L771.6,151.8L772.1,151.1L772.5,150.5L773.0,149.8L773.4,149.2L773.9,148.5L774.3,147.9L774.8,147.2L775.2,146.5L775.7,145.9L776.1,145.2L776.6,144.6L777.0,143.9L777.5,143.2L777.9,142.6L778.4,141.9L778.8,141.2L779.3,140.5L779.7,139.9L780.2,139.2L780.6,138.5L781.1,137.8L781.5,137.2L782.0,136.5L782.4,135.8L782.9,135.1L783.3,134.4L783.8,133.7L784.2,133.1L784.7,132.4L785.1,131.7L785.6,131.0L786.0,130.3L786.5,129.6L786.9,128.9L787.4,128.2L787.8,127.5L788.3,126.8L788.7,126.1L789.2,125.4L789.6,124.7L790.1,124.0L790.6,123.3L791.0,122.6L791.5,121.9L791.9,121.2L792.4,120.5L792.8,119.8L793.3,119.0L793.7,118.3L794.2,117.6L794.6,116.9L795.1,116.2L795.5,115.5L796.0,114.7L796.4,114.0L796.9,113.3L797.3,112.6L797.8,111.9L798.2,111.1L798.7,110.4L799.1,109.7L799.6,108.9L800.0,108.2L800.5,107.5L800.9,106.7L801.4,106.0L801.8,105.3L802.3,104.5L802.7,103.8L803.2,103.0L803.6,102.3L804.1,101.6L804.5,100.8L805.0,100.1L805.4,99.3L805.9,98.6L806.3,97.8L806.8,97.1L807.2,96.3L807.7,95.6L808.1,94.8L808.6,94.0L809.0,93.3L809.5,92.5L809.9,91.8L810.4,91.0L810.8,90.2L811.3,89.5L811.7,88.7L812.2,87.9L812.6,87.2L813.1,86.4L813.5,85.6L814.0,84.9L814.4,84.1L814.9,83.3L815.3,82.5L815.8,81.7L816.2,81.0L816.7,80.2L817.1,79.4L817.6,78.6L818.0,77.8L818.5,77.1L818.9,76.3L819.4,75.5L819.8,74.7L820.3,73.9L820.7,73.1L821.2,72.3L821.6,71.5L822.1,70.7L822.5,69.9L823.0,69.1L823.4,68.3L823.9,67.5L824.3,66.7L824.8,65.9L825.2,65.1L825.7,64.3L826.1,63.5L826.6,62.7L827.0,61.9L827.5,61.1L827.9,60.3L828.4,59.4L828.8,58.6L829.3,57.8L829.7,57.0L830.2,56.2L830.6,55.3L831.1,54.5L831.5,53.7L832.0,52.9L832.4,52.0L832.9,51.2L833.3,50.4L833.8,51.2L834.2,52.0L834.7,52.9L835.1,53.7L835.6,54.5L836.0,55.3L836.5,56.2L836.9,57.0L837.4,57.8L837.8,58.6L838.3,59.4L838.7,60.3L839.2,61.1L839.6,61.9L840.1,62.7L840.5,63.5L841.0,64.3L841.4,65.1L841.9,65.9L842.3,66.7L842.8,67.5L843.2,68.3L843.7,69.1L844.1,69.9L844.6,70.7L845.0,71.5L845.5,72.3L845.9,73.1L846.4,73.9L846.8,74.7L847.3,75.5L847.7,76.3L848.2,77.1L848.6,77.8L849.1,78.6L849.5,79.4L850.0,80.2L850.4,81.0L850.9,81.7L851.3,82.5L851.8,83.3L852.2,84.1L852.7,84.9L853.1,85.6L853.6,86.4L854.0,87.2L854.5,87.9L854.9,88.7L855.4,89.5L855.8,90.2L856.3,91.0L856.7,91.8L857.2,92.5L857.6,93.3L858.1,94.0L858.5,94.8L859.0,95.6L859.4,96.3L859.9,97.1L860.3,97.8L860.8,98.6L861.2,99.3L861.7,100.1L862.2,100.8L862.6,101.6L863.1,102.3L863.5,103.0L864.0,103.8L864.4,104.5L864.9,105.3L865.3,106.0L865.8,106.7L866.2,107.5L866.7,108.2L867.1,108.9L867.6,109.7L868.0,110.4L868.5,111.1L868.9,111.9L869.4,112.6L869.8,113.3L870.3,114.0L870.7,114.7L871.2,115.5L871.6,116.2L872.1,116.9L872.5,117.6L873.0,118.3L873.4,119.0L873.9,119.8L874.3,120.5L874.8,121.2L875.2,121.9L875.7,122.6L876.1,123.3L876.6,124.0L877.0,124.7L877.5,125.4L877.9,126.1L878.4,126.8L878.8,127.5L879.3,128.2L879.7,128.9L880.2,129.6L880.6,130.3L881.1,131.0L881.5,131.7L882.0,132.4L882.4,133.1L882.9,133.7L883.3,134.4L883.8,135.1L884.2,135.8L884.7,136.5L885.1,137.2L885.6,137.8L886.0,138.5L886.5,139.2L886.9,139.9L887.4,140.5L887.8,141.2L888.3,141.9L888.7,142.6L889.2,143.2L889.6,143.9L890.1,144.6L890.5,145.2L891.0,145.9L891.4,146.5L891.9,147.2L892.3,147.9L892.8,148.5L893.2,149.2L893.7,149.8L894.1,150.5L894.6,151.1L895.0,151.8L895.5,152.4L895.9,153.1L896.4,153.7L896.8,154.4L897.3,155.0L897.7,155.7L898.2,156.3L898.6,157.0L899.1,157.6L899.5,158.2L900.0,158.9L900.4,159.5L900.9,160.1L901.3,160.8L901.8,161.4L902.2,162.0L902.7,162.7L903.1,163.3L903.6,163.9L904.0,164.5L904.5,165.2L904.9,165.8" fill="none" stroke="#fff" stroke-width="3.60" stroke-linejoin="round"/>
<path d="M826.43,306.76h13.80v13.80h-13.80zM826.43,306.76h13.80v13.80h-13.80zM790.63,303.06h13.80v13.80h-13.80zM862.23,303.06h13.80v13.80h-13.80zM775.63,299.06h13.80v13.80h-13.80zM877.23,299.06h13.80v13.80h-13.80zM764.53,295.06h13.80v13.80h-13.80zM888.33,295.06h13.80v13.80h-13.80zM754.83,290.46h13.80v13.80h-13.80zM898.03,290.46h13.80v13.80h-13.80zM826.43,241.06h13.80v13.80h-13.80zM826.43,241.06h13.80v13.80h-13.80zM811.53,254.26h13.80v13.80h-13.80zM841.33,254.26h13.80v13.80h-13.80zM795.83,266.26h13.80v13.80h-13.80zM857.03,266.26h13.80v13.80h-13.80zM777.53,278.66h13.80v13.80h-13.80zM875.33,278.66h13.80v13.80h-13.80zM754.83,290.46h13.80v13.80h-13.80zM898.03,290.46h13.80v13.80h-13.80zM826.43,241.06h13.80v13.80h-13.80zM826.43,241.06h13.80v13.80h-13.80zM805.13,220.16h13.80v13.80h-13.80zM847.73,220.16h13.80v13.80h-13.80zM786.73,200.06h13.80v13.80h-13.80zM866.13,200.06h13.80v13.80h-13.80zM770.03,179.46h13.80v13.80h-13.80zM882.83,179.46h13.80v13.80h-13.80zM754.83,159.06h13.80v13.80h-13.80zM898.03,159.06h13.80v13.80h-13.80zM826.43,44.86h13.80v13.80h-13.80zM826.43,44.86h13.80v13.80h-13.80zM809.43,73.56h13.80v13.80h-13.80zM843.43,73.56h13.80v13.80h-13.80zM792.73,101.96h13.80v13.80h-13.80zM860.13,101.96h13.80v13.80h-13.80zM774.63,130.36h13.80v13.80h-13.80zM878.23,130.36h13.80v13.80h-13.80zM754.83,159.06h13.80v13.80h-13.80zM898.03,159.06h13.80v13.80h-13.80z" fill="#fff"/>
<g>
<path d="M761.73,314.97L762.54,314.16M761.73,322.42L769.99,314.16M761.73,329.87L777.44,314.16M761.73,337.32L784.89,314.16M761.73,344.77L792.34,314.16M761.73,352.22L799.79,314.16M761.73,359.67L807.24,314.16M761.73,367.12L814.69,314.16M761.73,374.57L822.14,314.16M761.73,382.02L829.59,314.16M761.73,389.47L837.04,314.16M761.73,396.92L844.49,314.16M761.73,404.37L851.94,314.16M761.73,411.82L859.39,314.16M761.73,419.27L866.84,314.16M761.73,426.72L874.29,314.16M761.73,434.17L881.74,314.16M761.73,441.62L889.19,314.16M761.73,449.07L896.64,314.16M761.73,456.52L904.09,314.16M761.73,463.97L904.93,320.77M761.73,471.42L904.93,328.22M761.73,478.87L904.93,335.67M766.85,481.20L904.93,343.12M774.30,481.20L904.93,350.57M781.75,481.20L904.93,358.02M789.20,481.20L904.93,365.47M796.65,481.20L904.93,372.92M804.10,481.20L904.93,380.37M811.55,481.20L904.93,387.82M819.00,481.20L904.93,395.27M826.45,481.20L904.93,402.72M833.90,481.20L904.93,410.17M841.35,481.20L904.93,417.62M848.80,481.20L904.93,425.07M856.25,481.20L904.93,432.52M863.70,481.20L904.93,439.97M871.15,481.20L904.93,447.42M878.60,481.20L904.93,454.87M886.05,481.20L904.93,462.32M893.50,481.20L904.93,469.77M900.95,481.20L904.93,477.22" stroke="#959595" stroke-width="0.9" fill="none"/>
</g>
<rect x="761.73" y="314.16" width="143.20" height="167.04" fill="none" stroke="#000" stroke-width="1"/>
<path d="M761.7,297.7L762.2,297.9L762.6,298.1L763.1,298.3L763.5,298.5L764.0,298.7L764.4,298.9L764.9,299.1L765.3,299.3L765.8,299.5L766.2,299.7L766.7,299.9L767.1,300.1L767.6,300.3L768.0,300.5L768.5,300.6L768.9,300.8L769.4,301.0L769.8,301.2L770.3,301.4L770.7,301.6L771.2,301.7L771.6,301.9L772.1,302.1L772.5,302.3L773.0,302.5L773.4,302.6L773.9,302.8L774.3,303.0L774.8,303.1L775.2,303.3L775.7,303.5L776.1,303.6L776.6,303.8L777.0,304.0L777.5,304.1L777.9,304.3L778.4,304.5L778.8,304.6L779.3,304.8L779.7,304.9L780.2,305.1L780.6,305.2L781.1,305.4L781.5,305.5L782.0,305.7L782.4,305.8L782.9,306.0L783.3,306.1L783.8,306.3L784.2,306.4L784.7,306.6L785.1,306.7L785.6,306.8L786.0,307.0L786.5,307.1L786.9,307.2L787.4,307.4L787.8,307.5L788.3,307.6L788.7,307.8L789.2,307.9L789.6,308.0L790.1,308.2L790.6,308.3L791.0,308.4L791.5,308.5L791.9,308.6L792.4,308.8L792.8,308.9L793.3,309.0L793.7,309.1L794.2,309.2L794.6,309.3L795.1,309.5L795.5,309.6L796.0,309.7L796.4,309.8L796.9,309.9L797.3,310.0L797.8,310.1L798.2,310.2L798.7,310.3L799.1,310.4L799.6,310.5L800.0,310.6L800.5,310.7L800.9,310.8L801.4,310.9L801.8,311.0L802.3,311.1L802.7,311.1L803.2,311.2L803.6,311.3L804.1,311.4L804.5,311.5L805.0,311.6L805.4,311.7L805.9,311.7L806.3,311.8L806.8,311.9L807.2,312.0L807.7,312.0L808.1,312.1L808.6,312.2L809.0,312.3L809.5,312.3L809.9,312.4L810.4,312.5L810.8,312.5L811.3,312.6L811.7,312.7L812.2,312.7L812.6,312.8L813.1,312.8L813.5,312.9L814.0,313.0L814.4,313.0L814.9,313.1L815.3,313.1L815.8,313.2L816.2,313.2L816.7,313.3L817.1,313.3L817.6,313.4L818.0,313.4L818.5,313.5L818.9,313.5L819.4,313.5L819.8,313.6L820.3,313.6L820.7,313.7L821.2,313.7L821.6,313.7L822.1,313.8L822.5,313.8L823.0,313.8L823.4,313.8L823.9,313.9L824.3,313.9L824.8,313.9L825.2,314.0L825.7,314.0L826.1,314.0L826.6,314.0L827.0,314.0L827.5,314.1L827.9,314.1L828.4,314.1L828.8,314.1L829.3,314.1L829.7,314.1L830.2,314.1L830.6,314.1L831.1,314.1L831.5,314.2L832.0,314.2L832.4,314.2L832.9,314.2L833.3,314.2L833.8,314.2L834.2,314.2L834.7,314.2L835.1,314.2L835.6,314.1L836.0,314.1L836.5,314.1L836.9,314.1L837.4,314.1L837.8,314.1L838.3,314.1L838.7,314.1L839.2,314.1L839.6,314.0L840.1,314.0L840.5,314.0L841.0,314.0L841.4,314.0L841.9,313.9L842.3,313.9L842.8,313.9L843.2,313.8L843.7,313.8L844.1,313.8L844.6,313.8L845.0,313.7L845.5,313.7L845.9,313.7L846.4,313.6L846.8,313.6L847.3,313.5L847.7,313.5L848.2,313.5L848.6,313.4L849.1,313.4L849.5,313.3L850.0,313.3L850.4,313.2L850.9,313.2L851.3,313.1L851.8,313.1L852.2,313.0L852.7,313.0L853.1,312.9L853.6,312.8L854.0,312.8L854.5,312.7L854.9,312.7L855.4,312.6L855.8,312.5L856.3,312.5L856.7,312.4L857.2,312.3L857.6,312.3L858.1,312.2L858.5,312.1L859.0,312.0L859.4,312.0L859.9,311.9L860.3,311.8L860.8,311.7L861.2,311.7L861.7,311.6L862.2,311.5L862.6,311.4L863.1,311.3L863.5,311.2L864.0,311.1L864.4,311.1L864.9,311.0L865.3,310.9L865.8,310.8L866.2,310.7L866.7,310.6L867.1,310.5L867.6,310.4L868.0,310.3L868.5,310.2L868.9,310.1L869.4,310.0L869.8,309.9L870.3,309.8L870.7,309.7L871.2,309.6L871.6,309.5L872.1,309.3L872.5,309.2L873.0,309.1L873.4,309.0L873.9,308.9L874.3,308.8L874.8,308.6L875.2,308.5L875.7,308.4L876.1,308.3L876.6,308.2L877.0,308.0L877.5,307.9L877.9,307.8L878.4,307.6L878.8,307.5L879.3,307.4L879.7,307.2L880.2,307.1L880.6,307.0L881.1,306.8L881.5,306.7L882.0,306.6L882.4,306.4L882.9,306.3L883.3,306.1L883.8,306.0L884.2,305.8L884.7,305.7L885.1,305.5L885.6,305.4L886.0,305.2L886.5,305.1L886.9,304.9L887.4,304.8L887.8,304.6L888.3,304.5L888.7,304.3L889.2,304.1L889.6,304.0L890.1,303.8L890.5,303.6L891.0,303.5L891.4,303.3L891.9,303.1L892.3,303.0L892.8,302.8L893.2,302.6L893.7,302.5L894.1,302.3L894.6,302.1L895.0,301.9L895.5,301.7L895.9,301.6L896.4,301.4L896.8,301.2L897.3,301.0L897.7,300.8L898.2,300.6L898.6,300.5L899.1,300.3L899.5,300.1L900.0,299.9L900.4,299.7L900.9,299.5L901.3,299.3L901.8,299.1L902.2,298.9L902.7,298.7L903.1,298.5L903.6,298.3L904.0,298.1L904.5,297.9L904.9,297.7" fill="none" stroke="#0000b4" stroke-width="2" stroke-linejoin="round"/>
<path d="M761.7,297.7L762.2,297.5L762.6,297.3L763.1,297.1L763.5,296.8L764.0,296.6L764.4,296.4L764.9,296.2L765.3,296.0L765.8,295.8L766.2,295.5L766.7,295.3L767.1,295.1L767.6,294.9L768.0,294.6L768.5,294.4L768.9,294.2L769.4,294.0L769.8,293.7L770.3,293.5L770.7,293.3L771.2,293.0L771.6,292.8L772.1,292.6L772.5,292.3L773.0,292.1L773.4,291.8L773.9,291.6L774.3,291.4L774.8,291.1L775.2,290.9L775.7,290.6L776.1,290.4L776.6,290.1L777.0,289.9L777.5,289.6L777.9,289.4L778.4,289.1L778.8,288.9L779.3,288.6L779.7,288.3L780.2,288.1L780.6,287.8L781.1,287.6L781.5,287.3L782.0,287.0L782.4,286.8L782.9,286.5L783.3,286.2L783.8,286.0L784.2,285.7L784.7,285.4L785.1,285.1L785.6,284.9L786.0,284.6L786.5,284.3L786.9,284.0L787.4,283.7L787.8,283.5L788.3,283.2L788.7,282.9L789.2,282.6L789.6,282.3L790.1,282.0L790.6,281.7L791.0,281.4L791.5,281.2L791.9,280.9L792.4,280.6L792.8,280.3L793.3,280.0L793.7,279.7L794.2,279.4L794.6,279.1L795.1,278.8L795.5,278.5L796.0,278.2L796.4,277.8L796.9,277.5L797.3,277.2L797.8,276.9L798.2,276.6L798.7,276.3L799.1,276.0L799.6,275.7L800.0,275.3L800.5,275.0L800.9,274.7L801.4,274.4L801.8,274.1L802.3,273.7L802.7,273.4L803.2,273.1L803.6,272.8L804.1,272.4L804.5,272.1L805.0,271.8L805.4,271.4L805.9,271.1L806.3,270.8L806.8,270.4L807.2,270.1L807.7,269.7L808.1,269.4L808.6,269.1L809.0,268.7L809.5,268.4L809.9,268.0L810.4,267.7L810.8,267.3L811.3,267.0L811.7,266.6L812.2,266.3L812.6,265.9L813.1,265.6L813.5,265.2L814.0,264.8L814.4,264.5L814.9,264.1L815.3,263.8L815.8,263.4L816.2,263.0L816.7,262.7L817.1,262.3L817.6,261.9L818.0,261.6L818.5,261.2L818.9,260.8L819.4,260.5L819.8,260.1L820.3,259.7L820.7,259.3L821.2,258.9L821.6,258.6L822.1,258.2L822.5,257.8L823.0,257.4L823.4,257.0L823.9,256.6L824.3,256.3L824.8,255.9L825.2,255.5L825.7,255.1L826.1,254.7L826.6,254.3L827.0,253.9L827.5,253.5L827.9,253.1L828.4,252.7L828.8,252.3L829.3,251.9L829.7,251.5L830.2,251.1L830.6,250.7L831.1,250.3L831.5,249.9L832.0,249.5L832.4,249.0L832.9,248.6L833.3,248.2L833.8,248.6L834.2,249.0L834.7,249.5L835.1,249.9L835.6,250.3L836.0,250.7L836.5,251.1L836.9,251.5L837.4,251.9L837.8,252.3L838.3,252.7L838.7,253.1L839.2,253.5L839.6,253.9L840.1,254.3L840.5,254.7L841.0,255.1L841.4,255.5L841.9,255.9L842.3,256.3L842.8,256.6L843.2,257.0L843.7,257.4L844.1,257.8L844.6,258.2L845.0,258.6L845.5,258.9L845.9,259.3L846.4,259.7L846.8,260.1L847.3,260.5L847.7,260.8L848.2,261.2L848.6,261.6L849.1,261.9L849.5,262.3L850.0,262.7L850.4,263.0L850.9,263.4L851.3,263.8L851.8,264.1L852.2,264.5L852.7,264.8L853.1,265.2L853.6,265.6L854.0,265.9L854.5,266.3L854.9,266.6L855.4,267.0L855.8,267.3L856.3,267.7L856.7,268.0L857.2,268.4L857.6,268.7L858.1,269.1L858.5,269.4L859.0,269.7L859.4,270.1L859.9,270.4L860.3,270.8L860.8,271.1L861.2,271.4L861.7,271.8L862.2,272.1L862.6,272.4L863.1,272.8L863.5,273.1L864.0,273.4L864.4,273.7L864.9,274.1L865.3,274.4L865.8,274.7L866.2,275.0L866.7,275.3L867.1,275.7L867.6,276.0L868.0,276.3L868.5,276.6L868.9,276.9L869.4,277.2L869.8,277.5L870.3,277.8L870.7,278.2L871.2,278.5L871.6,278.8L872.1,279.1L872.5,279.4L873.0,279.7L873.4,280.0L873.9,280.3L874.3,280.6L874.8,280.9L875.2,281.2L875.7,281.4L876.1,281.7L876.6,282.0L877.0,282.3L877.5,282.6L877.9,282.9L878.4,283.2L878.8,283.5L879.3,283.7L879.7,284.0L880.2,284.3L880.6,284.6L881.1,284.9L881.5,285.1L882.0,285.4L882.4,285.7L882.9,286.0L883.3,286.2L883.8,286.5L884.2,286.8L884.7,287.0L885.1,287.3L885.6,287.6L886.0,287.8L886.5,288.1L886.9,288.3L887.4,288.6L887.8,288.9L888.3,289.1L888.7,289.4L889.2,289.6L889.6,289.9L890.1,290.1L890.5,290.4L891.0,290.6L891.4,290.9L891.9,291.1L892.3,291.4L892.8,291.6L893.2,291.8L893.7,292.1L894.1,292.3L894.6,292.6L895.0,292.8L895.5,293.0L895.9,293.3L896.4,293.5L896.8,293.7L897.3,294.0L897.7,294.2L898.2,294.4L898.6,294.6L899.1,294.9L899.5,295.1L900.0,295.3L900.4,295.5L900.9,295.8L901.3,296.0L901.8,296.2L902.2,296.4L902.7,296.6L903.1,296.8L903.6,297.1L904.0,297.3L904.5,297.5L904.9,297.7" fill="none" stroke="#c00000" stroke-width="2" stroke-linejoin="round"/>
<path d="M761.7,165.8L762.2,166.4L762.6,167.0L763.1,167.7L763.5,168.3L764.0,168.9L764.4,169.5L764.9,170.1L765.3,170.7L765.8,171.3L766.2,171.9L766.7,172.6L767.1,173.2L767.6,173.8L768.0,174.4L768.5,175.0L768.9,175.6L769.4,176.2L769.8,176.8L770.3,177.4L770.7,178.0L771.2,178.6L771.6,179.2L772.1,179.8L772.5,180.3L773.0,180.9L773.4,181.5L773.9,182.1L774.3,182.7L774.8,183.3L775.2,183.9L775.7,184.5L776.1,185.0L776.6,185.6L777.0,186.2L777.5,186.8L777.9,187.3L778.4,187.9L778.8,188.5L779.3,189.1L779.7,189.6L780.2,190.2L780.6,190.8L781.1,191.3L781.5,191.9L782.0,192.5L782.4,193.0L782.9,193.6L783.3,194.2L783.8,194.7L784.2,195.3L784.7,195.8L785.1,196.4L785.6,196.9L786.0,197.5L786.5,198.0L786.9,198.6L787.4,199.1L787.8,199.7L788.3,200.2L788.7,200.8L789.2,201.3L789.6,201.9L790.1,202.4L790.6,202.9L791.0,203.5L791.5,204.0L791.9,204.5L792.4,205.1L792.8,205.6L793.3,206.1L793.7,206.7L794.2,207.2L794.6,207.7L795.1,208.3L795.5,208.8L796.0,209.3L796.4,209.8L796.9,210.3L797.3,210.9L797.8,211.4L798.2,211.9L798.7,212.4L799.1,212.9L799.6,213.4L800.0,214.0L800.5,214.5L800.9,215.0L801.4,215.5L801.8,216.0L802.3,216.5L802.7,217.0L803.2,217.5L803.6,218.0L804.1,218.5L804.5,219.0L805.0,219.5L805.4,220.0L805.9,220.5L806.3,221.0L806.8,221.5L807.2,222.0L807.7,222.5L808.1,223.0L808.6,223.4L809.0,223.9L809.5,224.4L809.9,224.9L810.4,225.4L810.8,225.9L811.3,226.3L811.7,226.8L812.2,227.3L812.6,227.8L813.1,228.2L813.5,228.7L814.0,229.2L814.4,229.7L814.9,230.1L815.3,230.6L815.8,231.1L816.2,231.5L816.7,232.0L817.1,232.4L817.6,232.9L818.0,233.4L818.5,233.8L818.9,234.3L819.4,234.7L819.8,235.2L820.3,235.6L820.7,236.1L821.2,236.5L821.6,237.0L822.1,237.4L822.5,237.9L823.0,238.3L823.4,238.8L823.9,239.2L824.3,239.7L824.8,240.1L825.2,240.5L825.7,241.0L826.1,241.4L826.6,241.9L827.0,242.3L827.5,242.7L827.9,243.2L828.4,243.6L828.8,244.0L829.3,244.4L829.7,244.9L830.2,245.3L830.6,245.7L831.1,246.1L831.5,246.6L832.0,247.0L832.4,247.4L832.9,247.8L833.3,248.2L833.8,247.8L834.2,247.4L834.7,247.0L835.1,246.6L835.6,246.1L836.0,245.7L836.5,245.3L836.9,244.9L837.4,244.4L837.8,244.0L838.3,243.6L838.7,243.2L839.2,242.7L839.6,242.3L840.1,241.9L840.5,241.4L841.0,241.0L841.4,240.5L841.9,240.1L842.3,239.7L842.8,239.2L843.2,238.8L843.7,238.3L844.1,237.9L844.6,237.4L845.0,237.0L845.5,236.5L845.9,236.1L846.4,235.6L846.8,235.2L847.3,234.7L847.7,234.3L848.2,233.8L848.6,233.4L849.1,232.9L849.5,232.4L850.0,232.0L850.4,231.5L850.9,231.1L851.3,230.6L851.8,230.1L852.2,229.7L852.7,229.2L853.1,228.7L853.6,228.2L854.0,227.8L854.5,227.3L854.9,226.8L855.4,226.3L855.8,225.9L856.3,225.4L856.7,224.9L857.2,224.4L857.6,223.9L858.1,223.4L858.5,223.0L859.0,222.5L859.4,222.0L859.9,221.5L860.3,221.0L860.8,220.5L861.2,220.0L861.7,219.5L862.2,219.0L862.6,218.5L863.1,218.0L863.5,217.5L864.0,217.0L864.4,216.5L864.9,216.0L865.3,215.5L865.8,215.0L866.2,214.5L866.7,214.0L867.1,213.4L867.6,212.9L868.0,212.4L868.5,211.9L868.9,211.4L869.4,210.9L869.8,210.3L870.3,209.8L870.7,209.3L871.2,208.8L871.6,208.3L872.1,207.7L872.5,207.2L873.0,206.7L873.4,206.1L873.9,205.6L874.3,205.1L874.8,204.5L875.2,204.0L875.7,203.5L876.1,202.9L876.6,202.4L877.0,201.9L877.5,201.3L877.9,200.8L878.4,200.2L878.8,199.7L879.3,199.1L879.7,198.6L880.2,198.0L880.6,197.5L881.1,196.9L881.5,196.4L882.0,195.8L882.4,195.3L882.9,194.7L883.3,194.2L883.8,193.6L884.2,193.0L884.7,192.5L885.1,191.9L885.6,191.3L886.0,190.8L886.5,190.2L886.9,189.6L887.4,189.1L887.8,188.5L888.3,187.9L888.7,187.3L889.2,186.8L889.6,186.2L890.1,185.6L890.5,185.0L891.0,184.5L891.4,183.9L891.9,183.3L892.3,182.7L892.8,182.1L893.2,181.5L893.7,180.9L894.1,180.3L894.6,179.8L895.0,179.2L895.5,178.6L895.9,178.0L896.4,177.4L896.8,176.8L897.3,176.2L897.7,175.6L898.2,175.0L898.6,174.4L899.1,173.8L899.5,173.2L900.0,172.6L900.4,171.9L900.9,171.3L901.3,170.7L901.8,170.1L902.2,169.5L902.7,168.9L903.1,168.3L903.6,167.7L904.0,167.0L904.5,166.4L904.9,165.8" fill="none" stroke="#800080" stroke-width="2" stroke-linejoin="round"/>
<path d="M761.7,165.8L762.2,165.2L762.6,164.5L763.1,163.9L763.5,163.3L764.0,162.7L764.4,162.0L764.9,161.4L765.3,160.8L765.8,160.1L766.2,159.5L766.7,158.9L767.1,158.2L767.6,157.6L768.0,157.0L768.5,156.3L768.9,155.7L769.4,155.0L769.8,154.4L770.3,153.7L770.7,153.1L771.2,152.4L771.6,151.8L772.1,151.1L772.5,150.5L773.0,149.8L773.4,149.2L773.9,148.5L774.3,147.9L774.8,147.2L775.2,146.5L775.7,145.9L776.1,145.2L776.6,144.6L777.0,143.9L777.5,143.2L777.9,142.6L778.4,141.9L778.8,141.2L779.3,140.5L779.7,139.9L780.2,139.2L780.6,138.5L781.1,137.8L781.5,137.2L782.0,136.5L782.4,135.8L782.9,135.1L783.3,134.4L783.8,133.7L784.2,133.1L784.7,132.4L785.1,131.7L785.6,131.0L786.0,130.3L786.5,129.6L786.9,128.9L787.4,128.2L787.8,127.5L788.3,126.8L788.7,126.1L789.2,125.4L789.6,124.7L790.1,124.0L790.6,123.3L791.0,122.6L791.5,121.9L791.9,121.2L792.4,120.5L792.8,119.8L793.3,119.0L793.7,118.3L794.2,117.6L794.6,116.9L795.1,116.2L795.5,115.5L796.0,114.7L796.4,114.0L796.9,113.3L797.3,112.6L797.8,111.9L798.2,111.1L798.7,110.4L799.1,109.7L799.6,108.9L800.0,108.2L800.5,107.5L800.9,106.7L801.4,106.0L801.8,105.3L802.3,104.5L802.7,103.8L803.2,103.0L803.6,102.3L804.1,101.6L804.5,100.8L805.0,100.1L805.4,99.3L805.9,98.6L806.3,97.8L806.8,97.1L807.2,96.3L807.7,95.6L808.1,94.8L808.6,94.0L809.0,93.3L809.5,92.5L809.9,91.8L810.4,91.0L810.8,90.2L811.3,89.5L811.7,88.7L812.2,87.9L812.6,87.2L813.1,86.4L813.5,85.6L814.0,84.9L814.4,84.1L814.9,83.3L815.3,82.5L815.8,81.7L816.2,81.0L816.7,80.2L817.1,79.4L817.6,78.6L818.0,77.8L818.5,77.1L818.9,76.3L819.4,75.5L819.8,74.7L820.3,73.9L820.7,73.1L821.2,72.3L821.6,71.5L822.1,70.7L822.5,69.9L823.0,69.1L823.4,68.3L823.9,67.5L824.3,66.7L824.8,65.9L825.2,65.1L825.7,64.3L826.1,63.5L826.6,62.7L827.0,61.9L827.5,61.1L827.9,60.3L828.4,59.4L828.8,58.6L829.3,57.8L829.7,57.0L830.2,56.2L830.6,55.3L831.1,54.5L831.5,53.7L832.0,52.9L832.4,52.0L832.9,51.2L833.3,50.4L833.8,51.2L834.2,52.0L834.7,52.9L835.1,53.7L835.6,54.5L836.0,55.3L836.5,56.2L836.9,57.0L837.4,57.8L837.8,58.6L838.3,59.4L838.7,60.3L839.2,61.1L839.6,61.9L840.1,62.7L840.5,63.5L841.0,64.3L841.4,65.1L841.9,65.9L842.3,66.7L842.8,67.5L843.2,68.3L843.7,69.1L844.1,69.9L844.6,70.7L845.0,71.5L845.5,72.3L845.9,73.1L846.4,73.9L846.8,74.7L847.3,75.5L847.7,76.3L848.2,77.1L848.6,77.8L849.1,78.6L849.5,79.4L850.0,80.2L850.4,81.0L850.9,81.7L851.3,82.5L851.8,83.3L852.2,84.1L852.7,84.9L853.1,85.6L853.6,86.4L854.0,87.2L854.5,87.9L854.9,88.7L855.4,89.5L855.8,90.2L856.3,91.0L856.7,91.8L857.2,92.5L857.6,93.3L858.1,94.0L858.5,94.8L859.0,95.6L859.4,96.3L859.9,97.1L860.3,97.8L860.8,98.6L861.2,99.3L861.7,100.1L862.2,100.8L862.6,101.6L863.1,102.3L863.5,103.0L864.0,103.8L864.4,104.5L864.9,105.3L865.3,106.0L865.8,106.7L866.2,107.5L866.7,108.2L867.1,108.9L867.6,109.7L868.0,110.4L868.5,111.1L868.9,111.9L869.4,112.6L869.8,113.3L870.3,114.0L870.7,114.7L871.2,115.5L871.6,116.2L872.1,116.9L872.5,117.6L873.0,118.3L873.4,119.0L873.9,119.8L874.3,120.5L874.8,121.2L875.2,121.9L875.7,122.6L876.1,123.3L876.6,124.0L877.0,124.7L877.5,125.4L877.9,126.1L878.4,126.8L878.8,127.5L879.3,128.2L879.7,128.9L880.2,129.6L880.6,130.3L881.1,131.0L881.5,131.7L882.0,132.4L882.4,133.1L882.9,133.7L883.3,134.4L883.8,135.1L884.2,135.8L884.7,136.5L885.1,137.2L885.6,137.8L886.0,138.5L886.5,139.2L886.9,139.9L887.4,140.5L887.8,141.2L888.3,141.9L888.7,142.6L889.2,143.2L889.6,143.9L890.1,144.6L890.5,145.2L891.0,145.9L891.4,146.5L891.9,147.2L892.3,147.9L892.8,148.5L893.2,149.2L893.7,149.8L894.1,150.5L894.6,151.1L895.0,151.8L895.5,152.4L895.9,153.1L896.4,153.7L896.8,154.4L897.3,155.0L897.7,155.7L898.2,156.3L898.6,157.0L899.1,157.6L899.5,158.2L900.0,158.9L900.4,159.5L900.9,160.1L901.3,160.8L901.8,161.4L902.2,162.0L902.7,162.7L903.1,163.3L903.6,163.9L904.0,164.5L904.5,165.2L904.9,165.8" fill="none" stroke="#000000" stroke-width="2" stroke-linejoin="round"/>
<rect x="828.83" y="309.16" width="9" height="9" fill="rgb(0,230,0)" fill-opacity="0.4" stroke="#000" stroke-width="2"/>
<rect x="828.83" y="309.16" width="9" height="9" fill="rgb(0,230,0)" fill-opacity="0.4" stroke="#000" stroke-width="2"/>
<rect x="793.03" y="305.46" width="9" height="9" fill="rgb(0,230,0)" fill-opacity="0.4" stroke="#000" stroke-width="2"/>
<rect x="864.63" y="305.46" width="9" height="9" fill="rgb(0,230,0)" fill-opacity="0.4" stroke="#000" stroke-width="2"/>
<rect x="778.03" y="301.46" width="9" height="9" fill="rgb(0,230,0)" fill-opacity="0.4" stroke="#000" stroke-width="2"/>
<rect x="879.63" y="301.46" width="9" height="9" fill="rgb(0,230,0)" fill-opacity="0.4" stroke="#000" stroke-width="2"/>
<rect x="766.93" y="297.46" width="9" height="9" fill="rgb(0,230,0)" fill-opacity="0.4" stroke="#000" stroke-width="2"/>
<rect x="890.73" y="297.46" width="9" height="9" fill="rgb(0,230,0)" fill-opacity="0.4" stroke="#000" stroke-width="2"/>
<rect x="757.23" y="292.86" width="9" height="9" fill="rgb(0,230,0)" fill-opacity="0.4" stroke="#000" stroke-width="2"/>
<rect x="900.43" y="292.86" width="9" height="9" fill="rgb(0,230,0)" fill-opacity="0.4" stroke="#000" stroke-width="2"/>
<rect x="828.83" y="243.46" width="9" height="9" fill="rgb(0,230,0)" fill-opacity="0.4" stroke="#000" stroke-width="2"/>
<rect x="828.83" y="243.46" width="9" height="9" fill="rgb(0,230,0)" fill-opacity="0.4" stroke="#000" stroke-width="2"/>
<rect x="813.93" y="256.66" width="9" height="9" fill="rgb(0,230,0)" fill-opacity="0.4" stroke="#000" stroke-width="2"/>
<rect x="843.73" y="256.66" width="9" height="9" fill="rgb(0,230,0)" fill-opacity="0.4" stroke="#000" stroke-width="2"/>
<rect x="798.23" y="268.66" width="9" height="9" fill="rgb(0,230,0)" fill-opacity="0.4" stroke="#000" stroke-width="2"/>
<rect x="859.43" y="268.66" width="9" height="9" fill="rgb(0,230,0)" fill-opacity="0.4" stroke="#000" stroke-width="2"/>
<rect x="779.93" y="281.06" width="9" height="9" fill="rgb(0,230,0)" fill-opacity="0.4" stroke="#000" stroke-width="2"/>
<rect x="877.73" y="281.06" width="9" height="9" fill="rgb(0,230,0)" fill-opacity="0.4" stroke="#000" stroke-width="2"/>
<rect x="757.23" y="292.86" width="9" height="9" fill="rgb(0,230,0)" fill-opacity="0.4" stroke="#000" stroke-width="2"/>
<rect x="900.43" y="292.86" width="9" height="9" fill="rgb(0,230,0)" fill-opacity="0.4" stroke="#000" stroke-width="2"/>
<rect x="828.83" y="243.46" width="9" height="9" fill="rgb(0,230,0)" fill-opacity="0.4" stroke="#000" stroke-width="2"/>
<rect x="828.83" y="243.46" width="9" height="9" fill="rgb(0,230,0)" fill-opacity="0.4" stroke="#000" stroke-width="2"/>
<rect x="807.53" y="222.56" width="9" height="9" fill="rgb(0,230,0)" fill-opacity="0.4" stroke="#000" stroke-width="2"/>
<rect x="850.13" y="222.56" width="9" height="9" fill="rgb(0,230,0)" fill-opacity="0.4" stroke="#000" stroke-width="2"/>
<rect x="789.13" y="202.46" width="9" height="9" fill="rgb(0,230,0)" fill-opacity="0.4" stroke="#000" stroke-width="2"/>
<rect x="868.53" y="202.46" width="9" height="9" fill="rgb(0,230,0)" fill-opacity="0.4" stroke="#000" stroke-width="2"/>
<rect x="772.43" y="181.86" width="9" height="9" fill="rgb(0,230,0)" fill-opacity="0.4" stroke="#000" stroke-width="2"/>
<rect x="885.23" y="181.86" width="9" height="9" fill="rgb(0,230,0)" fill-opacity="0.4" stroke="#000" stroke-width="2"/>
<rect x="757.23" y="161.46" width="9" height="9" fill="rgb(0,230,0)" fill-opacity="0.4" stroke="#000" stroke-width="2"/>
<rect x="900.43" y="161.46" width="9" height="9" fill="rgb(0,230,0)" fill-opacity="0.4" stroke="#000" stroke-width="2"/>
<rect x="828.83" y="47.26" width="9" height="9" fill="rgb(0,230,0)" fill-opacity="0.4" stroke="#000" stroke-width="2"/>
<rect x="828.83" y="47.26" width="9" height="9" fill="rgb(0,230,0)" fill-opacity="0.4" stroke="#000" stroke-width="2"/>
<rect x="811.83" y="75.96" width="9" height="9" fill="rgb(0,230,0)" fill-opacity="0.4" stroke="#000" stroke-width="2"/>
<rect x="845.83" y="75.96" width="9" height="9" fill="rgb(0,230,0)" fill-opacity="0.4" stroke="#000" stroke-width="2"/>
<rect x="795.13" y="104.36" width="9" height="9" fill="rgb(0,230,0)" fill-opacity="0.4" stroke="#000" stroke-width="2"/>
<rect x="862.53" y="104.36" width="9" height="9" fill="rgb(0,230,0)" fill-opacity="0.4" stroke="#000" stroke-width="2"/>
<rect x="777.03" y="132.76" width="9" height="9" fill="rgb(0,230,0)" fill-opacity="0.4" stroke="#000" stroke-width="2"/>
<rect x="880.63" y="132.76" width="9" height="9" fill="rgb(0,230,0)" fill-opacity="0.4" stroke="#000" stroke-width="2"/>
<rect x="757.23" y="161.46" width="9" height="9" fill="rgb(0,230,0)" fill-opacity="0.4" stroke="#000" stroke-width="2"/>
<rect x="900.43" y="161.46" width="9" height="9" fill="rgb(0,230,0)" fill-opacity="0.4" stroke="#000" stroke-width="2"/>
</g>
<path d="M761.73,481.20h4M904.93,481.20h-4M761.73,414.39h4M904.93,414.39h-4M761.73,347.57h4M904.93,347.57h-4M761.73,280.76h4M904.93,280.76h-4M761.73,213.94h4M904.93,213.94h-4M761.73,147.13h4M904.93,147.13h-4M761.73,80.31h4M904.93,80.31h-4M761.73,13.50h4M904.93,13.50h-4M797.53,13.50v4M797.53,481.20v-4M833.33,13.50v4M833.33,481.20v-4M869.13,13.50v4M869.13,481.20v-4" stroke="#222" stroke-width="1" fill="none"/>
<rect x="761.50" y="13.50" width="143.00" height="468.00" fill="none" stroke="#000" stroke-width="1.2"/>
<text transform="translate(69.6,486.20) scale(1.110,1)" text-anchor="end" font-family="Liberation Sans, sans-serif" font-size="19.5" fill="#000" stroke="#000" stroke-width="0.25">0</text>
<text transform="translate(69.6,419.39) scale(1.110,1)" text-anchor="end" font-family="Liberation Sans, sans-serif" font-size="19.5" fill="#000" stroke="#000" stroke-width="0.25">20</text>
<text transform="translate(69.6,352.57) scale(1.110,1)" text-anchor="end" font-family="Liberation Sans, sans-serif" font-size="19.5" fill="#000" stroke="#000" stroke-width="0.25">40</text>
<text transform="translate(69.6,285.76) scale(1.110,1)" text-anchor="end" font-family="Liberation Sans, sans-serif" font-size="19.5" fill="#000" stroke="#000" stroke-width="0.25">60</text>
<text transform="translate(69.6,218.94) scale(1.110,1)" text-anchor="end" font-family="Liberation Sans, sans-serif" font-size="19.5" fill="#000" stroke="#000" stroke-width="0.25">80</text>
<text transform="translate(69.6,152.13) scale(1.110,1)" text-anchor="end" font-family="Liberation Sans, sans-serif" font-size="19.5" fill="#000" stroke="#000" stroke-width="0.25">100</text>
<text transform="translate(69.6,85.31) scale(1.110,1)" text-anchor="end" font-family="Liberation Sans, sans-serif" font-size="19.5" fill="#000" stroke="#000" stroke-width="0.25">120</text>
<text transform="translate(69.6,18.50) scale(1.110,1)" text-anchor="end" font-family="Liberation Sans, sans-serif" font-size="19.5" fill="#000" stroke="#000" stroke-width="0.25">140</text>
<text transform="translate(72.85,499.60) scale(1.110,1)" text-anchor="middle" font-family="Liberation Sans, sans-serif" font-size="19.5" fill="#000" stroke="#000" stroke-width="0.25">-1</text>
<text transform="translate(145.05,499.60) scale(1.110,1)" text-anchor="middle" font-family="Liberation Sans, sans-serif" font-size="19.5" fill="#000" stroke="#000" stroke-width="0.25">0</text>
<text transform="translate(216.65,499.60) scale(1.110,1)" text-anchor="middle" font-family="Liberation Sans, sans-serif" font-size="19.5" fill="#000" stroke="#000" stroke-width="0.25">1</text>
<text transform="translate(244.92,499.60) scale(1.110,1)" text-anchor="middle" font-family="Liberation Sans, sans-serif" font-size="19.5" fill="#000" stroke="#000" stroke-width="0.25">-1</text>
<text transform="translate(317.12,499.60) scale(1.110,1)" text-anchor="middle" font-family="Liberation Sans, sans-serif" font-size="19.5" fill="#000" stroke="#000" stroke-width="0.25">0</text>
<text transform="translate(388.72,499.60) scale(1.110,1)" text-anchor="middle" font-family="Liberation Sans, sans-serif" font-size="19.5" fill="#000" stroke="#000" stroke-width="0.25">1</text>
<text transform="translate(416.99,499.60) scale(1.110,1)" text-anchor="middle" font-family="Liberation Sans, sans-serif" font-size="19.5" fill="#000" stroke="#000" stroke-width="0.25">-1</text>
<text transform="translate(489.19,499.60) scale(1.110,1)" text-anchor="middle" font-family="Liberation Sans, sans-serif" font-size="19.5" fill="#000" stroke="#000" stroke-width="0.25">0</text>
<text transform="translate(560.79,499.60) scale(1.110,1)" text-anchor="middle" font-family="Liberation Sans, sans-serif" font-size="19.5" fill="#000" stroke="#000" stroke-width="0.25">1</text>
<text transform="translate(589.06,499.60) scale(1.110,1)" text-anchor="middle" font-family="Liberation Sans, sans-serif" font-size="19.5" fill="#000" stroke="#000" stroke-width="0.25">-1</text>
<text transform="translate(661.26,499.60) scale(1.110,1)" text-anchor="middle" font-family="Liberation Sans, sans-serif" font-size="19.5" fill="#000" stroke="#000" stroke-width="0.25">0</text>
<text transform="translate(732.86,499.60) scale(1.110,1)" text-anchor="middle" font-family="Liberation Sans, sans-serif" font-size="19.5" fill="#000" stroke="#000" stroke-width="0.25">1</text>
<text transform="translate(761.13,499.60) scale(1.110,1)" text-anchor="middle" font-family="Liberation Sans, sans-serif" font-size="19.5" fill="#000" stroke="#000" stroke-width="0.25">-1</text>
<text transform="translate(833.33,499.60) scale(1.110,1)" text-anchor="middle" font-family="Liberation Sans, sans-serif" font-size="19.5" fill="#000" stroke="#000" stroke-width="0.25">0</text>
<text transform="translate(904.93,499.60) scale(1.110,1)" text-anchor="middle" font-family="Liberation Sans, sans-serif" font-size="19.5" fill="#000" stroke="#000" stroke-width="0.25">1</text>
<text transform="translate(455.6,529) scale(1.07,1)" font-size="29.8" font-family="Liberation Serif, serif" font-style="italic" fill="#000">K</text>
<text transform="translate(478.2,529) scale(1.12,1)" font-size="28.5" font-family="Liberation Serif, serif" font-style="italic" fill="#000">a</text>
<line x1="505.6" y1="508.6" x2="495.4" y2="535.2" stroke="#000" stroke-width="1.5" stroke-linecap="round"/>
<text transform="translate(507.6,529) scale(1.0,1)" font-size="28.5" font-family="Liberation Serif, serif" font-style="italic" fill="#000">π</text>
<text transform="translate(22.9,246.6) rotate(-90) scale(1.14,1)" text-anchor="middle" font-size="29.6" font-family="Liberation Serif, serif" font-style="italic" fill="#000">E</text>
</svg></body></html>
